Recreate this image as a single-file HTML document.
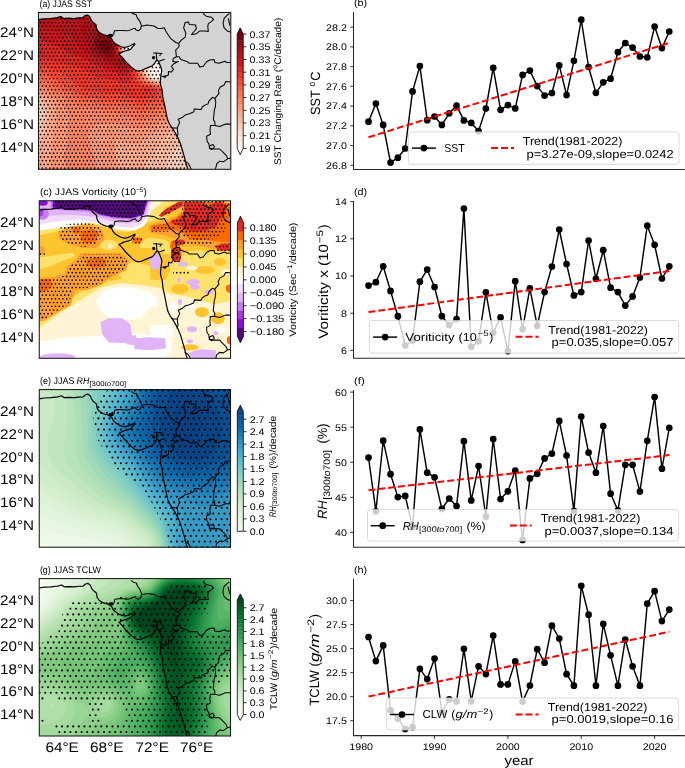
<!DOCTYPE html><html><head><meta charset="utf-8"><style>html,body{margin:0;padding:0;background:#fff;}svg{display:block;}</style></head><body>
<div style="will-change:transform;width:685px;height:768px">
<svg width="685" height="768" viewBox="0 0 685 768" font-family='"Liberation Sans", sans-serif' text-rendering="geometricPrecision">
<defs>
<clipPath id="clipA"><rect x="38.45" y="12.45" width="192.35" height="156.85"/></clipPath>
<clipPath id="clipC"><rect x="39.25" y="200.8" width="191.30" height="157.50"/></clipPath>
<clipPath id="clipE"><rect x="39.25" y="389.6" width="191.30" height="157.60"/></clipPath>
<clipPath id="clipG"><rect x="39.25" y="578.6" width="191.30" height="157.40"/></clipPath>
<pattern id="st3" patternUnits="userSpaceOnUse" x="0" y="0" width="67" height="67" patternTransform="scale(1.002985)"><g fill="#000"><circle cx="-0.55" cy="0.11" r="0.85"/><circle cx="3.17" cy="0.11" r="0.85"/><circle cx="6.89" cy="0.11" r="0.85"/><circle cx="10.62" cy="0.11" r="0.85"/><circle cx="14.34" cy="0.11" r="0.85"/><circle cx="18.06" cy="0.11" r="0.85"/><circle cx="21.78" cy="0.11" r="0.85"/><circle cx="25.51" cy="0.11" r="0.85"/><circle cx="29.23" cy="0.11" r="0.85"/><circle cx="32.95" cy="0.11" r="0.85"/><circle cx="36.67" cy="0.11" r="0.85"/><circle cx="40.39" cy="0.11" r="0.85"/><circle cx="44.12" cy="0.11" r="0.85"/><circle cx="47.84" cy="0.11" r="0.85"/><circle cx="51.56" cy="0.11" r="0.85"/><circle cx="55.28" cy="0.11" r="0.85"/><circle cx="59.01" cy="0.11" r="0.85"/><circle cx="62.73" cy="0.11" r="0.85"/><circle cx="66.45" cy="0.11" r="0.85"/><circle cx="1.31" cy="3.83" r="0.85"/><circle cx="5.03" cy="3.83" r="0.85"/><circle cx="8.76" cy="3.83" r="0.85"/><circle cx="12.48" cy="3.83" r="0.85"/><circle cx="16.20" cy="3.83" r="0.85"/><circle cx="19.92" cy="3.83" r="0.85"/><circle cx="23.64" cy="3.83" r="0.85"/><circle cx="27.37" cy="3.83" r="0.85"/><circle cx="31.09" cy="3.83" r="0.85"/><circle cx="34.81" cy="3.83" r="0.85"/><circle cx="38.53" cy="3.83" r="0.85"/><circle cx="42.26" cy="3.83" r="0.85"/><circle cx="45.98" cy="3.83" r="0.85"/><circle cx="49.70" cy="3.83" r="0.85"/><circle cx="53.42" cy="3.83" r="0.85"/><circle cx="57.14" cy="3.83" r="0.85"/><circle cx="60.87" cy="3.83" r="0.85"/><circle cx="64.59" cy="3.83" r="0.85"/><circle cx="68.31" cy="3.83" r="0.85"/><circle cx="-0.55" cy="7.55" r="0.85"/><circle cx="3.17" cy="7.55" r="0.85"/><circle cx="6.89" cy="7.55" r="0.85"/><circle cx="10.62" cy="7.55" r="0.85"/><circle cx="14.34" cy="7.55" r="0.85"/><circle cx="18.06" cy="7.55" r="0.85"/><circle cx="21.78" cy="7.55" r="0.85"/><circle cx="25.51" cy="7.55" r="0.85"/><circle cx="29.23" cy="7.55" r="0.85"/><circle cx="32.95" cy="7.55" r="0.85"/><circle cx="36.67" cy="7.55" r="0.85"/><circle cx="40.39" cy="7.55" r="0.85"/><circle cx="44.12" cy="7.55" r="0.85"/><circle cx="47.84" cy="7.55" r="0.85"/><circle cx="51.56" cy="7.55" r="0.85"/><circle cx="55.28" cy="7.55" r="0.85"/><circle cx="59.01" cy="7.55" r="0.85"/><circle cx="62.73" cy="7.55" r="0.85"/><circle cx="66.45" cy="7.55" r="0.85"/><circle cx="1.31" cy="11.28" r="0.85"/><circle cx="5.03" cy="11.28" r="0.85"/><circle cx="8.76" cy="11.28" r="0.85"/><circle cx="12.48" cy="11.28" r="0.85"/><circle cx="16.20" cy="11.28" r="0.85"/><circle cx="19.92" cy="11.28" r="0.85"/><circle cx="23.64" cy="11.28" r="0.85"/><circle cx="27.37" cy="11.28" r="0.85"/><circle cx="31.09" cy="11.28" r="0.85"/><circle cx="34.81" cy="11.28" r="0.85"/><circle cx="38.53" cy="11.28" r="0.85"/><circle cx="42.26" cy="11.28" r="0.85"/><circle cx="45.98" cy="11.28" r="0.85"/><circle cx="49.70" cy="11.28" r="0.85"/><circle cx="53.42" cy="11.28" r="0.85"/><circle cx="57.14" cy="11.28" r="0.85"/><circle cx="60.87" cy="11.28" r="0.85"/><circle cx="64.59" cy="11.28" r="0.85"/><circle cx="68.31" cy="11.28" r="0.85"/><circle cx="-0.55" cy="15.00" r="0.85"/><circle cx="3.17" cy="15.00" r="0.85"/><circle cx="6.89" cy="15.00" r="0.85"/><circle cx="10.62" cy="15.00" r="0.85"/><circle cx="14.34" cy="15.00" r="0.85"/><circle cx="18.06" cy="15.00" r="0.85"/><circle cx="21.78" cy="15.00" r="0.85"/><circle cx="25.51" cy="15.00" r="0.85"/><circle cx="29.23" cy="15.00" r="0.85"/><circle cx="32.95" cy="15.00" r="0.85"/><circle cx="36.67" cy="15.00" r="0.85"/><circle cx="40.39" cy="15.00" r="0.85"/><circle cx="44.12" cy="15.00" r="0.85"/><circle cx="47.84" cy="15.00" r="0.85"/><circle cx="51.56" cy="15.00" r="0.85"/><circle cx="55.28" cy="15.00" r="0.85"/><circle cx="59.01" cy="15.00" r="0.85"/><circle cx="62.73" cy="15.00" r="0.85"/><circle cx="66.45" cy="15.00" r="0.85"/><circle cx="1.31" cy="18.72" r="0.85"/><circle cx="5.03" cy="18.72" r="0.85"/><circle cx="8.76" cy="18.72" r="0.85"/><circle cx="12.48" cy="18.72" r="0.85"/><circle cx="16.20" cy="18.72" r="0.85"/><circle cx="19.92" cy="18.72" r="0.85"/><circle cx="23.64" cy="18.72" r="0.85"/><circle cx="27.37" cy="18.72" r="0.85"/><circle cx="31.09" cy="18.72" r="0.85"/><circle cx="34.81" cy="18.72" r="0.85"/><circle cx="38.53" cy="18.72" r="0.85"/><circle cx="42.26" cy="18.72" r="0.85"/><circle cx="45.98" cy="18.72" r="0.85"/><circle cx="49.70" cy="18.72" r="0.85"/><circle cx="53.42" cy="18.72" r="0.85"/><circle cx="57.14" cy="18.72" r="0.85"/><circle cx="60.87" cy="18.72" r="0.85"/><circle cx="64.59" cy="18.72" r="0.85"/><circle cx="68.31" cy="18.72" r="0.85"/><circle cx="-0.55" cy="22.44" r="0.85"/><circle cx="3.17" cy="22.44" r="0.85"/><circle cx="6.89" cy="22.44" r="0.85"/><circle cx="10.62" cy="22.44" r="0.85"/><circle cx="14.34" cy="22.44" r="0.85"/><circle cx="18.06" cy="22.44" r="0.85"/><circle cx="21.78" cy="22.44" r="0.85"/><circle cx="25.51" cy="22.44" r="0.85"/><circle cx="29.23" cy="22.44" r="0.85"/><circle cx="32.95" cy="22.44" r="0.85"/><circle cx="36.67" cy="22.44" r="0.85"/><circle cx="40.39" cy="22.44" r="0.85"/><circle cx="44.12" cy="22.44" r="0.85"/><circle cx="47.84" cy="22.44" r="0.85"/><circle cx="51.56" cy="22.44" r="0.85"/><circle cx="55.28" cy="22.44" r="0.85"/><circle cx="59.01" cy="22.44" r="0.85"/><circle cx="62.73" cy="22.44" r="0.85"/><circle cx="66.45" cy="22.44" r="0.85"/><circle cx="1.31" cy="26.17" r="0.85"/><circle cx="5.03" cy="26.17" r="0.85"/><circle cx="8.76" cy="26.17" r="0.85"/><circle cx="12.48" cy="26.17" r="0.85"/><circle cx="16.20" cy="26.17" r="0.85"/><circle cx="19.92" cy="26.17" r="0.85"/><circle cx="23.64" cy="26.17" r="0.85"/><circle cx="27.37" cy="26.17" r="0.85"/><circle cx="31.09" cy="26.17" r="0.85"/><circle cx="34.81" cy="26.17" r="0.85"/><circle cx="38.53" cy="26.17" r="0.85"/><circle cx="42.26" cy="26.17" r="0.85"/><circle cx="45.98" cy="26.17" r="0.85"/><circle cx="49.70" cy="26.17" r="0.85"/><circle cx="53.42" cy="26.17" r="0.85"/><circle cx="57.14" cy="26.17" r="0.85"/><circle cx="60.87" cy="26.17" r="0.85"/><circle cx="64.59" cy="26.17" r="0.85"/><circle cx="68.31" cy="26.17" r="0.85"/><circle cx="-0.55" cy="29.89" r="0.85"/><circle cx="3.17" cy="29.89" r="0.85"/><circle cx="6.89" cy="29.89" r="0.85"/><circle cx="10.62" cy="29.89" r="0.85"/><circle cx="14.34" cy="29.89" r="0.85"/><circle cx="18.06" cy="29.89" r="0.85"/><circle cx="21.78" cy="29.89" r="0.85"/><circle cx="25.51" cy="29.89" r="0.85"/><circle cx="29.23" cy="29.89" r="0.85"/><circle cx="32.95" cy="29.89" r="0.85"/><circle cx="36.67" cy="29.89" r="0.85"/><circle cx="40.39" cy="29.89" r="0.85"/><circle cx="44.12" cy="29.89" r="0.85"/><circle cx="47.84" cy="29.89" r="0.85"/><circle cx="51.56" cy="29.89" r="0.85"/><circle cx="55.28" cy="29.89" r="0.85"/><circle cx="59.01" cy="29.89" r="0.85"/><circle cx="62.73" cy="29.89" r="0.85"/><circle cx="66.45" cy="29.89" r="0.85"/><circle cx="1.31" cy="33.61" r="0.85"/><circle cx="5.03" cy="33.61" r="0.85"/><circle cx="8.76" cy="33.61" r="0.85"/><circle cx="12.48" cy="33.61" r="0.85"/><circle cx="16.20" cy="33.61" r="0.85"/><circle cx="19.92" cy="33.61" r="0.85"/><circle cx="23.64" cy="33.61" r="0.85"/><circle cx="27.37" cy="33.61" r="0.85"/><circle cx="31.09" cy="33.61" r="0.85"/><circle cx="34.81" cy="33.61" r="0.85"/><circle cx="38.53" cy="33.61" r="0.85"/><circle cx="42.26" cy="33.61" r="0.85"/><circle cx="45.98" cy="33.61" r="0.85"/><circle cx="49.70" cy="33.61" r="0.85"/><circle cx="53.42" cy="33.61" r="0.85"/><circle cx="57.14" cy="33.61" r="0.85"/><circle cx="60.87" cy="33.61" r="0.85"/><circle cx="64.59" cy="33.61" r="0.85"/><circle cx="68.31" cy="33.61" r="0.85"/><circle cx="-0.55" cy="37.33" r="0.85"/><circle cx="3.17" cy="37.33" r="0.85"/><circle cx="6.89" cy="37.33" r="0.85"/><circle cx="10.62" cy="37.33" r="0.85"/><circle cx="14.34" cy="37.33" r="0.85"/><circle cx="18.06" cy="37.33" r="0.85"/><circle cx="21.78" cy="37.33" r="0.85"/><circle cx="25.51" cy="37.33" r="0.85"/><circle cx="29.23" cy="37.33" r="0.85"/><circle cx="32.95" cy="37.33" r="0.85"/><circle cx="36.67" cy="37.33" r="0.85"/><circle cx="40.39" cy="37.33" r="0.85"/><circle cx="44.12" cy="37.33" r="0.85"/><circle cx="47.84" cy="37.33" r="0.85"/><circle cx="51.56" cy="37.33" r="0.85"/><circle cx="55.28" cy="37.33" r="0.85"/><circle cx="59.01" cy="37.33" r="0.85"/><circle cx="62.73" cy="37.33" r="0.85"/><circle cx="66.45" cy="37.33" r="0.85"/><circle cx="1.31" cy="41.05" r="0.85"/><circle cx="5.03" cy="41.05" r="0.85"/><circle cx="8.76" cy="41.05" r="0.85"/><circle cx="12.48" cy="41.05" r="0.85"/><circle cx="16.20" cy="41.05" r="0.85"/><circle cx="19.92" cy="41.05" r="0.85"/><circle cx="23.64" cy="41.05" r="0.85"/><circle cx="27.37" cy="41.05" r="0.85"/><circle cx="31.09" cy="41.05" r="0.85"/><circle cx="34.81" cy="41.05" r="0.85"/><circle cx="38.53" cy="41.05" r="0.85"/><circle cx="42.26" cy="41.05" r="0.85"/><circle cx="45.98" cy="41.05" r="0.85"/><circle cx="49.70" cy="41.05" r="0.85"/><circle cx="53.42" cy="41.05" r="0.85"/><circle cx="57.14" cy="41.05" r="0.85"/><circle cx="60.87" cy="41.05" r="0.85"/><circle cx="64.59" cy="41.05" r="0.85"/><circle cx="68.31" cy="41.05" r="0.85"/><circle cx="-0.55" cy="44.78" r="0.85"/><circle cx="3.17" cy="44.78" r="0.85"/><circle cx="6.89" cy="44.78" r="0.85"/><circle cx="10.62" cy="44.78" r="0.85"/><circle cx="14.34" cy="44.78" r="0.85"/><circle cx="18.06" cy="44.78" r="0.85"/><circle cx="21.78" cy="44.78" r="0.85"/><circle cx="25.51" cy="44.78" r="0.85"/><circle cx="29.23" cy="44.78" r="0.85"/><circle cx="32.95" cy="44.78" r="0.85"/><circle cx="36.67" cy="44.78" r="0.85"/><circle cx="40.39" cy="44.78" r="0.85"/><circle cx="44.12" cy="44.78" r="0.85"/><circle cx="47.84" cy="44.78" r="0.85"/><circle cx="51.56" cy="44.78" r="0.85"/><circle cx="55.28" cy="44.78" r="0.85"/><circle cx="59.01" cy="44.78" r="0.85"/><circle cx="62.73" cy="44.78" r="0.85"/><circle cx="66.45" cy="44.78" r="0.85"/><circle cx="1.31" cy="48.50" r="0.85"/><circle cx="5.03" cy="48.50" r="0.85"/><circle cx="8.76" cy="48.50" r="0.85"/><circle cx="12.48" cy="48.50" r="0.85"/><circle cx="16.20" cy="48.50" r="0.85"/><circle cx="19.92" cy="48.50" r="0.85"/><circle cx="23.64" cy="48.50" r="0.85"/><circle cx="27.37" cy="48.50" r="0.85"/><circle cx="31.09" cy="48.50" r="0.85"/><circle cx="34.81" cy="48.50" r="0.85"/><circle cx="38.53" cy="48.50" r="0.85"/><circle cx="42.26" cy="48.50" r="0.85"/><circle cx="45.98" cy="48.50" r="0.85"/><circle cx="49.70" cy="48.50" r="0.85"/><circle cx="53.42" cy="48.50" r="0.85"/><circle cx="57.14" cy="48.50" r="0.85"/><circle cx="60.87" cy="48.50" r="0.85"/><circle cx="64.59" cy="48.50" r="0.85"/><circle cx="68.31" cy="48.50" r="0.85"/><circle cx="-0.55" cy="52.22" r="0.85"/><circle cx="3.17" cy="52.22" r="0.85"/><circle cx="6.89" cy="52.22" r="0.85"/><circle cx="10.62" cy="52.22" r="0.85"/><circle cx="14.34" cy="52.22" r="0.85"/><circle cx="18.06" cy="52.22" r="0.85"/><circle cx="21.78" cy="52.22" r="0.85"/><circle cx="25.51" cy="52.22" r="0.85"/><circle cx="29.23" cy="52.22" r="0.85"/><circle cx="32.95" cy="52.22" r="0.85"/><circle cx="36.67" cy="52.22" r="0.85"/><circle cx="40.39" cy="52.22" r="0.85"/><circle cx="44.12" cy="52.22" r="0.85"/><circle cx="47.84" cy="52.22" r="0.85"/><circle cx="51.56" cy="52.22" r="0.85"/><circle cx="55.28" cy="52.22" r="0.85"/><circle cx="59.01" cy="52.22" r="0.85"/><circle cx="62.73" cy="52.22" r="0.85"/><circle cx="66.45" cy="52.22" r="0.85"/><circle cx="1.31" cy="55.94" r="0.85"/><circle cx="5.03" cy="55.94" r="0.85"/><circle cx="8.76" cy="55.94" r="0.85"/><circle cx="12.48" cy="55.94" r="0.85"/><circle cx="16.20" cy="55.94" r="0.85"/><circle cx="19.92" cy="55.94" r="0.85"/><circle cx="23.64" cy="55.94" r="0.85"/><circle cx="27.37" cy="55.94" r="0.85"/><circle cx="31.09" cy="55.94" r="0.85"/><circle cx="34.81" cy="55.94" r="0.85"/><circle cx="38.53" cy="55.94" r="0.85"/><circle cx="42.26" cy="55.94" r="0.85"/><circle cx="45.98" cy="55.94" r="0.85"/><circle cx="49.70" cy="55.94" r="0.85"/><circle cx="53.42" cy="55.94" r="0.85"/><circle cx="57.14" cy="55.94" r="0.85"/><circle cx="60.87" cy="55.94" r="0.85"/><circle cx="64.59" cy="55.94" r="0.85"/><circle cx="68.31" cy="55.94" r="0.85"/><circle cx="-0.55" cy="59.67" r="0.85"/><circle cx="3.17" cy="59.67" r="0.85"/><circle cx="6.89" cy="59.67" r="0.85"/><circle cx="10.62" cy="59.67" r="0.85"/><circle cx="14.34" cy="59.67" r="0.85"/><circle cx="18.06" cy="59.67" r="0.85"/><circle cx="21.78" cy="59.67" r="0.85"/><circle cx="25.51" cy="59.67" r="0.85"/><circle cx="29.23" cy="59.67" r="0.85"/><circle cx="32.95" cy="59.67" r="0.85"/><circle cx="36.67" cy="59.67" r="0.85"/><circle cx="40.39" cy="59.67" r="0.85"/><circle cx="44.12" cy="59.67" r="0.85"/><circle cx="47.84" cy="59.67" r="0.85"/><circle cx="51.56" cy="59.67" r="0.85"/><circle cx="55.28" cy="59.67" r="0.85"/><circle cx="59.01" cy="59.67" r="0.85"/><circle cx="62.73" cy="59.67" r="0.85"/><circle cx="66.45" cy="59.67" r="0.85"/><circle cx="1.31" cy="63.39" r="0.85"/><circle cx="5.03" cy="63.39" r="0.85"/><circle cx="8.76" cy="63.39" r="0.85"/><circle cx="12.48" cy="63.39" r="0.85"/><circle cx="16.20" cy="63.39" r="0.85"/><circle cx="19.92" cy="63.39" r="0.85"/><circle cx="23.64" cy="63.39" r="0.85"/><circle cx="27.37" cy="63.39" r="0.85"/><circle cx="31.09" cy="63.39" r="0.85"/><circle cx="34.81" cy="63.39" r="0.85"/><circle cx="38.53" cy="63.39" r="0.85"/><circle cx="42.26" cy="63.39" r="0.85"/><circle cx="45.98" cy="63.39" r="0.85"/><circle cx="49.70" cy="63.39" r="0.85"/><circle cx="53.42" cy="63.39" r="0.85"/><circle cx="57.14" cy="63.39" r="0.85"/><circle cx="60.87" cy="63.39" r="0.85"/><circle cx="64.59" cy="63.39" r="0.85"/><circle cx="68.31" cy="63.39" r="0.85"/><circle cx="-0.55" cy="67.11" r="0.85"/><circle cx="3.17" cy="67.11" r="0.85"/><circle cx="6.89" cy="67.11" r="0.85"/><circle cx="10.62" cy="67.11" r="0.85"/><circle cx="14.34" cy="67.11" r="0.85"/><circle cx="18.06" cy="67.11" r="0.85"/><circle cx="21.78" cy="67.11" r="0.85"/><circle cx="25.51" cy="67.11" r="0.85"/><circle cx="29.23" cy="67.11" r="0.85"/><circle cx="32.95" cy="67.11" r="0.85"/><circle cx="36.67" cy="67.11" r="0.85"/><circle cx="40.39" cy="67.11" r="0.85"/><circle cx="44.12" cy="67.11" r="0.85"/><circle cx="47.84" cy="67.11" r="0.85"/><circle cx="51.56" cy="67.11" r="0.85"/><circle cx="55.28" cy="67.11" r="0.85"/><circle cx="59.01" cy="67.11" r="0.85"/><circle cx="62.73" cy="67.11" r="0.85"/><circle cx="66.45" cy="67.11" r="0.85"/></g></pattern>
<pattern id="st2" patternUnits="userSpaceOnUse" x="0" y="0" width="67" height="67" patternTransform="scale(1.002985)"><g fill="#000"><circle cx="0.42" cy="-1.60" r="1.05"/><circle cx="6.00" cy="-1.60" r="1.05"/><circle cx="11.59" cy="-1.60" r="1.05"/><circle cx="17.17" cy="-1.60" r="1.05"/><circle cx="22.75" cy="-1.60" r="1.05"/><circle cx="28.34" cy="-1.60" r="1.05"/><circle cx="33.92" cy="-1.60" r="1.05"/><circle cx="39.50" cy="-1.60" r="1.05"/><circle cx="45.09" cy="-1.60" r="1.05"/><circle cx="50.67" cy="-1.60" r="1.05"/><circle cx="56.25" cy="-1.60" r="1.05"/><circle cx="61.84" cy="-1.60" r="1.05"/><circle cx="67.42" cy="-1.60" r="1.05"/><circle cx="3.21" cy="3.98" r="1.05"/><circle cx="8.79" cy="3.98" r="1.05"/><circle cx="14.38" cy="3.98" r="1.05"/><circle cx="19.96" cy="3.98" r="1.05"/><circle cx="25.54" cy="3.98" r="1.05"/><circle cx="31.13" cy="3.98" r="1.05"/><circle cx="36.71" cy="3.98" r="1.05"/><circle cx="42.29" cy="3.98" r="1.05"/><circle cx="47.88" cy="3.98" r="1.05"/><circle cx="53.46" cy="3.98" r="1.05"/><circle cx="59.04" cy="3.98" r="1.05"/><circle cx="64.63" cy="3.98" r="1.05"/><circle cx="0.42" cy="9.57" r="1.05"/><circle cx="6.00" cy="9.57" r="1.05"/><circle cx="11.59" cy="9.57" r="1.05"/><circle cx="17.17" cy="9.57" r="1.05"/><circle cx="22.75" cy="9.57" r="1.05"/><circle cx="28.34" cy="9.57" r="1.05"/><circle cx="33.92" cy="9.57" r="1.05"/><circle cx="39.50" cy="9.57" r="1.05"/><circle cx="45.09" cy="9.57" r="1.05"/><circle cx="50.67" cy="9.57" r="1.05"/><circle cx="56.25" cy="9.57" r="1.05"/><circle cx="61.84" cy="9.57" r="1.05"/><circle cx="67.42" cy="9.57" r="1.05"/><circle cx="3.21" cy="15.15" r="1.05"/><circle cx="8.79" cy="15.15" r="1.05"/><circle cx="14.38" cy="15.15" r="1.05"/><circle cx="19.96" cy="15.15" r="1.05"/><circle cx="25.54" cy="15.15" r="1.05"/><circle cx="31.13" cy="15.15" r="1.05"/><circle cx="36.71" cy="15.15" r="1.05"/><circle cx="42.29" cy="15.15" r="1.05"/><circle cx="47.88" cy="15.15" r="1.05"/><circle cx="53.46" cy="15.15" r="1.05"/><circle cx="59.04" cy="15.15" r="1.05"/><circle cx="64.63" cy="15.15" r="1.05"/><circle cx="0.42" cy="20.73" r="1.05"/><circle cx="6.00" cy="20.73" r="1.05"/><circle cx="11.59" cy="20.73" r="1.05"/><circle cx="17.17" cy="20.73" r="1.05"/><circle cx="22.75" cy="20.73" r="1.05"/><circle cx="28.34" cy="20.73" r="1.05"/><circle cx="33.92" cy="20.73" r="1.05"/><circle cx="39.50" cy="20.73" r="1.05"/><circle cx="45.09" cy="20.73" r="1.05"/><circle cx="50.67" cy="20.73" r="1.05"/><circle cx="56.25" cy="20.73" r="1.05"/><circle cx="61.84" cy="20.73" r="1.05"/><circle cx="67.42" cy="20.73" r="1.05"/><circle cx="3.21" cy="26.32" r="1.05"/><circle cx="8.79" cy="26.32" r="1.05"/><circle cx="14.38" cy="26.32" r="1.05"/><circle cx="19.96" cy="26.32" r="1.05"/><circle cx="25.54" cy="26.32" r="1.05"/><circle cx="31.13" cy="26.32" r="1.05"/><circle cx="36.71" cy="26.32" r="1.05"/><circle cx="42.29" cy="26.32" r="1.05"/><circle cx="47.88" cy="26.32" r="1.05"/><circle cx="53.46" cy="26.32" r="1.05"/><circle cx="59.04" cy="26.32" r="1.05"/><circle cx="64.63" cy="26.32" r="1.05"/><circle cx="0.42" cy="31.90" r="1.05"/><circle cx="6.00" cy="31.90" r="1.05"/><circle cx="11.59" cy="31.90" r="1.05"/><circle cx="17.17" cy="31.90" r="1.05"/><circle cx="22.75" cy="31.90" r="1.05"/><circle cx="28.34" cy="31.90" r="1.05"/><circle cx="33.92" cy="31.90" r="1.05"/><circle cx="39.50" cy="31.90" r="1.05"/><circle cx="45.09" cy="31.90" r="1.05"/><circle cx="50.67" cy="31.90" r="1.05"/><circle cx="56.25" cy="31.90" r="1.05"/><circle cx="61.84" cy="31.90" r="1.05"/><circle cx="67.42" cy="31.90" r="1.05"/><circle cx="3.21" cy="37.48" r="1.05"/><circle cx="8.79" cy="37.48" r="1.05"/><circle cx="14.38" cy="37.48" r="1.05"/><circle cx="19.96" cy="37.48" r="1.05"/><circle cx="25.54" cy="37.48" r="1.05"/><circle cx="31.13" cy="37.48" r="1.05"/><circle cx="36.71" cy="37.48" r="1.05"/><circle cx="42.29" cy="37.48" r="1.05"/><circle cx="47.88" cy="37.48" r="1.05"/><circle cx="53.46" cy="37.48" r="1.05"/><circle cx="59.04" cy="37.48" r="1.05"/><circle cx="64.63" cy="37.48" r="1.05"/><circle cx="0.42" cy="43.07" r="1.05"/><circle cx="6.00" cy="43.07" r="1.05"/><circle cx="11.59" cy="43.07" r="1.05"/><circle cx="17.17" cy="43.07" r="1.05"/><circle cx="22.75" cy="43.07" r="1.05"/><circle cx="28.34" cy="43.07" r="1.05"/><circle cx="33.92" cy="43.07" r="1.05"/><circle cx="39.50" cy="43.07" r="1.05"/><circle cx="45.09" cy="43.07" r="1.05"/><circle cx="50.67" cy="43.07" r="1.05"/><circle cx="56.25" cy="43.07" r="1.05"/><circle cx="61.84" cy="43.07" r="1.05"/><circle cx="67.42" cy="43.07" r="1.05"/><circle cx="3.21" cy="48.65" r="1.05"/><circle cx="8.79" cy="48.65" r="1.05"/><circle cx="14.38" cy="48.65" r="1.05"/><circle cx="19.96" cy="48.65" r="1.05"/><circle cx="25.54" cy="48.65" r="1.05"/><circle cx="31.13" cy="48.65" r="1.05"/><circle cx="36.71" cy="48.65" r="1.05"/><circle cx="42.29" cy="48.65" r="1.05"/><circle cx="47.88" cy="48.65" r="1.05"/><circle cx="53.46" cy="48.65" r="1.05"/><circle cx="59.04" cy="48.65" r="1.05"/><circle cx="64.63" cy="48.65" r="1.05"/><circle cx="0.42" cy="54.23" r="1.05"/><circle cx="6.00" cy="54.23" r="1.05"/><circle cx="11.59" cy="54.23" r="1.05"/><circle cx="17.17" cy="54.23" r="1.05"/><circle cx="22.75" cy="54.23" r="1.05"/><circle cx="28.34" cy="54.23" r="1.05"/><circle cx="33.92" cy="54.23" r="1.05"/><circle cx="39.50" cy="54.23" r="1.05"/><circle cx="45.09" cy="54.23" r="1.05"/><circle cx="50.67" cy="54.23" r="1.05"/><circle cx="56.25" cy="54.23" r="1.05"/><circle cx="61.84" cy="54.23" r="1.05"/><circle cx="67.42" cy="54.23" r="1.05"/><circle cx="3.21" cy="59.82" r="1.05"/><circle cx="8.79" cy="59.82" r="1.05"/><circle cx="14.38" cy="59.82" r="1.05"/><circle cx="19.96" cy="59.82" r="1.05"/><circle cx="25.54" cy="59.82" r="1.05"/><circle cx="31.13" cy="59.82" r="1.05"/><circle cx="36.71" cy="59.82" r="1.05"/><circle cx="42.29" cy="59.82" r="1.05"/><circle cx="47.88" cy="59.82" r="1.05"/><circle cx="53.46" cy="59.82" r="1.05"/><circle cx="59.04" cy="59.82" r="1.05"/><circle cx="64.63" cy="59.82" r="1.05"/><circle cx="0.42" cy="65.40" r="1.05"/><circle cx="6.00" cy="65.40" r="1.05"/><circle cx="11.59" cy="65.40" r="1.05"/><circle cx="17.17" cy="65.40" r="1.05"/><circle cx="22.75" cy="65.40" r="1.05"/><circle cx="28.34" cy="65.40" r="1.05"/><circle cx="33.92" cy="65.40" r="1.05"/><circle cx="39.50" cy="65.40" r="1.05"/><circle cx="45.09" cy="65.40" r="1.05"/><circle cx="50.67" cy="65.40" r="1.05"/><circle cx="56.25" cy="65.40" r="1.05"/><circle cx="61.84" cy="65.40" r="1.05"/><circle cx="67.42" cy="65.40" r="1.05"/></g></pattern>
</defs>
<rect width="685" height="768" fill="#fff"/>
<g clip-path="url(#clipA)">
<rect x="34.5" y="8.4" width="202.0" height="166.0" fill="#fff0e9"/>
<path d="M34.5,8.4 236.4,8.4 236.4,174.4 34.5,174.4 34.5,8.4ZM126.4,46.2 126.5,47.2 128.4,47.5 130.3,46.5 128.4,44.9 126.4,46.2ZM152.4,64.1 150.4,66.3 149.9,68.5 150.5,72.5 152.4,75.5 154.4,77.1 156.4,77.7 160.4,77.7 163.4,76.5 164.6,74.5 164.6,72.5 162.4,68.1 160.4,66.0 156.4,63.7 154.4,63.5 152.4,64.1Z" fill="#fee7dc" fill-rule="evenodd"/>
<path d="M34.5,8.4 236.4,8.4 236.4,174.4 34.5,174.4 34.5,8.4ZM128.4,42.2 126.5,43.6 124.4,46.4 124.5,48.9 126.5,49.6 130.4,49.0 131.9,48.5 134.1,46.5 134.4,44.5 133.0,42.5 130.4,41.7 128.4,42.2ZM150.4,62.2 148.4,66.0 148.2,70.5 149.7,74.5 151.3,76.5 154.4,78.5 158.4,79.1 163.6,78.5 166.1,76.5 166.9,74.5 166.3,70.5 164.4,67.4 161.9,64.5 158.4,61.8 156.4,61.0 154.4,60.6 152.4,60.9 150.4,62.2Z" fill="#fedccd" fill-rule="evenodd"/>
<path d="M34.5,8.4 236.4,8.4 236.4,174.4 34.5,174.4 34.5,8.4ZM128.4,40.2 126.5,41.7 124.4,44.5 123.3,48.5 124.5,50.2 126.5,50.7 130.1,50.5 136.0,48.5 137.6,46.5 137.6,44.5 136.4,42.1 134.6,40.5 132.4,39.6 130.4,39.5 128.4,40.2ZM150.4,58.3 148.4,60.5 147.6,62.5 146.6,68.5 147.2,72.5 149.5,76.5 152.0,78.5 154.4,79.5 158.4,80.2 162.4,80.2 167.0,78.5 168.6,76.5 169.3,74.5 169.2,72.5 167.5,68.5 164.5,64.5 160.4,60.5 156.4,58.3 152.4,57.7 150.4,58.3Z" fill="#fdccb8" fill-rule="evenodd"/>
<path d="M34.5,8.4 236.4,8.4 236.4,171.5 226.4,167.2 192.4,148.3 186.4,146.3 182.4,145.9 178.4,146.7 176.4,147.7 174.4,149.2 171.7,152.4 169.2,156.4 166.6,162.4 163.1,174.4 34.5,174.4 34.5,135.4 38.5,128.3 41.1,122.5 42.6,116.5 42.9,112.5 42.2,108.5 40.5,105.4 38.5,103.4 34.5,101.4 34.5,8.4ZM128.4,38.3 126.4,39.8 123.6,44.5 122.4,48.5 123.5,50.5 126.5,51.5 132.4,51.2 137.8,50.5 141.2,48.5 141.4,46.5 140.8,44.5 138.4,40.8 136.4,39.0 132.4,37.5 130.4,37.6 128.4,38.3ZM150.4,54.2 148.4,54.6 146.9,56.5 145.7,62.5 145.4,70.5 146.4,74.5 147.7,76.5 150.0,78.5 152.4,79.8 156.4,81.0 164.4,81.2 168.4,79.8 170.4,78.0 171.4,76.5 171.8,74.5 171.6,72.5 169.8,68.5 164.4,61.6 160.4,57.8 156.4,55.5 150.4,54.2Z" fill="#fcbba1" fill-rule="evenodd"/>
<path d="M34.5,8.4 236.4,8.4 236.4,147.1 224.4,143.4 201.2,134.4 192.4,131.6 184.4,130.0 176.4,130.1 172.4,131.3 170.1,132.4 166.4,135.4 162.4,140.0 156.4,149.5 146.5,162.4 145.1,166.4 143.7,174.4 34.6,174.4 35.8,168.4 39.8,158.4 40.2,144.4 47.2,124.5 48.9,116.5 49.1,112.5 47.6,106.5 45.0,102.5 40.0,98.5 34.5,96.3 34.5,8.4ZM128.4,36.4 126.5,37.9 123.6,42.5 122.2,46.5 121.9,48.5 122.3,50.5 124.5,51.8 126.4,52.2 136.4,52.5 140.4,53.6 141.7,54.5 143.1,56.5 143.6,58.5 144.3,72.5 144.9,74.5 146.4,77.0 148.0,78.5 151.6,80.5 158.4,82.2 166.4,82.4 170.4,81.2 172.4,79.8 173.7,78.5 174.5,76.5 174.7,74.5 173.6,70.5 170.9,66.5 162.4,56.6 158.4,53.7 147.8,48.5 146.4,47.3 141.1,40.5 136.4,36.6 132.4,35.4 128.4,36.4Z" fill="#fca98c" fill-rule="evenodd"/>
<path d="M34.5,8.4 236.4,8.4 236.4,127.0 222.4,125.2 192.4,119.6 182.4,119.3 174.4,120.6 168.4,123.1 148.4,137.2 136.4,143.9 134.4,144.5 132.4,144.2 120.4,139.9 118.4,139.5 116.5,139.9 115.3,142.4 114.6,148.4 114.6,154.4 115.9,160.4 119.9,170.4 120.4,174.4 51.5,174.4 49.8,164.4 49.6,156.4 52.3,144.4 53.1,132.4 55.9,116.5 56.1,112.5 55.3,108.5 54.4,106.5 49.9,100.5 44.5,96.3 40.5,94.4 34.5,92.2 34.5,8.4ZM128.4,34.4 125.9,36.5 123.5,40.5 121.7,46.5 121.5,50.5 122.5,51.5 124.5,52.5 134.4,53.7 137.1,54.5 140.0,56.5 142.0,60.5 143.4,74.5 144.3,76.5 146.0,78.5 149.2,80.5 154.4,82.4 164.4,83.9 168.4,84.0 172.4,83.4 174.6,82.5 176.4,80.8 177.9,78.5 178.3,76.5 177.8,72.5 176.9,70.5 175.7,68.5 170.1,62.5 164.4,55.4 160.4,52.1 148.4,44.9 138.4,35.5 134.4,33.7 132.4,33.4 128.4,34.4Z" fill="#fc9777" fill-rule="evenodd"/>
<path d="M34.5,8.4 236.4,8.4 236.4,108.4 220.4,109.5 192.4,108.3 184.4,109.1 178.4,110.8 170.4,114.2 166.4,116.5 160.4,121.5 156.4,123.9 150.5,126.4 144.4,128.0 140.4,128.2 136.4,127.8 108.5,122.7 104.5,123.0 94.5,125.2 91.8,126.5 89.9,128.4 88.3,132.4 88.1,136.4 89.3,142.4 94.1,154.4 95.6,160.4 96.0,168.4 95.1,174.4 69.8,174.4 64.6,162.4 63.5,158.4 63.4,156.4 64.2,152.4 67.4,142.4 67.3,130.4 68.7,118.5 67.8,112.5 65.7,108.5 64.1,106.5 59.9,102.5 52.4,96.5 45.6,92.5 34.5,88.0 34.5,8.4ZM128.4,32.3 125.7,34.5 123.2,38.5 121.9,42.5 120.7,50.5 122.6,52.5 126.5,53.6 134.4,55.0 137.3,56.5 138.4,57.5 140.2,60.5 140.7,62.5 141.9,74.5 144.1,78.5 146.7,80.5 152.4,82.8 170.4,86.5 176.4,86.6 178.4,85.9 180.7,84.5 182.3,82.5 183.5,78.5 183.4,76.5 182.3,72.5 179.9,68.5 172.4,61.1 166.4,53.9 160.4,49.1 150.4,43.2 138.4,33.2 134.4,31.6 132.4,31.4 128.4,32.3Z" fill="#fc8565" fill-rule="evenodd"/>
<path d="M34.5,8.4 236.4,8.4 236.4,87.0 226.4,90.5 216.4,92.7 206.4,93.5 200.1,92.5 197.2,90.5 195.8,88.5 192.5,78.5 190.7,74.5 188.2,70.5 184.5,66.5 174.4,58.2 169.0,52.5 164.2,48.5 150.4,40.5 138.4,30.9 134.4,29.4 130.4,29.3 126.4,31.2 124.5,33.3 122.7,36.5 121.6,40.5 120.2,48.5 120.1,50.5 120.5,51.3 121.5,52.5 124.5,53.8 130.4,54.9 134.4,56.3 137.2,58.5 138.4,60.5 139.6,64.5 140.1,72.5 141.0,76.5 142.1,78.5 144.2,80.5 152.4,83.8 163.3,86.5 171.1,90.5 175.8,94.5 176.6,96.5 176.6,98.5 175.9,100.5 172.4,104.5 156.4,116.3 150.4,119.0 142.4,120.5 138.4,120.1 128.4,116.3 120.5,114.6 110.5,111.4 100.5,110.3 90.5,107.6 82.5,106.9 78.5,105.8 48.5,89.1 38.5,84.9 34.5,82.5 34.5,8.4Z" fill="#fb7353" fill-rule="evenodd"/>
<path d="M34.5,8.4 236.4,8.4 236.4,56.0 224.4,63.6 218.4,66.5 214.4,67.8 210.4,68.3 204.4,67.8 196.4,64.9 180.4,56.9 166.6,46.5 150.4,37.9 138.4,28.5 136.4,27.5 132.4,26.8 128.4,27.5 124.5,30.3 122.1,34.5 121.0,38.5 119.5,50.5 120.4,52.5 124.5,54.4 132.4,56.5 135.3,58.5 136.8,60.5 138.1,64.5 138.8,74.5 140.4,79.0 142.4,81.1 144.7,82.5 160.4,86.9 163.4,88.5 165.7,90.5 167.2,92.5 167.9,94.5 168.0,96.5 167.4,98.5 164.2,102.5 156.4,108.2 150.4,111.1 144.4,112.1 138.4,111.1 132.4,108.4 128.4,107.3 100.5,104.0 84.5,101.2 78.5,99.1 70.5,94.8 60.1,90.5 50.4,84.4 34.5,75.7 34.5,8.4Z" fill="#f85f43" fill-rule="evenodd"/>
<path d="M34.5,8.4 236.4,8.4 236.4,27.6 220.4,36.5 202.4,48.7 196.4,51.2 190.4,51.9 184.4,51.1 180.4,49.8 166.1,42.5 152.4,36.5 148.4,34.0 140.4,26.9 136.4,24.9 132.4,24.1 130.4,24.2 126.5,25.5 124.5,27.0 121.9,30.4 120.5,34.7 119.6,46.5 118.9,50.5 119.6,52.5 122.4,54.3 130.4,56.7 133.4,58.5 135.1,60.5 136.0,62.5 136.9,66.5 137.2,76.5 138.4,79.7 140.4,82.1 144.4,84.1 150.4,85.4 159.8,88.5 162.0,90.5 162.8,92.5 162.8,94.5 161.8,96.5 158.4,99.9 156.4,101.2 146.4,104.7 140.4,104.9 122.5,101.0 106.5,99.7 90.4,97.5 84.5,95.9 78.5,93.4 62.5,84.8 56.4,80.5 50.5,77.0 34.5,69.2 34.5,8.4Z" fill="#f34a36" fill-rule="evenodd"/>
<path d="M34.5,8.4 236.4,8.4 236.4,10.0 227.5,14.4 202.8,30.4 192.4,39.2 188.4,41.4 184.5,42.4 180.4,42.4 174.4,41.3 154.4,34.7 150.1,32.5 142.4,25.2 136.4,21.8 132.4,21.0 128.4,21.4 125.9,22.4 123.2,24.4 120.5,28.4 119.2,32.5 118.8,36.5 119.1,46.5 118.3,50.5 118.7,52.5 121.1,54.5 130.4,57.8 133.4,60.5 134.4,62.5 135.2,66.5 135.1,78.5 136.4,82.1 138.4,84.2 142.4,85.9 150.4,86.8 157.5,90.5 158.3,92.5 157.4,94.5 154.4,96.6 142.4,99.3 138.4,99.1 130.4,97.5 118.5,93.3 108.5,93.3 100.3,92.5 90.4,90.9 82.5,88.6 78.7,86.5 68.5,77.2 62.5,73.4 34.5,63.0 34.5,8.4Z" fill="#eb372a" fill-rule="evenodd"/>
<path d="M34.5,8.4 216.9,8.4 200.4,21.1 188.4,31.1 184.4,33.6 178.4,35.4 174.4,35.5 168.4,34.9 160.4,33.3 154.4,31.4 150.4,29.0 142.4,21.5 138.4,19.1 134.4,17.7 128.4,17.6 124.5,19.0 122.4,20.4 119.3,24.4 117.5,30.4 117.5,36.5 118.6,46.5 117.6,50.5 117.9,52.5 120.5,54.9 129.5,58.5 130.4,59.2 132.7,62.5 133.4,66.5 132.4,73.3 130.4,80.5 128.4,83.3 126.5,83.7 114.5,80.0 96.5,76.7 92.5,75.2 82.5,68.7 78.5,66.9 41.1,58.5 36.5,56.4 34.5,54.5 34.5,8.4ZM144.1,90.5 148.4,89.1 151.3,90.5 150.7,92.5 146.4,93.0 144.2,92.5 144.1,90.5Z" fill="#db2824" fill-rule="evenodd"/>
<path d="M34.5,8.4 202.5,8.4 188.4,21.2 182.4,25.8 176.4,28.7 170.4,29.7 162.4,29.4 156.4,27.9 152.4,25.5 142.4,16.9 138.4,14.8 134.4,13.4 130.4,12.9 126.5,13.3 122.5,14.9 120.5,16.2 117.0,20.4 115.2,26.4 115.3,32.5 117.9,46.5 116.9,50.5 117.0,52.5 118.5,54.7 127.0,58.5 129.7,60.5 130.9,62.5 131.3,64.5 131.0,68.5 129.3,72.5 128.4,73.7 126.4,75.2 124.4,75.6 120.5,74.9 112.5,71.3 102.1,68.5 91.9,62.5 68.9,52.5 58.5,46.6 48.5,43.4 38.5,37.8 34.5,36.3 34.5,8.4Z" fill="#ca181d" fill-rule="evenodd"/>
<path d="M36.3,8.4 121.5,8.4 116.5,11.2 113.6,14.4 112.5,16.5 111.3,20.4 111.4,26.4 112.9,32.5 116.8,44.5 117.1,46.5 116.0,52.5 116.4,53.7 118.5,55.9 124.8,58.5 127.5,60.5 128.8,62.5 129.2,64.5 128.0,68.5 126.5,70.2 124.4,71.1 122.5,71.2 118.5,69.8 114.5,67.3 106.5,64.7 104.5,63.7 98.5,58.9 88.9,54.5 83.2,50.5 79.2,46.5 74.5,40.3 68.5,35.8 62.5,33.3 40.9,28.4 38.5,27.5 37.3,26.4 36.5,24.4 36.6,22.4 38.0,18.4 38.3,14.4 38.0,12.4 36.3,8.4ZM135.8,8.4 190.4,8.4 182.4,16.0 176.4,20.3 170.4,22.8 164.4,23.5 160.4,23.1 156.4,21.6 144.4,12.6 140.4,10.3 135.8,8.4Z" fill="#b91419" fill-rule="evenodd"/>
<path d="M95.7,8.4 99.0,8.4 98.5,9.4 96.5,10.4 114.4,41.0 116.2,46.5 115.0,50.5 115.1,54.5 116.5,56.3 118.4,57.4 122.6,58.5 125.1,60.5 126.3,62.5 126.5,64.5 124.4,67.1 122.5,67.5 120.5,67.1 106.5,60.4 91.8,50.5 89.9,48.5 87.5,44.5 84.5,35.2 80.2,28.4 80.5,27.1 80.7,26.4 88.2,20.4 94.5,13.0 95.4,12.4 96.4,10.4 95.7,8.4ZM149.9,8.4 177.2,8.4 170.4,12.8 164.4,14.4 158.4,13.4 149.9,8.4Z" fill="#a91016" fill-rule="evenodd"/>
<path d="M97.6,34.5 100.5,33.5 104.5,34.4 108.5,36.6 112.5,41.0 114.3,44.5 114.7,46.5 112.9,52.5 112.5,56.7 110.5,57.7 106.5,56.4 99.9,52.5 95.6,48.5 93.8,44.5 93.8,40.5 95.6,36.5 97.6,34.5ZM118.2,60.5 121.1,60.5 122.2,62.4 120.5,62.9 119.4,62.5 118.2,60.5Z" fill="#900a12" fill-rule="evenodd"/>
<path d="M101.4,40.5 104.4,39.7 106.5,39.9 108.5,40.7 110.5,42.5 111.7,44.5 112.1,46.5 110.5,51.2 108.9,52.5 106.5,52.7 104.5,52.0 102.1,50.5 100.2,48.5 99.2,46.5 99.0,44.5 99.5,42.5 101.4,40.5Z" fill="#75030f" fill-rule="evenodd"/>
<path d="M105.3,46.5 106.5,46.1 106.7,46.5 106.5,46.9 105.3,46.5Z" fill="#67000d" fill-rule="evenodd"/>
<path d="M38.65 11.31h0M42.38 11.31h0M46.12 11.31h0M49.85 11.31h0M53.58 11.31h0M57.32 11.31h0M61.05 11.31h0M64.78 11.31h0M68.52 11.31h0M72.25 11.31h0M75.98 11.31h0M79.72 11.31h0M83.45 11.31h0M87.18 11.31h0M90.92 11.31h0M94.65 11.31h0M98.38 11.31h0M102.12 11.31h0M105.85 11.31h0M109.58 11.31h0M113.32 11.31h0M117.05 11.31h0M120.78 11.31h0M124.52 11.31h0M128.25 11.31h0M131.98 11.31h0M135.72 11.31h0M139.45 11.31h0M143.18 11.31h0M146.92 11.31h0M150.65 11.31h0M154.38 11.31h0M158.12 11.31h0M161.85 11.31h0M165.58 11.31h0M169.32 11.31h0M173.05 11.31h0M176.78 11.31h0M180.52 11.31h0M184.25 11.31h0M187.98 11.31h0M191.72 11.31h0M195.45 11.31h0M199.18 11.31h0M202.92 11.31h0M206.65 11.31h0M210.38 11.31h0M214.12 11.31h0M217.85 11.31h0M221.58 11.31h0M225.32 11.31h0M229.05 11.31h0M232.78 11.31h0M36.78 15.04h0M40.52 15.04h0M44.25 15.04h0M47.98 15.04h0M51.72 15.04h0M55.45 15.04h0M59.18 15.04h0M62.92 15.04h0M66.65 15.04h0M70.38 15.04h0M74.12 15.04h0M77.85 15.04h0M81.58 15.04h0M85.32 15.04h0M89.05 15.04h0M92.78 15.04h0M96.52 15.04h0M100.25 15.04h0M103.98 15.04h0M107.72 15.04h0M111.45 15.04h0M115.18 15.04h0M118.92 15.04h0M122.65 15.04h0M126.38 15.04h0M130.12 15.04h0M133.85 15.04h0M137.58 15.04h0M141.32 15.04h0M145.05 15.04h0M148.78 15.04h0M152.52 15.04h0M156.25 15.04h0M159.98 15.04h0M163.72 15.04h0M167.45 15.04h0M171.18 15.04h0M174.92 15.04h0M178.65 15.04h0M182.38 15.04h0M186.12 15.04h0M189.85 15.04h0M193.58 15.04h0M197.32 15.04h0M201.05 15.04h0M204.78 15.04h0M208.52 15.04h0M212.25 15.04h0M215.98 15.04h0M219.72 15.04h0M223.45 15.04h0M227.18 15.04h0M230.92 15.04h0M38.65 18.78h0M42.38 18.78h0M46.12 18.78h0M49.85 18.78h0M53.58 18.78h0M57.32 18.78h0M61.05 18.78h0M64.78 18.78h0M68.52 18.78h0M72.25 18.78h0M75.98 18.78h0M79.72 18.78h0M83.45 18.78h0M87.18 18.78h0M90.92 18.78h0M94.65 18.78h0M98.38 18.78h0M102.12 18.78h0M105.85 18.78h0M109.58 18.78h0M113.32 18.78h0M117.05 18.78h0M120.78 18.78h0M124.52 18.78h0M128.25 18.78h0M131.98 18.78h0M135.72 18.78h0M139.45 18.78h0M143.18 18.78h0M146.92 18.78h0M150.65 18.78h0M154.38 18.78h0M158.12 18.78h0M161.85 18.78h0M165.58 18.78h0M169.32 18.78h0M173.05 18.78h0M176.78 18.78h0M180.52 18.78h0M184.25 18.78h0M187.98 18.78h0M191.72 18.78h0M195.45 18.78h0M199.18 18.78h0M202.92 18.78h0M206.65 18.78h0M210.38 18.78h0M214.12 18.78h0M217.85 18.78h0M221.58 18.78h0M225.32 18.78h0M229.05 18.78h0M232.78 18.78h0M36.78 22.51h0M40.52 22.51h0M44.25 22.51h0M47.98 22.51h0M51.72 22.51h0M55.45 22.51h0M59.18 22.51h0M62.92 22.51h0M66.65 22.51h0M70.38 22.51h0M74.12 22.51h0M77.85 22.51h0M81.58 22.51h0M85.32 22.51h0M89.05 22.51h0M92.78 22.51h0M96.52 22.51h0M100.25 22.51h0M103.98 22.51h0M107.72 22.51h0M111.45 22.51h0M115.18 22.51h0M118.92 22.51h0M122.65 22.51h0M126.38 22.51h0M130.12 22.51h0M133.85 22.51h0M137.58 22.51h0M141.32 22.51h0M145.05 22.51h0M148.78 22.51h0M152.52 22.51h0M156.25 22.51h0M159.98 22.51h0M163.72 22.51h0M167.45 22.51h0M171.18 22.51h0M174.92 22.51h0M178.65 22.51h0M182.38 22.51h0M186.12 22.51h0M189.85 22.51h0M193.58 22.51h0M197.32 22.51h0M201.05 22.51h0M204.78 22.51h0M208.52 22.51h0M212.25 22.51h0M215.98 22.51h0M219.72 22.51h0M223.45 22.51h0M227.18 22.51h0M230.92 22.51h0M38.65 26.24h0M42.38 26.24h0M46.12 26.24h0M49.85 26.24h0M53.58 26.24h0M57.32 26.24h0M61.05 26.24h0M64.78 26.24h0M68.52 26.24h0M72.25 26.24h0M75.98 26.24h0M79.72 26.24h0M83.45 26.24h0M87.18 26.24h0M90.92 26.24h0M94.65 26.24h0M98.38 26.24h0M102.12 26.24h0M105.85 26.24h0M109.58 26.24h0M113.32 26.24h0M117.05 26.24h0M120.78 26.24h0M124.52 26.24h0M128.25 26.24h0M131.98 26.24h0M135.72 26.24h0M139.45 26.24h0M143.18 26.24h0M146.92 26.24h0M150.65 26.24h0M154.38 26.24h0M158.12 26.24h0M161.85 26.24h0M165.58 26.24h0M169.32 26.24h0M173.05 26.24h0M176.78 26.24h0M180.52 26.24h0M184.25 26.24h0M187.98 26.24h0M191.72 26.24h0M195.45 26.24h0M199.18 26.24h0M202.92 26.24h0M206.65 26.24h0M210.38 26.24h0M214.12 26.24h0M217.85 26.24h0M221.58 26.24h0M225.32 26.24h0M229.05 26.24h0M232.78 26.24h0M36.78 29.98h0M40.52 29.98h0M44.25 29.98h0M47.98 29.98h0M51.72 29.98h0M55.45 29.98h0M59.18 29.98h0M62.92 29.98h0M66.65 29.98h0M70.38 29.98h0M74.12 29.98h0M77.85 29.98h0M81.58 29.98h0M85.32 29.98h0M89.05 29.98h0M92.78 29.98h0M96.52 29.98h0M100.25 29.98h0M103.98 29.98h0M107.72 29.98h0M111.45 29.98h0M115.18 29.98h0M118.92 29.98h0M122.65 29.98h0M126.38 29.98h0M130.12 29.98h0M133.85 29.98h0M137.58 29.98h0M141.32 29.98h0M145.05 29.98h0M148.78 29.98h0M152.52 29.98h0M156.25 29.98h0M159.98 29.98h0M163.72 29.98h0M167.45 29.98h0M171.18 29.98h0M174.92 29.98h0M178.65 29.98h0M182.38 29.98h0M186.12 29.98h0M189.85 29.98h0M193.58 29.98h0M197.32 29.98h0M201.05 29.98h0M204.78 29.98h0M208.52 29.98h0M212.25 29.98h0M215.98 29.98h0M219.72 29.98h0M223.45 29.98h0M227.18 29.98h0M230.92 29.98h0M38.65 33.71h0M42.38 33.71h0M46.12 33.71h0M49.85 33.71h0M53.58 33.71h0M57.32 33.71h0M61.05 33.71h0M64.78 33.71h0M68.52 33.71h0M72.25 33.71h0M75.98 33.71h0M79.72 33.71h0M83.45 33.71h0M87.18 33.71h0M90.92 33.71h0M94.65 33.71h0M98.38 33.71h0M102.12 33.71h0M105.85 33.71h0M109.58 33.71h0M113.32 33.71h0M117.05 33.71h0M120.78 33.71h0M124.52 33.71h0M128.25 33.71h0M131.98 33.71h0M135.72 33.71h0M139.45 33.71h0M143.18 33.71h0M146.92 33.71h0M150.65 33.71h0M154.38 33.71h0M158.12 33.71h0M161.85 33.71h0M165.58 33.71h0M169.32 33.71h0M173.05 33.71h0M176.78 33.71h0M180.52 33.71h0M184.25 33.71h0M187.98 33.71h0M191.72 33.71h0M195.45 33.71h0M199.18 33.71h0M202.92 33.71h0M206.65 33.71h0M210.38 33.71h0M214.12 33.71h0M217.85 33.71h0M221.58 33.71h0M225.32 33.71h0M229.05 33.71h0M232.78 33.71h0M36.78 37.44h0M40.52 37.44h0M44.25 37.44h0M47.98 37.44h0M51.72 37.44h0M55.45 37.44h0M59.18 37.44h0M62.92 37.44h0M66.65 37.44h0M70.38 37.44h0M74.12 37.44h0M77.85 37.44h0M81.58 37.44h0M85.32 37.44h0M89.05 37.44h0M92.78 37.44h0M96.52 37.44h0M100.25 37.44h0M103.98 37.44h0M107.72 37.44h0M111.45 37.44h0M115.18 37.44h0M118.92 37.44h0M122.65 37.44h0M126.38 37.44h0M130.12 37.44h0M133.85 37.44h0M137.58 37.44h0M141.32 37.44h0M145.05 37.44h0M148.78 37.44h0M152.52 37.44h0M156.25 37.44h0M159.98 37.44h0M163.72 37.44h0M167.45 37.44h0M171.18 37.44h0M174.92 37.44h0M178.65 37.44h0M182.38 37.44h0M186.12 37.44h0M189.85 37.44h0M193.58 37.44h0M197.32 37.44h0M201.05 37.44h0M204.78 37.44h0M208.52 37.44h0M212.25 37.44h0M215.98 37.44h0M219.72 37.44h0M223.45 37.44h0M227.18 37.44h0M230.92 37.44h0M38.65 41.18h0M42.38 41.18h0M46.12 41.18h0M49.85 41.18h0M53.58 41.18h0M57.32 41.18h0M61.05 41.18h0M64.78 41.18h0M68.52 41.18h0M72.25 41.18h0M75.98 41.18h0M79.72 41.18h0M83.45 41.18h0M87.18 41.18h0M90.92 41.18h0M94.65 41.18h0M98.38 41.18h0M102.12 41.18h0M105.85 41.18h0M109.58 41.18h0M113.32 41.18h0M117.05 41.18h0M120.78 41.18h0M124.52 41.18h0M128.25 41.18h0M131.98 41.18h0M135.72 41.18h0M139.45 41.18h0M143.18 41.18h0M146.92 41.18h0M150.65 41.18h0M154.38 41.18h0M158.12 41.18h0M161.85 41.18h0M165.58 41.18h0M169.32 41.18h0M173.05 41.18h0M176.78 41.18h0M180.52 41.18h0M184.25 41.18h0M187.98 41.18h0M191.72 41.18h0M195.45 41.18h0M199.18 41.18h0M202.92 41.18h0M206.65 41.18h0M210.38 41.18h0M214.12 41.18h0M217.85 41.18h0M221.58 41.18h0M225.32 41.18h0M229.05 41.18h0M232.78 41.18h0M36.78 44.91h0M40.52 44.91h0M44.25 44.91h0M47.98 44.91h0M51.72 44.91h0M55.45 44.91h0M59.18 44.91h0M62.92 44.91h0M66.65 44.91h0M70.38 44.91h0M74.12 44.91h0M77.85 44.91h0M81.58 44.91h0M85.32 44.91h0M89.05 44.91h0M92.78 44.91h0M96.52 44.91h0M100.25 44.91h0M103.98 44.91h0M107.72 44.91h0M111.45 44.91h0M115.18 44.91h0M118.92 44.91h0M122.65 44.91h0M126.38 44.91h0M130.12 44.91h0M133.85 44.91h0M137.58 44.91h0M141.32 44.91h0M145.05 44.91h0M148.78 44.91h0M152.52 44.91h0M156.25 44.91h0M159.98 44.91h0M163.72 44.91h0M167.45 44.91h0M171.18 44.91h0M174.92 44.91h0M178.65 44.91h0M182.38 44.91h0M186.12 44.91h0M189.85 44.91h0M193.58 44.91h0M197.32 44.91h0M201.05 44.91h0M204.78 44.91h0M208.52 44.91h0M212.25 44.91h0M215.98 44.91h0M219.72 44.91h0M223.45 44.91h0M227.18 44.91h0M230.92 44.91h0M38.65 48.64h0M42.38 48.64h0M46.12 48.64h0M49.85 48.64h0M53.58 48.64h0M57.32 48.64h0M61.05 48.64h0M64.78 48.64h0M68.52 48.64h0M72.25 48.64h0M75.98 48.64h0M79.72 48.64h0M83.45 48.64h0M87.18 48.64h0M90.92 48.64h0M94.65 48.64h0M98.38 48.64h0M102.12 48.64h0M105.85 48.64h0M109.58 48.64h0M113.32 48.64h0M117.05 48.64h0M120.78 48.64h0M124.52 48.64h0M128.25 48.64h0M131.98 48.64h0M135.72 48.64h0M139.45 48.64h0M143.18 48.64h0M146.92 48.64h0M150.65 48.64h0M154.38 48.64h0M158.12 48.64h0M161.85 48.64h0M165.58 48.64h0M169.32 48.64h0M173.05 48.64h0M176.78 48.64h0M180.52 48.64h0M184.25 48.64h0M187.98 48.64h0M191.72 48.64h0M195.45 48.64h0M199.18 48.64h0M202.92 48.64h0M206.65 48.64h0M210.38 48.64h0M214.12 48.64h0M217.85 48.64h0M221.58 48.64h0M225.32 48.64h0M229.05 48.64h0M232.78 48.64h0M36.78 52.38h0M40.52 52.38h0M44.25 52.38h0M47.98 52.38h0M51.72 52.38h0M55.45 52.38h0M59.18 52.38h0M62.92 52.38h0M66.65 52.38h0M70.38 52.38h0M74.12 52.38h0M77.85 52.38h0M81.58 52.38h0M85.32 52.38h0M89.05 52.38h0M92.78 52.38h0M96.52 52.38h0M100.25 52.38h0M103.98 52.38h0M107.72 52.38h0M111.45 52.38h0M115.18 52.38h0M118.92 52.38h0M122.65 52.38h0M126.38 52.38h0M130.12 52.38h0M133.85 52.38h0M137.58 52.38h0M141.32 52.38h0M145.05 52.38h0M148.78 52.38h0M152.52 52.38h0M156.25 52.38h0M159.98 52.38h0M163.72 52.38h0M167.45 52.38h0M171.18 52.38h0M174.92 52.38h0M178.65 52.38h0M182.38 52.38h0M186.12 52.38h0M189.85 52.38h0M193.58 52.38h0M197.32 52.38h0M201.05 52.38h0M204.78 52.38h0M208.52 52.38h0M212.25 52.38h0M215.98 52.38h0M219.72 52.38h0M223.45 52.38h0M227.18 52.38h0M230.92 52.38h0M38.65 56.11h0M42.38 56.11h0M46.12 56.11h0M49.85 56.11h0M53.58 56.11h0M57.32 56.11h0M61.05 56.11h0M64.78 56.11h0M68.52 56.11h0M72.25 56.11h0M75.98 56.11h0M79.72 56.11h0M83.45 56.11h0M87.18 56.11h0M90.92 56.11h0M94.65 56.11h0M98.38 56.11h0M102.12 56.11h0M105.85 56.11h0M109.58 56.11h0M113.32 56.11h0M117.05 56.11h0M120.78 56.11h0M124.52 56.11h0M128.25 56.11h0M131.98 56.11h0M135.72 56.11h0M139.45 56.11h0M143.18 56.11h0M146.92 56.11h0M150.65 56.11h0M154.38 56.11h0M158.12 56.11h0M161.85 56.11h0M165.58 56.11h0M169.32 56.11h0M173.05 56.11h0M176.78 56.11h0M180.52 56.11h0M184.25 56.11h0M187.98 56.11h0M191.72 56.11h0M195.45 56.11h0M199.18 56.11h0M202.92 56.11h0M206.65 56.11h0M210.38 56.11h0M214.12 56.11h0M217.85 56.11h0M221.58 56.11h0M225.32 56.11h0M229.05 56.11h0M232.78 56.11h0M36.78 59.84h0M40.52 59.84h0M44.25 59.84h0M47.98 59.84h0M51.72 59.84h0M55.45 59.84h0M59.18 59.84h0M62.92 59.84h0M66.65 59.84h0M70.38 59.84h0M74.12 59.84h0M77.85 59.84h0M81.58 59.84h0M85.32 59.84h0M89.05 59.84h0M92.78 59.84h0M96.52 59.84h0M100.25 59.84h0M103.98 59.84h0M107.72 59.84h0M111.45 59.84h0M115.18 59.84h0M118.92 59.84h0M122.65 59.84h0M126.38 59.84h0M130.12 59.84h0M133.85 59.84h0M137.58 59.84h0M141.32 59.84h0M145.05 59.84h0M148.78 59.84h0M152.52 59.84h0M156.25 59.84h0M159.98 59.84h0M163.72 59.84h0M167.45 59.84h0M171.18 59.84h0M174.92 59.84h0M178.65 59.84h0M182.38 59.84h0M186.12 59.84h0M189.85 59.84h0M193.58 59.84h0M197.32 59.84h0M201.05 59.84h0M204.78 59.84h0M208.52 59.84h0M212.25 59.84h0M215.98 59.84h0M219.72 59.84h0M223.45 59.84h0M227.18 59.84h0M230.92 59.84h0M38.65 63.58h0M42.38 63.58h0M46.12 63.58h0M49.85 63.58h0M53.58 63.58h0M57.32 63.58h0M61.05 63.58h0M64.78 63.58h0M68.52 63.58h0M72.25 63.58h0M75.98 63.58h0M79.72 63.58h0M83.45 63.58h0M87.18 63.58h0M90.92 63.58h0M94.65 63.58h0M98.38 63.58h0M102.12 63.58h0M105.85 63.58h0M109.58 63.58h0M113.32 63.58h0M117.05 63.58h0M120.78 63.58h0M124.52 63.58h0M128.25 63.58h0M131.98 63.58h0M135.72 63.58h0M139.45 63.58h0M143.18 63.58h0M146.92 63.58h0M150.65 63.58h0M154.38 63.58h0M158.12 63.58h0M161.85 63.58h0M165.58 63.58h0M169.32 63.58h0M173.05 63.58h0M176.78 63.58h0M180.52 63.58h0M184.25 63.58h0M187.98 63.58h0M191.72 63.58h0M195.45 63.58h0M199.18 63.58h0M202.92 63.58h0M206.65 63.58h0M210.38 63.58h0M214.12 63.58h0M217.85 63.58h0M221.58 63.58h0M225.32 63.58h0M229.05 63.58h0M232.78 63.58h0M36.78 67.31h0M40.52 67.31h0M44.25 67.31h0M47.98 67.31h0M51.72 67.31h0M55.45 67.31h0M59.18 67.31h0M62.92 67.31h0M66.65 67.31h0M70.38 67.31h0M74.12 67.31h0M77.85 67.31h0M81.58 67.31h0M85.32 67.31h0M89.05 67.31h0M92.78 67.31h0M96.52 67.31h0M100.25 67.31h0M103.98 67.31h0M107.72 67.31h0M111.45 67.31h0M115.18 67.31h0M118.92 67.31h0M122.65 67.31h0M126.38 67.31h0M130.12 67.31h0M133.85 67.31h0M137.58 67.31h0M141.32 67.31h0M145.05 67.31h0M148.78 67.31h0M152.52 67.31h0M156.25 67.31h0M159.98 67.31h0M163.72 67.31h0M167.45 67.31h0M171.18 67.31h0M174.92 67.31h0M178.65 67.31h0M182.38 67.31h0M186.12 67.31h0M189.85 67.31h0M193.58 67.31h0M197.32 67.31h0M201.05 67.31h0M204.78 67.31h0M208.52 67.31h0M212.25 67.31h0M215.98 67.31h0M219.72 67.31h0M223.45 67.31h0M227.18 67.31h0M230.92 67.31h0M38.65 71.04h0M42.38 71.04h0M46.12 71.04h0M49.85 71.04h0M53.58 71.04h0M57.32 71.04h0M61.05 71.04h0M64.78 71.04h0M68.52 71.04h0M72.25 71.04h0M75.98 71.04h0M79.72 71.04h0M83.45 71.04h0M87.18 71.04h0M90.92 71.04h0M94.65 71.04h0M98.38 71.04h0M102.12 71.04h0M105.85 71.04h0M109.58 71.04h0M113.32 71.04h0M117.05 71.04h0M120.78 71.04h0M124.52 71.04h0M128.25 71.04h0M131.98 71.04h0M135.72 71.04h0M139.45 71.04h0M143.18 71.04h0M146.92 71.04h0M150.65 71.04h0M154.38 71.04h0M158.12 71.04h0M161.85 71.04h0M165.58 71.04h0M169.32 71.04h0M173.05 71.04h0M176.78 71.04h0M180.52 71.04h0M184.25 71.04h0M187.98 71.04h0M191.72 71.04h0M195.45 71.04h0M199.18 71.04h0M202.92 71.04h0M206.65 71.04h0M210.38 71.04h0M214.12 71.04h0M217.85 71.04h0M221.58 71.04h0M225.32 71.04h0M229.05 71.04h0M232.78 71.04h0M36.78 74.78h0M40.52 74.78h0M44.25 74.78h0M47.98 74.78h0M51.72 74.78h0M55.45 74.78h0M59.18 74.78h0M62.92 74.78h0M66.65 74.78h0M70.38 74.78h0M74.12 74.78h0M77.85 74.78h0M81.58 74.78h0M85.32 74.78h0M89.05 74.78h0M92.78 74.78h0M96.52 74.78h0M100.25 74.78h0M103.98 74.78h0M107.72 74.78h0M111.45 74.78h0M115.18 74.78h0M118.92 74.78h0M122.65 74.78h0M126.38 74.78h0M130.12 74.78h0M133.85 74.78h0M137.58 74.78h0M141.32 74.78h0M145.05 74.78h0M148.78 74.78h0M152.52 74.78h0M156.25 74.78h0M159.98 74.78h0M163.72 74.78h0M167.45 74.78h0M171.18 74.78h0M174.92 74.78h0M178.65 74.78h0M182.38 74.78h0M186.12 74.78h0M189.85 74.78h0M193.58 74.78h0M197.32 74.78h0M201.05 74.78h0M204.78 74.78h0M208.52 74.78h0M212.25 74.78h0M215.98 74.78h0M219.72 74.78h0M223.45 74.78h0M227.18 74.78h0M230.92 74.78h0M38.65 78.51h0M42.38 78.51h0M46.12 78.51h0M49.85 78.51h0M53.58 78.51h0M57.32 78.51h0M61.05 78.51h0M64.78 78.51h0M68.52 78.51h0M72.25 78.51h0M75.98 78.51h0M79.72 78.51h0M83.45 78.51h0M87.18 78.51h0M90.92 78.51h0M94.65 78.51h0M98.38 78.51h0M102.12 78.51h0M105.85 78.51h0M109.58 78.51h0M113.32 78.51h0M117.05 78.51h0M120.78 78.51h0M124.52 78.51h0M128.25 78.51h0M131.98 78.51h0M135.72 78.51h0M139.45 78.51h0M143.18 78.51h0M146.92 78.51h0M150.65 78.51h0M154.38 78.51h0M158.12 78.51h0M161.85 78.51h0M165.58 78.51h0M169.32 78.51h0M173.05 78.51h0M176.78 78.51h0M180.52 78.51h0M184.25 78.51h0M187.98 78.51h0M191.72 78.51h0M195.45 78.51h0M199.18 78.51h0M202.92 78.51h0M206.65 78.51h0M210.38 78.51h0M214.12 78.51h0M217.85 78.51h0M221.58 78.51h0M225.32 78.51h0M229.05 78.51h0M232.78 78.51h0M36.78 82.24h0M40.52 82.24h0M44.25 82.24h0M47.98 82.24h0M51.72 82.24h0M55.45 82.24h0M59.18 82.24h0M62.92 82.24h0M66.65 82.24h0M70.38 82.24h0M74.12 82.24h0M77.85 82.24h0M81.58 82.24h0M85.32 82.24h0M89.05 82.24h0M92.78 82.24h0M96.52 82.24h0M100.25 82.24h0M103.98 82.24h0M107.72 82.24h0M111.45 82.24h0M115.18 82.24h0M118.92 82.24h0M122.65 82.24h0M126.38 82.24h0M130.12 82.24h0M133.85 82.24h0M137.58 82.24h0M141.32 82.24h0M145.05 82.24h0M148.78 82.24h0M152.52 82.24h0M156.25 82.24h0M159.98 82.24h0M163.72 82.24h0M167.45 82.24h0M171.18 82.24h0M174.92 82.24h0M178.65 82.24h0M182.38 82.24h0M186.12 82.24h0M189.85 82.24h0M193.58 82.24h0M197.32 82.24h0M201.05 82.24h0M204.78 82.24h0M208.52 82.24h0M212.25 82.24h0M215.98 82.24h0M219.72 82.24h0M223.45 82.24h0M227.18 82.24h0M230.92 82.24h0M38.65 85.98h0M42.38 85.98h0M46.12 85.98h0M49.85 85.98h0M53.58 85.98h0M57.32 85.98h0M61.05 85.98h0M64.78 85.98h0M68.52 85.98h0M72.25 85.98h0M75.98 85.98h0M79.72 85.98h0M83.45 85.98h0M87.18 85.98h0M90.92 85.98h0M94.65 85.98h0M98.38 85.98h0M102.12 85.98h0M105.85 85.98h0M109.58 85.98h0M113.32 85.98h0M117.05 85.98h0M120.78 85.98h0M124.52 85.98h0M128.25 85.98h0M131.98 85.98h0M135.72 85.98h0M139.45 85.98h0M143.18 85.98h0M146.92 85.98h0M150.65 85.98h0M154.38 85.98h0M158.12 85.98h0M161.85 85.98h0M165.58 85.98h0M169.32 85.98h0M173.05 85.98h0M176.78 85.98h0M180.52 85.98h0M184.25 85.98h0M187.98 85.98h0M191.72 85.98h0M195.45 85.98h0M199.18 85.98h0M202.92 85.98h0M206.65 85.98h0M210.38 85.98h0M214.12 85.98h0M217.85 85.98h0M221.58 85.98h0M225.32 85.98h0M229.05 85.98h0M232.78 85.98h0M36.78 89.71h0M40.52 89.71h0M44.25 89.71h0M47.98 89.71h0M51.72 89.71h0M55.45 89.71h0M59.18 89.71h0M62.92 89.71h0M66.65 89.71h0M70.38 89.71h0M74.12 89.71h0M77.85 89.71h0M81.58 89.71h0M85.32 89.71h0M89.05 89.71h0M92.78 89.71h0M96.52 89.71h0M100.25 89.71h0M103.98 89.71h0M107.72 89.71h0M111.45 89.71h0M115.18 89.71h0M118.92 89.71h0M122.65 89.71h0M126.38 89.71h0M130.12 89.71h0M133.85 89.71h0M137.58 89.71h0M141.32 89.71h0M145.05 89.71h0M148.78 89.71h0M152.52 89.71h0M156.25 89.71h0M159.98 89.71h0M163.72 89.71h0M167.45 89.71h0M171.18 89.71h0M174.92 89.71h0M178.65 89.71h0M182.38 89.71h0M186.12 89.71h0M189.85 89.71h0M193.58 89.71h0M197.32 89.71h0M201.05 89.71h0M204.78 89.71h0M208.52 89.71h0M212.25 89.71h0M215.98 89.71h0M219.72 89.71h0M223.45 89.71h0M227.18 89.71h0M230.92 89.71h0M38.65 93.44h0M42.38 93.44h0M46.12 93.44h0M49.85 93.44h0M53.58 93.44h0M57.32 93.44h0M61.05 93.44h0M64.78 93.44h0M68.52 93.44h0M72.25 93.44h0M75.98 93.44h0M79.72 93.44h0M83.45 93.44h0M87.18 93.44h0M90.92 93.44h0M94.65 93.44h0M98.38 93.44h0M102.12 93.44h0M105.85 93.44h0M109.58 93.44h0M113.32 93.44h0M117.05 93.44h0M120.78 93.44h0M124.52 93.44h0M128.25 93.44h0M131.98 93.44h0M135.72 93.44h0M139.45 93.44h0M143.18 93.44h0M146.92 93.44h0M150.65 93.44h0M154.38 93.44h0M158.12 93.44h0M161.85 93.44h0M165.58 93.44h0M169.32 93.44h0M173.05 93.44h0M176.78 93.44h0M180.52 93.44h0M184.25 93.44h0M187.98 93.44h0M191.72 93.44h0M195.45 93.44h0M199.18 93.44h0M202.92 93.44h0M206.65 93.44h0M210.38 93.44h0M214.12 93.44h0M217.85 93.44h0M221.58 93.44h0M225.32 93.44h0M229.05 93.44h0M232.78 93.44h0M36.78 97.18h0M40.52 97.18h0M44.25 97.18h0M47.98 97.18h0M51.72 97.18h0M55.45 97.18h0M59.18 97.18h0M62.92 97.18h0M66.65 97.18h0M70.38 97.18h0M74.12 97.18h0M77.85 97.18h0M81.58 97.18h0M85.32 97.18h0M89.05 97.18h0M92.78 97.18h0M96.52 97.18h0M100.25 97.18h0M103.98 97.18h0M107.72 97.18h0M111.45 97.18h0M115.18 97.18h0M118.92 97.18h0M122.65 97.18h0M126.38 97.18h0M130.12 97.18h0M133.85 97.18h0M137.58 97.18h0M141.32 97.18h0M145.05 97.18h0M148.78 97.18h0M152.52 97.18h0M156.25 97.18h0M159.98 97.18h0M163.72 97.18h0M167.45 97.18h0M171.18 97.18h0M174.92 97.18h0M178.65 97.18h0M182.38 97.18h0M186.12 97.18h0M189.85 97.18h0M193.58 97.18h0M197.32 97.18h0M201.05 97.18h0M204.78 97.18h0M208.52 97.18h0M212.25 97.18h0M215.98 97.18h0M219.72 97.18h0M223.45 97.18h0M227.18 97.18h0M230.92 97.18h0M38.65 100.91h0M42.38 100.91h0M46.12 100.91h0M49.85 100.91h0M53.58 100.91h0M57.32 100.91h0M61.05 100.91h0M64.78 100.91h0M68.52 100.91h0M72.25 100.91h0M75.98 100.91h0M79.72 100.91h0M83.45 100.91h0M87.18 100.91h0M90.92 100.91h0M94.65 100.91h0M98.38 100.91h0M102.12 100.91h0M105.85 100.91h0M109.58 100.91h0M113.32 100.91h0M117.05 100.91h0M120.78 100.91h0M124.52 100.91h0M128.25 100.91h0M131.98 100.91h0M135.72 100.91h0M139.45 100.91h0M143.18 100.91h0M146.92 100.91h0M150.65 100.91h0M154.38 100.91h0M158.12 100.91h0M161.85 100.91h0M165.58 100.91h0M169.32 100.91h0M173.05 100.91h0M176.78 100.91h0M180.52 100.91h0M184.25 100.91h0M187.98 100.91h0M191.72 100.91h0M195.45 100.91h0M199.18 100.91h0M202.92 100.91h0M206.65 100.91h0M210.38 100.91h0M214.12 100.91h0M217.85 100.91h0M221.58 100.91h0M225.32 100.91h0M229.05 100.91h0M232.78 100.91h0M36.78 104.64h0M40.52 104.64h0M44.25 104.64h0M47.98 104.64h0M51.72 104.64h0M55.45 104.64h0M59.18 104.64h0M62.92 104.64h0M66.65 104.64h0M70.38 104.64h0M74.12 104.64h0M77.85 104.64h0M81.58 104.64h0M85.32 104.64h0M89.05 104.64h0M92.78 104.64h0M96.52 104.64h0M100.25 104.64h0M103.98 104.64h0M107.72 104.64h0M111.45 104.64h0M115.18 104.64h0M118.92 104.64h0M122.65 104.64h0M126.38 104.64h0M130.12 104.64h0M133.85 104.64h0M137.58 104.64h0M141.32 104.64h0M145.05 104.64h0M148.78 104.64h0M152.52 104.64h0M156.25 104.64h0M159.98 104.64h0M163.72 104.64h0M167.45 104.64h0M171.18 104.64h0M174.92 104.64h0M178.65 104.64h0M182.38 104.64h0M186.12 104.64h0M189.85 104.64h0M193.58 104.64h0M197.32 104.64h0M201.05 104.64h0M204.78 104.64h0M208.52 104.64h0M212.25 104.64h0M215.98 104.64h0M219.72 104.64h0M223.45 104.64h0M227.18 104.64h0M230.92 104.64h0M38.65 108.38h0M42.38 108.38h0M46.12 108.38h0M49.85 108.38h0M53.58 108.38h0M57.32 108.38h0M61.05 108.38h0M64.78 108.38h0M68.52 108.38h0M72.25 108.38h0M75.98 108.38h0M79.72 108.38h0M83.45 108.38h0M87.18 108.38h0M90.92 108.38h0M94.65 108.38h0M98.38 108.38h0M102.12 108.38h0M105.85 108.38h0M109.58 108.38h0M113.32 108.38h0M117.05 108.38h0M120.78 108.38h0M124.52 108.38h0M128.25 108.38h0M131.98 108.38h0M135.72 108.38h0M139.45 108.38h0M143.18 108.38h0M146.92 108.38h0M150.65 108.38h0M154.38 108.38h0M158.12 108.38h0M161.85 108.38h0M165.58 108.38h0M169.32 108.38h0M173.05 108.38h0M176.78 108.38h0M180.52 108.38h0M184.25 108.38h0M187.98 108.38h0M191.72 108.38h0M195.45 108.38h0M199.18 108.38h0M202.92 108.38h0M206.65 108.38h0M210.38 108.38h0M214.12 108.38h0M217.85 108.38h0M221.58 108.38h0M225.32 108.38h0M229.05 108.38h0M232.78 108.38h0M36.78 112.11h0M40.52 112.11h0M44.25 112.11h0M47.98 112.11h0M51.72 112.11h0M55.45 112.11h0M59.18 112.11h0M62.92 112.11h0M66.65 112.11h0M70.38 112.11h0M74.12 112.11h0M77.85 112.11h0M81.58 112.11h0M85.32 112.11h0M89.05 112.11h0M92.78 112.11h0M96.52 112.11h0M100.25 112.11h0M103.98 112.11h0M107.72 112.11h0M111.45 112.11h0M115.18 112.11h0M118.92 112.11h0M122.65 112.11h0M126.38 112.11h0M130.12 112.11h0M133.85 112.11h0M137.58 112.11h0M141.32 112.11h0M145.05 112.11h0M148.78 112.11h0M152.52 112.11h0M156.25 112.11h0M159.98 112.11h0M163.72 112.11h0M167.45 112.11h0M171.18 112.11h0M174.92 112.11h0M178.65 112.11h0M182.38 112.11h0M186.12 112.11h0M189.85 112.11h0M193.58 112.11h0M197.32 112.11h0M201.05 112.11h0M204.78 112.11h0M208.52 112.11h0M212.25 112.11h0M215.98 112.11h0M219.72 112.11h0M223.45 112.11h0M227.18 112.11h0M230.92 112.11h0M38.65 115.84h0M42.38 115.84h0M46.12 115.84h0M49.85 115.84h0M53.58 115.84h0M57.32 115.84h0M61.05 115.84h0M64.78 115.84h0M68.52 115.84h0M72.25 115.84h0M75.98 115.84h0M79.72 115.84h0M83.45 115.84h0M87.18 115.84h0M90.92 115.84h0M94.65 115.84h0M98.38 115.84h0M102.12 115.84h0M105.85 115.84h0M109.58 115.84h0M113.32 115.84h0M117.05 115.84h0M120.78 115.84h0M124.52 115.84h0M128.25 115.84h0M131.98 115.84h0M135.72 115.84h0M139.45 115.84h0M143.18 115.84h0M146.92 115.84h0M150.65 115.84h0M154.38 115.84h0M158.12 115.84h0M161.85 115.84h0M165.58 115.84h0M169.32 115.84h0M173.05 115.84h0M176.78 115.84h0M180.52 115.84h0M184.25 115.84h0M187.98 115.84h0M191.72 115.84h0M195.45 115.84h0M199.18 115.84h0M202.92 115.84h0M206.65 115.84h0M210.38 115.84h0M214.12 115.84h0M217.85 115.84h0M221.58 115.84h0M225.32 115.84h0M229.05 115.84h0M232.78 115.84h0M36.78 119.58h0M40.52 119.58h0M44.25 119.58h0M47.98 119.58h0M51.72 119.58h0M55.45 119.58h0M59.18 119.58h0M62.92 119.58h0M66.65 119.58h0M70.38 119.58h0M74.12 119.58h0M77.85 119.58h0M81.58 119.58h0M85.32 119.58h0M89.05 119.58h0M92.78 119.58h0M96.52 119.58h0M100.25 119.58h0M103.98 119.58h0M107.72 119.58h0M111.45 119.58h0M115.18 119.58h0M118.92 119.58h0M122.65 119.58h0M126.38 119.58h0M130.12 119.58h0M133.85 119.58h0M137.58 119.58h0M141.32 119.58h0M145.05 119.58h0M148.78 119.58h0M152.52 119.58h0M156.25 119.58h0M159.98 119.58h0M163.72 119.58h0M167.45 119.58h0M171.18 119.58h0M174.92 119.58h0M178.65 119.58h0M182.38 119.58h0M186.12 119.58h0M189.85 119.58h0M193.58 119.58h0M197.32 119.58h0M201.05 119.58h0M204.78 119.58h0M208.52 119.58h0M212.25 119.58h0M215.98 119.58h0M219.72 119.58h0M223.45 119.58h0M227.18 119.58h0M230.92 119.58h0M38.65 123.31h0M42.38 123.31h0M46.12 123.31h0M49.85 123.31h0M53.58 123.31h0M57.32 123.31h0M61.05 123.31h0M64.78 123.31h0M68.52 123.31h0M72.25 123.31h0M75.98 123.31h0M79.72 123.31h0M83.45 123.31h0M87.18 123.31h0M90.92 123.31h0M94.65 123.31h0M98.38 123.31h0M102.12 123.31h0M105.85 123.31h0M109.58 123.31h0M113.32 123.31h0M117.05 123.31h0M120.78 123.31h0M124.52 123.31h0M128.25 123.31h0M131.98 123.31h0M135.72 123.31h0M139.45 123.31h0M143.18 123.31h0M146.92 123.31h0M150.65 123.31h0M154.38 123.31h0M158.12 123.31h0M161.85 123.31h0M165.58 123.31h0M169.32 123.31h0M173.05 123.31h0M176.78 123.31h0M180.52 123.31h0M184.25 123.31h0M187.98 123.31h0M191.72 123.31h0M195.45 123.31h0M199.18 123.31h0M202.92 123.31h0M206.65 123.31h0M210.38 123.31h0M214.12 123.31h0M217.85 123.31h0M221.58 123.31h0M225.32 123.31h0M229.05 123.31h0M232.78 123.31h0M36.78 127.04h0M40.52 127.04h0M44.25 127.04h0M47.98 127.04h0M51.72 127.04h0M55.45 127.04h0M59.18 127.04h0M62.92 127.04h0M66.65 127.04h0M70.38 127.04h0M74.12 127.04h0M77.85 127.04h0M81.58 127.04h0M85.32 127.04h0M89.05 127.04h0M92.78 127.04h0M96.52 127.04h0M100.25 127.04h0M103.98 127.04h0M107.72 127.04h0M111.45 127.04h0M115.18 127.04h0M118.92 127.04h0M122.65 127.04h0M126.38 127.04h0M130.12 127.04h0M133.85 127.04h0M137.58 127.04h0M141.32 127.04h0M145.05 127.04h0M148.78 127.04h0M152.52 127.04h0M156.25 127.04h0M159.98 127.04h0M163.72 127.04h0M167.45 127.04h0M171.18 127.04h0M174.92 127.04h0M178.65 127.04h0M182.38 127.04h0M186.12 127.04h0M189.85 127.04h0M193.58 127.04h0M197.32 127.04h0M201.05 127.04h0M204.78 127.04h0M208.52 127.04h0M212.25 127.04h0M215.98 127.04h0M219.72 127.04h0M223.45 127.04h0M227.18 127.04h0M230.92 127.04h0M38.65 130.78h0M42.38 130.78h0M46.12 130.78h0M49.85 130.78h0M53.58 130.78h0M57.32 130.78h0M61.05 130.78h0M64.78 130.78h0M68.52 130.78h0M72.25 130.78h0M75.98 130.78h0M79.72 130.78h0M83.45 130.78h0M87.18 130.78h0M90.92 130.78h0M94.65 130.78h0M98.38 130.78h0M102.12 130.78h0M105.85 130.78h0M109.58 130.78h0M113.32 130.78h0M117.05 130.78h0M120.78 130.78h0M124.52 130.78h0M128.25 130.78h0M131.98 130.78h0M135.72 130.78h0M139.45 130.78h0M143.18 130.78h0M146.92 130.78h0M150.65 130.78h0M154.38 130.78h0M158.12 130.78h0M161.85 130.78h0M165.58 130.78h0M169.32 130.78h0M173.05 130.78h0M176.78 130.78h0M180.52 130.78h0M184.25 130.78h0M187.98 130.78h0M191.72 130.78h0M195.45 130.78h0M199.18 130.78h0M202.92 130.78h0M206.65 130.78h0M210.38 130.78h0M214.12 130.78h0M217.85 130.78h0M221.58 130.78h0M225.32 130.78h0M229.05 130.78h0M232.78 130.78h0M36.78 134.51h0M40.52 134.51h0M44.25 134.51h0M47.98 134.51h0M51.72 134.51h0M55.45 134.51h0M59.18 134.51h0M62.92 134.51h0M66.65 134.51h0M70.38 134.51h0M74.12 134.51h0M77.85 134.51h0M81.58 134.51h0M85.32 134.51h0M89.05 134.51h0M92.78 134.51h0M96.52 134.51h0M100.25 134.51h0M103.98 134.51h0M107.72 134.51h0M111.45 134.51h0M115.18 134.51h0M118.92 134.51h0M122.65 134.51h0M126.38 134.51h0M130.12 134.51h0M133.85 134.51h0M137.58 134.51h0M141.32 134.51h0M145.05 134.51h0M148.78 134.51h0M152.52 134.51h0M156.25 134.51h0M159.98 134.51h0M163.72 134.51h0M167.45 134.51h0M171.18 134.51h0M174.92 134.51h0M178.65 134.51h0M182.38 134.51h0M186.12 134.51h0M189.85 134.51h0M193.58 134.51h0M197.32 134.51h0M201.05 134.51h0M204.78 134.51h0M208.52 134.51h0M212.25 134.51h0M215.98 134.51h0M219.72 134.51h0M223.45 134.51h0M227.18 134.51h0M230.92 134.51h0M38.65 138.24h0M42.38 138.24h0M46.12 138.24h0M49.85 138.24h0M53.58 138.24h0M57.32 138.24h0M61.05 138.24h0M64.78 138.24h0M68.52 138.24h0M72.25 138.24h0M75.98 138.24h0M79.72 138.24h0M83.45 138.24h0M87.18 138.24h0M90.92 138.24h0M94.65 138.24h0M98.38 138.24h0M102.12 138.24h0M105.85 138.24h0M109.58 138.24h0M113.32 138.24h0M117.05 138.24h0M120.78 138.24h0M124.52 138.24h0M128.25 138.24h0M131.98 138.24h0M135.72 138.24h0M139.45 138.24h0M143.18 138.24h0M146.92 138.24h0M150.65 138.24h0M154.38 138.24h0M158.12 138.24h0M161.85 138.24h0M165.58 138.24h0M169.32 138.24h0M173.05 138.24h0M176.78 138.24h0M180.52 138.24h0M184.25 138.24h0M187.98 138.24h0M191.72 138.24h0M195.45 138.24h0M199.18 138.24h0M202.92 138.24h0M206.65 138.24h0M210.38 138.24h0M214.12 138.24h0M217.85 138.24h0M221.58 138.24h0M225.32 138.24h0M229.05 138.24h0M232.78 138.24h0M36.78 141.98h0M40.52 141.98h0M44.25 141.98h0M47.98 141.98h0M51.72 141.98h0M55.45 141.98h0M59.18 141.98h0M62.92 141.98h0M66.65 141.98h0M70.38 141.98h0M74.12 141.98h0M77.85 141.98h0M81.58 141.98h0M85.32 141.98h0M89.05 141.98h0M92.78 141.98h0M96.52 141.98h0M100.25 141.98h0M103.98 141.98h0M107.72 141.98h0M111.45 141.98h0M115.18 141.98h0M118.92 141.98h0M122.65 141.98h0M126.38 141.98h0M130.12 141.98h0M133.85 141.98h0M137.58 141.98h0M141.32 141.98h0M145.05 141.98h0M148.78 141.98h0M152.52 141.98h0M156.25 141.98h0M159.98 141.98h0M163.72 141.98h0M167.45 141.98h0M171.18 141.98h0M174.92 141.98h0M178.65 141.98h0M182.38 141.98h0M186.12 141.98h0M189.85 141.98h0M193.58 141.98h0M197.32 141.98h0M201.05 141.98h0M204.78 141.98h0M208.52 141.98h0M212.25 141.98h0M215.98 141.98h0M219.72 141.98h0M223.45 141.98h0M227.18 141.98h0M230.92 141.98h0M38.65 145.71h0M42.38 145.71h0M46.12 145.71h0M49.85 145.71h0M53.58 145.71h0M57.32 145.71h0M61.05 145.71h0M64.78 145.71h0M68.52 145.71h0M72.25 145.71h0M75.98 145.71h0M79.72 145.71h0M83.45 145.71h0M87.18 145.71h0M90.92 145.71h0M94.65 145.71h0M98.38 145.71h0M102.12 145.71h0M105.85 145.71h0M109.58 145.71h0M113.32 145.71h0M117.05 145.71h0M120.78 145.71h0M124.52 145.71h0M128.25 145.71h0M131.98 145.71h0M135.72 145.71h0M139.45 145.71h0M143.18 145.71h0M146.92 145.71h0M150.65 145.71h0M154.38 145.71h0M158.12 145.71h0M161.85 145.71h0M165.58 145.71h0M169.32 145.71h0M173.05 145.71h0M176.78 145.71h0M180.52 145.71h0M184.25 145.71h0M187.98 145.71h0M191.72 145.71h0M195.45 145.71h0M199.18 145.71h0M202.92 145.71h0M206.65 145.71h0M210.38 145.71h0M214.12 145.71h0M217.85 145.71h0M221.58 145.71h0M225.32 145.71h0M229.05 145.71h0M232.78 145.71h0M36.78 149.44h0M40.52 149.44h0M44.25 149.44h0M47.98 149.44h0M51.72 149.44h0M55.45 149.44h0M59.18 149.44h0M62.92 149.44h0M66.65 149.44h0M70.38 149.44h0M74.12 149.44h0M77.85 149.44h0M81.58 149.44h0M85.32 149.44h0M89.05 149.44h0M92.78 149.44h0M96.52 149.44h0M100.25 149.44h0M103.98 149.44h0M107.72 149.44h0M111.45 149.44h0M115.18 149.44h0M118.92 149.44h0M122.65 149.44h0M126.38 149.44h0M130.12 149.44h0M133.85 149.44h0M137.58 149.44h0M141.32 149.44h0M145.05 149.44h0M148.78 149.44h0M152.52 149.44h0M156.25 149.44h0M159.98 149.44h0M163.72 149.44h0M167.45 149.44h0M171.18 149.44h0M174.92 149.44h0M178.65 149.44h0M182.38 149.44h0M186.12 149.44h0M189.85 149.44h0M193.58 149.44h0M197.32 149.44h0M201.05 149.44h0M204.78 149.44h0M208.52 149.44h0M212.25 149.44h0M215.98 149.44h0M219.72 149.44h0M223.45 149.44h0M227.18 149.44h0M230.92 149.44h0M38.65 153.18h0M42.38 153.18h0M46.12 153.18h0M49.85 153.18h0M53.58 153.18h0M57.32 153.18h0M61.05 153.18h0M64.78 153.18h0M68.52 153.18h0M72.25 153.18h0M75.98 153.18h0M79.72 153.18h0M83.45 153.18h0M87.18 153.18h0M90.92 153.18h0M94.65 153.18h0M98.38 153.18h0M102.12 153.18h0M105.85 153.18h0M109.58 153.18h0M113.32 153.18h0M117.05 153.18h0M120.78 153.18h0M124.52 153.18h0M128.25 153.18h0M131.98 153.18h0M135.72 153.18h0M139.45 153.18h0M143.18 153.18h0M146.92 153.18h0M150.65 153.18h0M154.38 153.18h0M158.12 153.18h0M161.85 153.18h0M165.58 153.18h0M169.32 153.18h0M173.05 153.18h0M176.78 153.18h0M180.52 153.18h0M184.25 153.18h0M187.98 153.18h0M191.72 153.18h0M195.45 153.18h0M199.18 153.18h0M202.92 153.18h0M206.65 153.18h0M210.38 153.18h0M214.12 153.18h0M217.85 153.18h0M221.58 153.18h0M225.32 153.18h0M229.05 153.18h0M232.78 153.18h0M36.78 156.91h0M40.52 156.91h0M44.25 156.91h0M47.98 156.91h0M51.72 156.91h0M55.45 156.91h0M59.18 156.91h0M62.92 156.91h0M66.65 156.91h0M70.38 156.91h0M74.12 156.91h0M77.85 156.91h0M81.58 156.91h0M85.32 156.91h0M89.05 156.91h0M92.78 156.91h0M96.52 156.91h0M100.25 156.91h0M103.98 156.91h0M107.72 156.91h0M111.45 156.91h0M115.18 156.91h0M118.92 156.91h0M122.65 156.91h0M126.38 156.91h0M130.12 156.91h0M133.85 156.91h0M137.58 156.91h0M141.32 156.91h0M145.05 156.91h0M148.78 156.91h0M152.52 156.91h0M156.25 156.91h0M159.98 156.91h0M163.72 156.91h0M167.45 156.91h0M171.18 156.91h0M174.92 156.91h0M178.65 156.91h0M182.38 156.91h0M186.12 156.91h0M189.85 156.91h0M193.58 156.91h0M197.32 156.91h0M201.05 156.91h0M204.78 156.91h0M208.52 156.91h0M212.25 156.91h0M215.98 156.91h0M219.72 156.91h0M223.45 156.91h0M227.18 156.91h0M230.92 156.91h0M38.65 160.64h0M42.38 160.64h0M46.12 160.64h0M49.85 160.64h0M53.58 160.64h0M57.32 160.64h0M61.05 160.64h0M64.78 160.64h0M68.52 160.64h0M72.25 160.64h0M75.98 160.64h0M79.72 160.64h0M83.45 160.64h0M87.18 160.64h0M90.92 160.64h0M94.65 160.64h0M98.38 160.64h0M102.12 160.64h0M105.85 160.64h0M109.58 160.64h0M113.32 160.64h0M117.05 160.64h0M120.78 160.64h0M124.52 160.64h0M128.25 160.64h0M131.98 160.64h0M135.72 160.64h0M139.45 160.64h0M143.18 160.64h0M146.92 160.64h0M150.65 160.64h0M154.38 160.64h0M158.12 160.64h0M161.85 160.64h0M165.58 160.64h0M169.32 160.64h0M173.05 160.64h0M176.78 160.64h0M180.52 160.64h0M184.25 160.64h0M187.98 160.64h0M191.72 160.64h0M195.45 160.64h0M199.18 160.64h0M202.92 160.64h0M206.65 160.64h0M210.38 160.64h0M214.12 160.64h0M217.85 160.64h0M221.58 160.64h0M225.32 160.64h0M229.05 160.64h0M232.78 160.64h0M36.78 164.38h0M40.52 164.38h0M44.25 164.38h0M47.98 164.38h0M51.72 164.38h0M55.45 164.38h0M59.18 164.38h0M62.92 164.38h0M66.65 164.38h0M70.38 164.38h0M74.12 164.38h0M77.85 164.38h0M81.58 164.38h0M85.32 164.38h0M89.05 164.38h0M92.78 164.38h0M96.52 164.38h0M100.25 164.38h0M103.98 164.38h0M107.72 164.38h0M111.45 164.38h0M115.18 164.38h0M118.92 164.38h0M122.65 164.38h0M126.38 164.38h0M130.12 164.38h0M133.85 164.38h0M137.58 164.38h0M141.32 164.38h0M145.05 164.38h0M148.78 164.38h0M152.52 164.38h0M156.25 164.38h0M159.98 164.38h0M163.72 164.38h0M167.45 164.38h0M171.18 164.38h0M174.92 164.38h0M178.65 164.38h0M182.38 164.38h0M186.12 164.38h0M189.85 164.38h0M193.58 164.38h0M197.32 164.38h0M201.05 164.38h0M204.78 164.38h0M208.52 164.38h0M212.25 164.38h0M215.98 164.38h0M219.72 164.38h0M223.45 164.38h0M227.18 164.38h0M230.92 164.38h0M38.65 168.11h0M42.38 168.11h0M46.12 168.11h0M49.85 168.11h0M53.58 168.11h0M57.32 168.11h0M61.05 168.11h0M64.78 168.11h0M68.52 168.11h0M72.25 168.11h0M75.98 168.11h0M79.72 168.11h0M83.45 168.11h0M87.18 168.11h0M90.92 168.11h0M94.65 168.11h0M98.38 168.11h0M102.12 168.11h0M105.85 168.11h0M109.58 168.11h0M113.32 168.11h0M117.05 168.11h0M120.78 168.11h0M124.52 168.11h0M128.25 168.11h0M131.98 168.11h0M135.72 168.11h0M139.45 168.11h0M143.18 168.11h0M146.92 168.11h0M150.65 168.11h0M154.38 168.11h0M158.12 168.11h0M161.85 168.11h0M165.58 168.11h0M169.32 168.11h0M173.05 168.11h0M176.78 168.11h0M180.52 168.11h0M184.25 168.11h0M187.98 168.11h0M191.72 168.11h0M195.45 168.11h0M199.18 168.11h0M202.92 168.11h0M206.65 168.11h0M210.38 168.11h0M214.12 168.11h0M217.85 168.11h0M221.58 168.11h0M225.32 168.11h0M229.05 168.11h0M232.78 168.11h0" stroke="#000" stroke-width="1.7" stroke-linecap="round" fill="none"/>
<path d="M38.4,19.6 L43.7,18.8 L50.3,18.5 L55.1,17.9 L57.0,17.7 L60.8,16.6 L63.6,18.5 L68.4,18.2 L74.1,18.5 L77.8,17.9 L82.6,17.7 L85.0,15.6 L87.3,15.0 L89.7,16.6 L90.7,19.1 L92.1,21.5 L95.0,23.9 L96.1,25.0 L96.5,28.6 L98.3,31.6 L100.8,33.4 L103.0,34.5 L105.2,35.2 L107.4,35.6 L109.3,36.8 L111.4,38.2 L112.6,40.8 L114.3,42.8 L117.3,44.9 L120.8,46.6 L124.3,47.5 L127.2,46.9 L130.1,45.8 L133.0,44.3 L134.5,43.4 L134.8,44.6 L132.4,46.9 L130.7,49.3 L128.4,50.1 L124.9,51.0 L122.5,51.9 L120.2,53.1 L118.7,53.9 L121.6,56.7 L125.1,61.0 L128.8,64.7 L131.7,67.6 L134.6,69.8 L137.5,70.9 L141.2,70.5 L145.0,68.8 L148.6,67.4 L152.3,65.9 L154.5,63.4 L156.0,61.2 L156.7,59.7 L157.8,60.4 L159.6,64.1 L161.1,67.7 L161.8,70.7 L161.1,74.3 L160.7,78.0 L160.3,81.6 L160.7,85.3 L161.8,88.2 L162.4,92.3 L162.8,96.9 L163.9,102.0 L165.0,107.0 L166.5,114.8 L167.9,120.6 L170.4,125.5 L173.8,130.4 L177.7,137.3 L180.6,144.1 L182.6,151.0 L184.6,157.8 L186.0,163.7 L188.0,169.5 L232.8,171.3 L232.8,10.4 L36.5,10.4 L36.5,19.6Z" fill="#d3d3d3"/>
<path d="M38.4,19.6 L43.7,18.8 L50.3,18.5 L55.1,17.9 L57.0,17.7 L60.8,16.6 L63.6,18.5 L68.4,18.2 L74.1,18.5 L77.8,17.9 L82.6,17.7 L85.0,15.6 L87.3,15.0 L89.7,16.6 L90.7,19.1 L92.1,21.5 L95.0,23.9 L96.1,25.0 L96.5,28.6 L98.3,31.6 L100.8,33.4 L103.0,34.5 L105.2,35.2 L107.4,35.6 L109.3,36.8 L111.4,38.2 L112.6,40.8 L114.3,42.8 L117.3,44.9 L120.8,46.6 L124.3,47.5 L127.2,46.9 L130.1,45.8 L133.0,44.3 L134.5,43.4 L134.8,44.6 L132.4,46.9 L130.7,49.3 L128.4,50.1 L124.9,51.0 L122.5,51.9 L120.2,53.1 L118.7,53.9 L121.6,56.7 L125.1,61.0 L128.8,64.7 L131.7,67.6 L134.6,69.8 L137.5,70.9 L141.2,70.5 L145.0,68.8 L148.6,67.4 L152.3,65.9 L154.5,63.4 L156.0,61.2 L156.7,59.7 L157.8,60.4 L159.6,64.1 L161.1,67.7 L161.8,70.7 L161.1,74.3 L160.7,78.0 L160.3,81.6 L160.7,85.3 L161.8,88.2 L162.4,92.3 L162.8,96.9 L163.9,102.0 L165.0,107.0 L166.5,114.8 L167.9,120.6 L170.4,125.5 L173.8,130.4 L177.7,137.3 L180.6,144.1 L182.6,151.0 L184.6,157.8 L186.0,163.7 L188.0,169.5" fill="none" stroke="#000" stroke-width="1.2" stroke-linejoin="round"/>
<path d="M113.8,34.8 L113.8,33.0 L114.6,30.8 L118.1,30.4 L123.4,30.4 L126.0,30.8 L129.5,30.4 L132.2,29.1 L135.2,28.2 L136.1,30.0 L138.3,30.8 L140.9,28.6 L140.9,26.9 L141.8,26.0" fill="none" stroke="#000" stroke-width="1.05" stroke-linejoin="round"/>
<path d="M141.8,26.0 L140.9,24.3 L139.6,20.8 L137.4,18.1 L136.1,14.6 L133.0,13.8 L130.8,12.0" fill="none" stroke="#000" stroke-width="1.05" stroke-linejoin="round"/>
<path d="M141.8,26.0 L142.7,26.0 L147.0,25.1 L154.0,26.0 L157.6,28.2 L161.1,28.6 L164.2,27.8 L166.3,32.0 L170.5,38.3 L175.8,42.5 L178.6,43.6" fill="none" stroke="#000" stroke-width="1.05" stroke-linejoin="round"/>
<path d="M178.6,43.6 L181.0,40.4 L185.2,37.2 L185.8,33.0 L183.6,27.8 L185.2,22.5 L188.4,22.0 L189.4,24.6 L195.7,25.1 L196.3,28.8 L193.6,32.0 L191.5,34.6 L195.7,34.1 L199.9,30.9 L205.2,30.9 L208.3,31.4 L207.8,26.7 L208.3,23.6 L211.5,21.5 L213.6,19.4 L211.5,17.3 L206.2,16.2 L203.6,14.1 L204.1,12.0" fill="none" stroke="#000" stroke-width="1.05" stroke-linejoin="round"/>
<path d="M178.6,43.6 L179.3,45.8 L177.8,48.0 L175.7,50.2 L176.0,53.1 L176.4,56.8 L173.5,58.2 L172.7,61.2 L175.7,61.9 L178.6,61.5 L174.2,63.4 L171.3,66.3 L173.5,69.2 L171.3,72.1 L168.4,71.4 L168.4,75.0 L164.7,76.5 L161.8,76.5" fill="none" stroke="#000" stroke-width="1.05" stroke-linejoin="round"/>
<path d="M176.4,56.8 L179.2,56.7 L180.8,59.6 L187.5,61.7 L189.1,63.3 L197.5,63.3 L200.0,67.1 L203.3,66.2 L206.6,61.7 L209.9,60.0 L214.1,59.6 L214.9,62.5 L219.1,63.3 L224.9,61.2 L226.6,62.5 L231.5,62.5" fill="none" stroke="#000" stroke-width="1.05" stroke-linejoin="round"/>
<path d="M231.5,32.5 L230.4,32.0 L227.3,30.9 L224.1,27.8 L223.1,23.6 L224.1,18.3 L227.3,15.2 L229.5,13.5" fill="none" stroke="#000" stroke-width="1.05" stroke-linejoin="round"/>
<path d="M228.3,18.3 L229.9,25.7" fill="none" stroke="#000" stroke-width="1.05" stroke-linejoin="round"/>
<path d="M231.5,82.0 L225.8,81.6 L224.1,85.0 L220.3,87.0 L218.3,90.8 L219.1,93.3 L214.9,98.3 L212.4,97.4 L209.1,100.8 L207.9,104.1 L205.1,105.0 L202.2,107.0 L201.2,109.4 L194.3,108.9 L193.9,111.8 L189.5,113.8 L185.5,114.8 L182.6,117.2 L178.2,119.2 L179.7,122.6 L178.7,124.6 L177.2,128.0 L173.3,128.0 L170.9,127.0" fill="none" stroke="#000" stroke-width="1.05" stroke-linejoin="round"/>
<path d="M177.2,128.0 L178.0,134.3 L176.7,137.3" fill="none" stroke="#000" stroke-width="1.05" stroke-linejoin="round"/>
<path d="M214.9,98.3 L215.8,101.6 L215.4,106.6 L214.4,109.9 L213.9,114.8 L213.4,119.7 L214.9,122.1 L214.9,125.5 L210.5,125.5 L210.0,130.4 L210.5,134.3 L206.6,136.3 L207.1,141.2 L209.0,144.1 L209.5,148.0 L213.9,149.0 L219.8,149.0 L223.7,152.9 L226.6,155.9 L227.6,158.8 L223.7,161.7 L219.8,161.2 L216.8,163.7 L215.4,169.5" fill="none" stroke="#000" stroke-width="1.05" stroke-linejoin="round"/>
<path d="M214.9,125.5 L219.8,126.5 L225.6,124.1 L231.5,124.1" fill="none" stroke="#000" stroke-width="1.05" stroke-linejoin="round"/>
<path d="M227.6,158.8 L231.5,157.8" fill="none" stroke="#000" stroke-width="1.05" stroke-linejoin="round"/>
<path d="M184.6,160.8 L188.5,163.7 L191.4,169.5" fill="none" stroke="#000" stroke-width="1.05" stroke-linejoin="round"/>
<path d="M209.5,146.0 L213.0,144.5 L214.5,147.0 L212.0,149.5 L209.5,148.5 L209.5,146.0" fill="none" stroke="#000" stroke-width="1.05" stroke-linejoin="round"/>
<path d="M153.0,53.1 L162.5,53.5" fill="none" stroke="#000" stroke-width="1.05" stroke-linejoin="round"/>
<path d="M156.3,52.4 L156.7,59.7" fill="none" stroke="#000" stroke-width="1.05" stroke-linejoin="round"/>
<path d="M158.9,61.2 L164.7,59.3" fill="none" stroke="#000" stroke-width="1.05" stroke-linejoin="round"/>
<path d="M159.6,56.1 L160.7,54.2" fill="none" stroke="#000" stroke-width="1.05" stroke-linejoin="round"/>
<path d="M108.0,34.8 L109.5,33.8 L111.8,34.0 L113.6,34.8 L113.2,36.2 L111.5,37.3 L109.5,36.8 L108.2,35.9Z" fill="#000"/>
<path d="M152.0,56.5 L154.5,56.0 L155.3,58.0 L154.0,59.4 L152.2,58.8Z" fill="#000"/>
<path d="M163.3,75.6 L165.8,75.5 L166.3,77.2 L164.5,78.0 L163.2,77.3Z" fill="#000"/>
</g>
<rect x="38.45" y="12.45" width="192.35" height="156.85" fill="none" stroke="#111" stroke-width="1"/>
<g clip-path="url(#clipC)">
<g transform="translate(39.250,200.800) scale(0.99454,1.00414) translate(-38.450,-12.450)"><g transform="translate(0,-188.65)">
<rect x="36" y="199" width="197" height="161" fill="#fff5d5"/>
<path d="M36,228 L60,225 L80,222 L95,219 L110,223 L125,226 L140,222 L150,212 L160,204 L170,199 L233,199 L233,300 L215,304 L200,300 L185,296 L170,294 L160,288 L140,285 L120,283 L100,288 L80,300 L60,312 L36,330Z" fill="#fee26b" />
<path d="M36,236 L55,232 L75,228 L95,225 L108,228 L118,232 L128,232 L140,226 L150,222 L160,220 L172,216 L185,205 L233,205 L233,250 L215,252 L200,250 L185,252 L175,262 L165,280 L150,280 L135,276 L120,279 L100,283 L80,292 L60,305 L36,322Z" fill="#fec42f" />
<ellipse cx="108" cy="245" rx="9" ry="5" fill="#fee26b" />
<ellipse cx="110" cy="246" rx="2.5" ry="2" fill="#fff5d5" />
<path d="M36,258 L50,256 L62,254 L72,253 L75,256 L62,261 L50,266 L36,270Z" fill="#fee26b" />
<path d="M118,266 L135,262 L150,266 L150,285 L130,283 L118,275Z" fill="#fee26b" />
<path d="M140,241 L150,238 L165,240 L172,246 L170,255 L160,252 L150,248 L140,248Z" fill="#fee26b" />
<ellipse cx="162" cy="207" rx="6" ry="5" fill="#fee26b" />
<ellipse cx="156" cy="203" rx="5" ry="3" fill="#fff5d5" />
<path d="M58,232 L70,226 L90,225 L102,230 L104,240 L96,248 L82,248 L68,244 L58,239Z" fill="#fea031" />
<path d="M80,253 L120,253 L129,259.5 L126,270 L108,279 L101,285 L87,290 L75,290 L72,298 L70,305 L56,313 L44,320.5 L36,322 L36,278 L52,277 L64,273.5 L65.5,267 L77,258Z" fill="#fea031" />
<path d="M148,226 L160,222 L172,218 L184,205 L233,203 L233,252 L218,250 L200,246 L188,244 L178,240 L166,236 L150,233Z" fill="#fea031" />
<ellipse cx="40" cy="250" rx="4" ry="4" fill="#fea031" />
<ellipse cx="76" cy="231" rx="4" ry="3" fill="#fd6a02" />
<path d="M80,232 L92,229 L98,233 L96,241 L86,244 L80,240Z" fill="#fd6a02" />
<path d="M86,260 L98,257 L106,260 L104,267 L92,268 L86,265Z" fill="#fd6a02" />
<path d="M36,279 L50,279 L52,286 L44,292 L36,293Z" fill="#fd6a02" />
<path d="M151,226 L166,224 L175,219 L184,212 L186,203 L233,203 L233,243 L220,242 L205,240 L190,240 L182,232 L170,230 L151,232Z" fill="#fd6a02" />
<ellipse cx="137" cy="240.5" rx="5" ry="3.2" fill="#fd6a02" />
<ellipse cx="175" cy="246" rx="5" ry="6" fill="#fd6a02" />
<ellipse cx="230" cy="288" rx="4" ry="5" fill="#fd6a02" />
<ellipse cx="230" cy="340" rx="3" ry="4" fill="#fd6a02" />
<path d="M164,207 L172,205 L182,205 L182,212 L175,217 L166,217Z" fill="#fec42f" />
<ellipse cx="209" cy="205" rx="5" ry="3" fill="#fd6a02" />
<path d="M158.6,216 L163.9,210.6 L170.6,206.6 L178.5,202 L183.8,202 L182.5,206.6 L174.5,210.6 L166.6,214.6 L161.3,217.3Z" fill="#e02a26" />
<path d="M184,202 L203,202 L208,208 L215,202 L222.4,202 L226.4,208 L225,214.6 L219.7,220 L217,226.6 L206.4,230.6 L195.8,232 L186.5,230.6 L182.5,226.6 L175.9,225.2 L170.6,222.6 L172,219.9 L178.5,219.9 L183,216 L184,209Z" fill="#e02a26" />
<ellipse cx="180" cy="242.5" rx="5" ry="2.8" fill="#e02a26" />
<path d="M171,250 L176,247 L180,249 L181,256 L180,262 L175,262 L171,257Z" fill="#e02a26" />
<path d="M215.7,246 L222,243.8 L231,243.8 L231,250.5 L218,250.5Z" fill="#e02a26" />
<path d="M36,231 L60,228 L80,225 L96,221 L112,224 L130,227 L145,222 L148,216 L130,221 L112,219 L96,216 L80,218 L60,222 L36,224Z" fill="#ffffff" />
<path d="M95,300 L105,290 L120,287 L135,288 L150,292 L158,300 L150,308 L140,318 L125,320 L110,318 L100,310Z" fill="#ffffff" />
<path d="M36,342 L60,338 L90,336 L120,334 L140,334 L160,336 L172,340 L170,352 L160,360 L36,360Z" fill="#ffffff" />
<path d="M150,296 L158,298 L157,306 L150,306Z" fill="#ffffff" />
<path d="M150,325 L173,325 L173,337 L150,337Z" fill="#ffffff" />
<ellipse cx="173" cy="307" rx="4" ry="5" fill="#ffffff" />
<ellipse cx="222" cy="316" rx="4" ry="3" fill="#ffffff" />
<ellipse cx="220" cy="330" rx="6" ry="3" fill="#ffffff" />
<ellipse cx="190" cy="305" rx="4" ry="3" fill="#ffffff" />
<path d="M36,332 L55,325 L80,318 L95,312 L98,320 L80,330 L60,336 L36,340Z" fill="#fff5d5" />
<path d="M170,262 L190,262 L205,262 L231,258 L231,284 L215,290 L200,286 L185,284 L172,282 L170,275Z" fill="#fee26b" />
<ellipse cx="180" cy="289" rx="9" ry="5" fill="#fec42f" />
<ellipse cx="202" cy="312" rx="7" ry="5" fill="#fec42f" />
<ellipse cx="218" cy="318" rx="7" ry="6" fill="#fec42f" />
<ellipse cx="190" cy="347" rx="9" ry="3" fill="#fec42f" />
<ellipse cx="205" cy="270" rx="10" ry="4" fill="#fec42f" />
<ellipse cx="220" cy="262" rx="6" ry="4" fill="#fec42f" />
<ellipse cx="192" cy="268" rx="6" ry="2" fill="#fff5d5" />
<ellipse cx="226" cy="272" rx="5" ry="3" fill="#fff5d5" />
<path d="M100,322 L108,318 L122,318 L130,324 L132,338 L125,343 L108,342 L102,334Z" fill="#e0b4f7" />
<path d="M134,338 L150,337 L165,338 L166,348 L150,350 L134,349Z" fill="#e0b4f7" />
<path d="M126,336 L136,335 L136,345 L126,344Z" fill="#e0b4f7" />
<path d="M150,255 L157,253 L161,258 L160,268 L153,270 L150,266Z" fill="#e0b4f7" />
<ellipse cx="183" cy="264" rx="5" ry="2.5" fill="#e0b4f7" />
<ellipse cx="179" cy="279.5" rx="2" ry="2.5" fill="#e0b4f7" />
<ellipse cx="193" cy="282" rx="7" ry="3" fill="#e0b4f7" />
<ellipse cx="195" cy="287" rx="5" ry="2.5" fill="#e0b4f7" />
<ellipse cx="209" cy="292" rx="4.5" ry="2.5" fill="#e0b4f7" />
<ellipse cx="180" cy="302" rx="2" ry="3" fill="#e0b4f7" />
<ellipse cx="192" cy="329" rx="5" ry="3" fill="#e0b4f7" />
<ellipse cx="190" cy="341" rx="3" ry="2" fill="#e0b4f7" />
<ellipse cx="216" cy="333" rx="2.5" ry="2" fill="#e0b4f7" />
<path d="M190,352 L200,349 L216,350 L216,360 L190,360Z" fill="#e0b4f7" />
<ellipse cx="57" cy="357" rx="18" ry="4" fill="#e0b4f7" />
<path d="M36,199 L152,199 L150,214 L144,226 L134,231 L118,230 L100,225 L80,220 L60,221 L36,225Z" fill="#ffffff" />
<path d="M36,199 L152,199 L149,213 L142,224 L132,228 L118,227 L100,223 L80,220 L60,221 L36,225Z" fill="#f0dcfa" />
<path d="M36,199 L150,199 L146,214 L138,222 L126,224 L112,222 L96,217 L70,215 L50,216 L36,220Z" fill="#e0b4f7" />
<path d="M50,199 L149,199 L144,215 L132,220 L114,219 L98,215.5 L88,212 L72,211 L55,210 L50,208Z" fill="#c97cf0" />
<path d="M52,199 L148,199 L143,215 L130,218.5 L114,217.5 L100,215 L92,211 L80,209.8 L60,209.2 L52,208.5Z" fill="#8a0fd6" />
<path d="M54,199 L147,199 L142,214.5 L134,217.5 L125,218 L116.5,217 L108,216 L101,214.5 L96.9,212.5 L91.3,210 L80,208.6 L66,208 L54,207.4Z" fill="#520b7c" />
<ellipse cx="42" cy="214" rx="6" ry="6" fill="#c97cf0" />
<ellipse cx="40" cy="213" rx="2.5" ry="3.5" fill="#a93ae6" />
<ellipse cx="42" cy="203" rx="5" ry="3" fill="#8a0fd6" />
</g>
</g>
<clipPath id="stc"><path d="M59.7,227.8 L68.6,223.8 L85.5,222.8 L100.5,225.8 L102.5,235.8 L96.5,243.9 L84.6,246.9 L72.6,244.9 L62.7,240.9 L59.7,233.8ZM82.4,254.5 L120.2,254.5 L127.4,260.3 L124.4,269.2 L107.0,278.0 L99.8,283.8 L86.7,288.3 L73.6,288.3 L70.7,297.0 L69.3,304.3 L56.2,311.7 L44.6,319.0 L36.8,320.7 L36.8,279.4 L53.3,278.7 L66.4,275.0 L67.8,267.7 L79.5,258.9ZM52.7,198.7 L148.2,198.7 L143.2,214.8 L130.3,218.3 L114.4,217.3 L100.5,214.8 L92.5,210.7 L80.6,209.5 L60.7,208.9 L52.7,208.2ZM132.3,237.4 L142.2,237.4 L142.2,243.4 L132.3,243.4ZM183.0,200.7 L224.8,200.7 L227.8,211.7 L224.8,231.8 L214.8,237.9 L199.9,239.9 L185.0,237.9 L176.0,225.8 L170.1,221.8 L178.0,218.8 L182.0,211.7ZM159.1,214.8 L166.1,209.7 L178.0,202.7 L183.0,202.7 L176.0,209.7 L166.1,215.8ZM152.2,225.8 L168.1,223.8 L175.1,227.8 L168.1,231.8 L152.2,231.8ZM172.1,240.9 L199.9,238.9 L214.8,239.9 L211.9,245.9 L190.0,245.9 L176.0,245.9ZM171.1,247.9 L181.0,247.9 L181.0,262.0 L172.1,262.0ZM214.8,243.9 L230.7,242.9 L230.7,250.9 L215.8,250.9ZM38.8,251.9 L45.8,251.9 L45.8,255.9 L38.8,255.9ZM173.1,271.0 L190.0,271.0 L190.0,274.0 L173.1,274.0Z"/></clipPath>
<g clip-path="url(#stc)"><path d="M40.52 201.71h0M44.25 201.71h0M47.98 201.71h0M51.72 201.71h0M55.45 201.71h0M59.18 201.71h0M62.92 201.71h0M66.65 201.71h0M70.38 201.71h0M74.12 201.71h0M77.85 201.71h0M81.58 201.71h0M85.32 201.71h0M89.05 201.71h0M92.78 201.71h0M96.52 201.71h0M100.25 201.71h0M103.98 201.71h0M107.72 201.71h0M111.45 201.71h0M115.18 201.71h0M118.92 201.71h0M122.65 201.71h0M126.38 201.71h0M130.12 201.71h0M133.85 201.71h0M137.58 201.71h0M141.32 201.71h0M145.05 201.71h0M148.78 201.71h0M152.52 201.71h0M156.25 201.71h0M159.98 201.71h0M163.72 201.71h0M167.45 201.71h0M171.18 201.71h0M174.92 201.71h0M178.65 201.71h0M182.38 201.71h0M186.12 201.71h0M189.85 201.71h0M193.58 201.71h0M197.32 201.71h0M201.05 201.71h0M204.78 201.71h0M208.52 201.71h0M212.25 201.71h0M215.98 201.71h0M219.72 201.71h0M223.45 201.71h0M227.18 201.71h0M230.92 201.71h0M38.65 205.44h0M42.38 205.44h0M46.12 205.44h0M49.85 205.44h0M53.58 205.44h0M57.32 205.44h0M61.05 205.44h0M64.78 205.44h0M68.52 205.44h0M72.25 205.44h0M75.98 205.44h0M79.72 205.44h0M83.45 205.44h0M87.18 205.44h0M90.92 205.44h0M94.65 205.44h0M98.38 205.44h0M102.12 205.44h0M105.85 205.44h0M109.58 205.44h0M113.32 205.44h0M117.05 205.44h0M120.78 205.44h0M124.52 205.44h0M128.25 205.44h0M131.98 205.44h0M135.72 205.44h0M139.45 205.44h0M143.18 205.44h0M146.92 205.44h0M150.65 205.44h0M154.38 205.44h0M158.12 205.44h0M161.85 205.44h0M165.58 205.44h0M169.32 205.44h0M173.05 205.44h0M176.78 205.44h0M180.52 205.44h0M184.25 205.44h0M187.98 205.44h0M191.72 205.44h0M195.45 205.44h0M199.18 205.44h0M202.92 205.44h0M206.65 205.44h0M210.38 205.44h0M214.12 205.44h0M217.85 205.44h0M221.58 205.44h0M225.32 205.44h0M229.05 205.44h0M40.52 209.18h0M44.25 209.18h0M47.98 209.18h0M51.72 209.18h0M55.45 209.18h0M59.18 209.18h0M62.92 209.18h0M66.65 209.18h0M70.38 209.18h0M74.12 209.18h0M77.85 209.18h0M81.58 209.18h0M85.32 209.18h0M89.05 209.18h0M92.78 209.18h0M96.52 209.18h0M100.25 209.18h0M103.98 209.18h0M107.72 209.18h0M111.45 209.18h0M115.18 209.18h0M118.92 209.18h0M122.65 209.18h0M126.38 209.18h0M130.12 209.18h0M133.85 209.18h0M137.58 209.18h0M141.32 209.18h0M145.05 209.18h0M148.78 209.18h0M152.52 209.18h0M156.25 209.18h0M159.98 209.18h0M163.72 209.18h0M167.45 209.18h0M171.18 209.18h0M174.92 209.18h0M178.65 209.18h0M182.38 209.18h0M186.12 209.18h0M189.85 209.18h0M193.58 209.18h0M197.32 209.18h0M201.05 209.18h0M204.78 209.18h0M208.52 209.18h0M212.25 209.18h0M215.98 209.18h0M219.72 209.18h0M223.45 209.18h0M227.18 209.18h0M230.92 209.18h0M38.65 212.91h0M42.38 212.91h0M46.12 212.91h0M49.85 212.91h0M53.58 212.91h0M57.32 212.91h0M61.05 212.91h0M64.78 212.91h0M68.52 212.91h0M72.25 212.91h0M75.98 212.91h0M79.72 212.91h0M83.45 212.91h0M87.18 212.91h0M90.92 212.91h0M94.65 212.91h0M98.38 212.91h0M102.12 212.91h0M105.85 212.91h0M109.58 212.91h0M113.32 212.91h0M117.05 212.91h0M120.78 212.91h0M124.52 212.91h0M128.25 212.91h0M131.98 212.91h0M135.72 212.91h0M139.45 212.91h0M143.18 212.91h0M146.92 212.91h0M150.65 212.91h0M154.38 212.91h0M158.12 212.91h0M161.85 212.91h0M165.58 212.91h0M169.32 212.91h0M173.05 212.91h0M176.78 212.91h0M180.52 212.91h0M184.25 212.91h0M187.98 212.91h0M191.72 212.91h0M195.45 212.91h0M199.18 212.91h0M202.92 212.91h0M206.65 212.91h0M210.38 212.91h0M214.12 212.91h0M217.85 212.91h0M221.58 212.91h0M225.32 212.91h0M229.05 212.91h0M40.52 216.64h0M44.25 216.64h0M47.98 216.64h0M51.72 216.64h0M55.45 216.64h0M59.18 216.64h0M62.92 216.64h0M66.65 216.64h0M70.38 216.64h0M74.12 216.64h0M77.85 216.64h0M81.58 216.64h0M85.32 216.64h0M89.05 216.64h0M92.78 216.64h0M96.52 216.64h0M100.25 216.64h0M103.98 216.64h0M107.72 216.64h0M111.45 216.64h0M115.18 216.64h0M118.92 216.64h0M122.65 216.64h0M126.38 216.64h0M130.12 216.64h0M133.85 216.64h0M137.58 216.64h0M141.32 216.64h0M145.05 216.64h0M148.78 216.64h0M152.52 216.64h0M156.25 216.64h0M159.98 216.64h0M163.72 216.64h0M167.45 216.64h0M171.18 216.64h0M174.92 216.64h0M178.65 216.64h0M182.38 216.64h0M186.12 216.64h0M189.85 216.64h0M193.58 216.64h0M197.32 216.64h0M201.05 216.64h0M204.78 216.64h0M208.52 216.64h0M212.25 216.64h0M215.98 216.64h0M219.72 216.64h0M223.45 216.64h0M227.18 216.64h0M230.92 216.64h0M38.65 220.38h0M42.38 220.38h0M46.12 220.38h0M49.85 220.38h0M53.58 220.38h0M57.32 220.38h0M61.05 220.38h0M64.78 220.38h0M68.52 220.38h0M72.25 220.38h0M75.98 220.38h0M79.72 220.38h0M83.45 220.38h0M87.18 220.38h0M90.92 220.38h0M94.65 220.38h0M98.38 220.38h0M102.12 220.38h0M105.85 220.38h0M109.58 220.38h0M113.32 220.38h0M117.05 220.38h0M120.78 220.38h0M124.52 220.38h0M128.25 220.38h0M131.98 220.38h0M135.72 220.38h0M139.45 220.38h0M143.18 220.38h0M146.92 220.38h0M150.65 220.38h0M154.38 220.38h0M158.12 220.38h0M161.85 220.38h0M165.58 220.38h0M169.32 220.38h0M173.05 220.38h0M176.78 220.38h0M180.52 220.38h0M184.25 220.38h0M187.98 220.38h0M191.72 220.38h0M195.45 220.38h0M199.18 220.38h0M202.92 220.38h0M206.65 220.38h0M210.38 220.38h0M214.12 220.38h0M217.85 220.38h0M221.58 220.38h0M225.32 220.38h0M229.05 220.38h0M40.52 224.11h0M44.25 224.11h0M47.98 224.11h0M51.72 224.11h0M55.45 224.11h0M59.18 224.11h0M62.92 224.11h0M66.65 224.11h0M70.38 224.11h0M74.12 224.11h0M77.85 224.11h0M81.58 224.11h0M85.32 224.11h0M89.05 224.11h0M92.78 224.11h0M96.52 224.11h0M100.25 224.11h0M103.98 224.11h0M107.72 224.11h0M111.45 224.11h0M115.18 224.11h0M118.92 224.11h0M122.65 224.11h0M126.38 224.11h0M130.12 224.11h0M133.85 224.11h0M137.58 224.11h0M141.32 224.11h0M145.05 224.11h0M148.78 224.11h0M152.52 224.11h0M156.25 224.11h0M159.98 224.11h0M163.72 224.11h0M167.45 224.11h0M171.18 224.11h0M174.92 224.11h0M178.65 224.11h0M182.38 224.11h0M186.12 224.11h0M189.85 224.11h0M193.58 224.11h0M197.32 224.11h0M201.05 224.11h0M204.78 224.11h0M208.52 224.11h0M212.25 224.11h0M215.98 224.11h0M219.72 224.11h0M223.45 224.11h0M227.18 224.11h0M230.92 224.11h0M38.65 227.84h0M42.38 227.84h0M46.12 227.84h0M49.85 227.84h0M53.58 227.84h0M57.32 227.84h0M61.05 227.84h0M64.78 227.84h0M68.52 227.84h0M72.25 227.84h0M75.98 227.84h0M79.72 227.84h0M83.45 227.84h0M87.18 227.84h0M90.92 227.84h0M94.65 227.84h0M98.38 227.84h0M102.12 227.84h0M105.85 227.84h0M109.58 227.84h0M113.32 227.84h0M117.05 227.84h0M120.78 227.84h0M124.52 227.84h0M128.25 227.84h0M131.98 227.84h0M135.72 227.84h0M139.45 227.84h0M143.18 227.84h0M146.92 227.84h0M150.65 227.84h0M154.38 227.84h0M158.12 227.84h0M161.85 227.84h0M165.58 227.84h0M169.32 227.84h0M173.05 227.84h0M176.78 227.84h0M180.52 227.84h0M184.25 227.84h0M187.98 227.84h0M191.72 227.84h0M195.45 227.84h0M199.18 227.84h0M202.92 227.84h0M206.65 227.84h0M210.38 227.84h0M214.12 227.84h0M217.85 227.84h0M221.58 227.84h0M225.32 227.84h0M229.05 227.84h0M40.52 231.58h0M44.25 231.58h0M47.98 231.58h0M51.72 231.58h0M55.45 231.58h0M59.18 231.58h0M62.92 231.58h0M66.65 231.58h0M70.38 231.58h0M74.12 231.58h0M77.85 231.58h0M81.58 231.58h0M85.32 231.58h0M89.05 231.58h0M92.78 231.58h0M96.52 231.58h0M100.25 231.58h0M103.98 231.58h0M107.72 231.58h0M111.45 231.58h0M115.18 231.58h0M118.92 231.58h0M122.65 231.58h0M126.38 231.58h0M130.12 231.58h0M133.85 231.58h0M137.58 231.58h0M141.32 231.58h0M145.05 231.58h0M148.78 231.58h0M152.52 231.58h0M156.25 231.58h0M159.98 231.58h0M163.72 231.58h0M167.45 231.58h0M171.18 231.58h0M174.92 231.58h0M178.65 231.58h0M182.38 231.58h0M186.12 231.58h0M189.85 231.58h0M193.58 231.58h0M197.32 231.58h0M201.05 231.58h0M204.78 231.58h0M208.52 231.58h0M212.25 231.58h0M215.98 231.58h0M219.72 231.58h0M223.45 231.58h0M227.18 231.58h0M230.92 231.58h0M38.65 235.31h0M42.38 235.31h0M46.12 235.31h0M49.85 235.31h0M53.58 235.31h0M57.32 235.31h0M61.05 235.31h0M64.78 235.31h0M68.52 235.31h0M72.25 235.31h0M75.98 235.31h0M79.72 235.31h0M83.45 235.31h0M87.18 235.31h0M90.92 235.31h0M94.65 235.31h0M98.38 235.31h0M102.12 235.31h0M105.85 235.31h0M109.58 235.31h0M113.32 235.31h0M117.05 235.31h0M120.78 235.31h0M124.52 235.31h0M128.25 235.31h0M131.98 235.31h0M135.72 235.31h0M139.45 235.31h0M143.18 235.31h0M146.92 235.31h0M150.65 235.31h0M154.38 235.31h0M158.12 235.31h0M161.85 235.31h0M165.58 235.31h0M169.32 235.31h0M173.05 235.31h0M176.78 235.31h0M180.52 235.31h0M184.25 235.31h0M187.98 235.31h0M191.72 235.31h0M195.45 235.31h0M199.18 235.31h0M202.92 235.31h0M206.65 235.31h0M210.38 235.31h0M214.12 235.31h0M217.85 235.31h0M221.58 235.31h0M225.32 235.31h0M229.05 235.31h0M40.52 239.04h0M44.25 239.04h0M47.98 239.04h0M51.72 239.04h0M55.45 239.04h0M59.18 239.04h0M62.92 239.04h0M66.65 239.04h0M70.38 239.04h0M74.12 239.04h0M77.85 239.04h0M81.58 239.04h0M85.32 239.04h0M89.05 239.04h0M92.78 239.04h0M96.52 239.04h0M100.25 239.04h0M103.98 239.04h0M107.72 239.04h0M111.45 239.04h0M115.18 239.04h0M118.92 239.04h0M122.65 239.04h0M126.38 239.04h0M130.12 239.04h0M133.85 239.04h0M137.58 239.04h0M141.32 239.04h0M145.05 239.04h0M148.78 239.04h0M152.52 239.04h0M156.25 239.04h0M159.98 239.04h0M163.72 239.04h0M167.45 239.04h0M171.18 239.04h0M174.92 239.04h0M178.65 239.04h0M182.38 239.04h0M186.12 239.04h0M189.85 239.04h0M193.58 239.04h0M197.32 239.04h0M201.05 239.04h0M204.78 239.04h0M208.52 239.04h0M212.25 239.04h0M215.98 239.04h0M219.72 239.04h0M223.45 239.04h0M227.18 239.04h0M230.92 239.04h0M38.65 242.78h0M42.38 242.78h0M46.12 242.78h0M49.85 242.78h0M53.58 242.78h0M57.32 242.78h0M61.05 242.78h0M64.78 242.78h0M68.52 242.78h0M72.25 242.78h0M75.98 242.78h0M79.72 242.78h0M83.45 242.78h0M87.18 242.78h0M90.92 242.78h0M94.65 242.78h0M98.38 242.78h0M102.12 242.78h0M105.85 242.78h0M109.58 242.78h0M113.32 242.78h0M117.05 242.78h0M120.78 242.78h0M124.52 242.78h0M128.25 242.78h0M131.98 242.78h0M135.72 242.78h0M139.45 242.78h0M143.18 242.78h0M146.92 242.78h0M150.65 242.78h0M154.38 242.78h0M158.12 242.78h0M161.85 242.78h0M165.58 242.78h0M169.32 242.78h0M173.05 242.78h0M176.78 242.78h0M180.52 242.78h0M184.25 242.78h0M187.98 242.78h0M191.72 242.78h0M195.45 242.78h0M199.18 242.78h0M202.92 242.78h0M206.65 242.78h0M210.38 242.78h0M214.12 242.78h0M217.85 242.78h0M221.58 242.78h0M225.32 242.78h0M229.05 242.78h0M40.52 246.51h0M44.25 246.51h0M47.98 246.51h0M51.72 246.51h0M55.45 246.51h0M59.18 246.51h0M62.92 246.51h0M66.65 246.51h0M70.38 246.51h0M74.12 246.51h0M77.85 246.51h0M81.58 246.51h0M85.32 246.51h0M89.05 246.51h0M92.78 246.51h0M96.52 246.51h0M100.25 246.51h0M103.98 246.51h0M107.72 246.51h0M111.45 246.51h0M115.18 246.51h0M118.92 246.51h0M122.65 246.51h0M126.38 246.51h0M130.12 246.51h0M133.85 246.51h0M137.58 246.51h0M141.32 246.51h0M145.05 246.51h0M148.78 246.51h0M152.52 246.51h0M156.25 246.51h0M159.98 246.51h0M163.72 246.51h0M167.45 246.51h0M171.18 246.51h0M174.92 246.51h0M178.65 246.51h0M182.38 246.51h0M186.12 246.51h0M189.85 246.51h0M193.58 246.51h0M197.32 246.51h0M201.05 246.51h0M204.78 246.51h0M208.52 246.51h0M212.25 246.51h0M215.98 246.51h0M219.72 246.51h0M223.45 246.51h0M227.18 246.51h0M230.92 246.51h0M38.65 250.24h0M42.38 250.24h0M46.12 250.24h0M49.85 250.24h0M53.58 250.24h0M57.32 250.24h0M61.05 250.24h0M64.78 250.24h0M68.52 250.24h0M72.25 250.24h0M75.98 250.24h0M79.72 250.24h0M83.45 250.24h0M87.18 250.24h0M90.92 250.24h0M94.65 250.24h0M98.38 250.24h0M102.12 250.24h0M105.85 250.24h0M109.58 250.24h0M113.32 250.24h0M117.05 250.24h0M120.78 250.24h0M124.52 250.24h0M128.25 250.24h0M131.98 250.24h0M135.72 250.24h0M139.45 250.24h0M143.18 250.24h0M146.92 250.24h0M150.65 250.24h0M154.38 250.24h0M158.12 250.24h0M161.85 250.24h0M165.58 250.24h0M169.32 250.24h0M173.05 250.24h0M176.78 250.24h0M180.52 250.24h0M184.25 250.24h0M187.98 250.24h0M191.72 250.24h0M195.45 250.24h0M199.18 250.24h0M202.92 250.24h0M206.65 250.24h0M210.38 250.24h0M214.12 250.24h0M217.85 250.24h0M221.58 250.24h0M225.32 250.24h0M229.05 250.24h0M40.52 253.98h0M44.25 253.98h0M47.98 253.98h0M51.72 253.98h0M55.45 253.98h0M59.18 253.98h0M62.92 253.98h0M66.65 253.98h0M70.38 253.98h0M74.12 253.98h0M77.85 253.98h0M81.58 253.98h0M85.32 253.98h0M89.05 253.98h0M92.78 253.98h0M96.52 253.98h0M100.25 253.98h0M103.98 253.98h0M107.72 253.98h0M111.45 253.98h0M115.18 253.98h0M118.92 253.98h0M122.65 253.98h0M126.38 253.98h0M130.12 253.98h0M133.85 253.98h0M137.58 253.98h0M141.32 253.98h0M145.05 253.98h0M148.78 253.98h0M152.52 253.98h0M156.25 253.98h0M159.98 253.98h0M163.72 253.98h0M167.45 253.98h0M171.18 253.98h0M174.92 253.98h0M178.65 253.98h0M182.38 253.98h0M186.12 253.98h0M189.85 253.98h0M193.58 253.98h0M197.32 253.98h0M201.05 253.98h0M204.78 253.98h0M208.52 253.98h0M212.25 253.98h0M215.98 253.98h0M219.72 253.98h0M223.45 253.98h0M227.18 253.98h0M230.92 253.98h0M38.65 257.71h0M42.38 257.71h0M46.12 257.71h0M49.85 257.71h0M53.58 257.71h0M57.32 257.71h0M61.05 257.71h0M64.78 257.71h0M68.52 257.71h0M72.25 257.71h0M75.98 257.71h0M79.72 257.71h0M83.45 257.71h0M87.18 257.71h0M90.92 257.71h0M94.65 257.71h0M98.38 257.71h0M102.12 257.71h0M105.85 257.71h0M109.58 257.71h0M113.32 257.71h0M117.05 257.71h0M120.78 257.71h0M124.52 257.71h0M128.25 257.71h0M131.98 257.71h0M135.72 257.71h0M139.45 257.71h0M143.18 257.71h0M146.92 257.71h0M150.65 257.71h0M154.38 257.71h0M158.12 257.71h0M161.85 257.71h0M165.58 257.71h0M169.32 257.71h0M173.05 257.71h0M176.78 257.71h0M180.52 257.71h0M184.25 257.71h0M187.98 257.71h0M191.72 257.71h0M195.45 257.71h0M199.18 257.71h0M202.92 257.71h0M206.65 257.71h0M210.38 257.71h0M214.12 257.71h0M217.85 257.71h0M221.58 257.71h0M225.32 257.71h0M229.05 257.71h0M40.52 261.44h0M44.25 261.44h0M47.98 261.44h0M51.72 261.44h0M55.45 261.44h0M59.18 261.44h0M62.92 261.44h0M66.65 261.44h0M70.38 261.44h0M74.12 261.44h0M77.85 261.44h0M81.58 261.44h0M85.32 261.44h0M89.05 261.44h0M92.78 261.44h0M96.52 261.44h0M100.25 261.44h0M103.98 261.44h0M107.72 261.44h0M111.45 261.44h0M115.18 261.44h0M118.92 261.44h0M122.65 261.44h0M126.38 261.44h0M130.12 261.44h0M133.85 261.44h0M137.58 261.44h0M141.32 261.44h0M145.05 261.44h0M148.78 261.44h0M152.52 261.44h0M156.25 261.44h0M159.98 261.44h0M163.72 261.44h0M167.45 261.44h0M171.18 261.44h0M174.92 261.44h0M178.65 261.44h0M182.38 261.44h0M186.12 261.44h0M189.85 261.44h0M193.58 261.44h0M197.32 261.44h0M201.05 261.44h0M204.78 261.44h0M208.52 261.44h0M212.25 261.44h0M215.98 261.44h0M219.72 261.44h0M223.45 261.44h0M227.18 261.44h0M230.92 261.44h0M38.65 265.18h0M42.38 265.18h0M46.12 265.18h0M49.85 265.18h0M53.58 265.18h0M57.32 265.18h0M61.05 265.18h0M64.78 265.18h0M68.52 265.18h0M72.25 265.18h0M75.98 265.18h0M79.72 265.18h0M83.45 265.18h0M87.18 265.18h0M90.92 265.18h0M94.65 265.18h0M98.38 265.18h0M102.12 265.18h0M105.85 265.18h0M109.58 265.18h0M113.32 265.18h0M117.05 265.18h0M120.78 265.18h0M124.52 265.18h0M128.25 265.18h0M131.98 265.18h0M135.72 265.18h0M139.45 265.18h0M143.18 265.18h0M146.92 265.18h0M150.65 265.18h0M154.38 265.18h0M158.12 265.18h0M161.85 265.18h0M165.58 265.18h0M169.32 265.18h0M173.05 265.18h0M176.78 265.18h0M180.52 265.18h0M184.25 265.18h0M187.98 265.18h0M191.72 265.18h0M195.45 265.18h0M199.18 265.18h0M202.92 265.18h0M206.65 265.18h0M210.38 265.18h0M214.12 265.18h0M217.85 265.18h0M221.58 265.18h0M225.32 265.18h0M229.05 265.18h0M40.52 268.91h0M44.25 268.91h0M47.98 268.91h0M51.72 268.91h0M55.45 268.91h0M59.18 268.91h0M62.92 268.91h0M66.65 268.91h0M70.38 268.91h0M74.12 268.91h0M77.85 268.91h0M81.58 268.91h0M85.32 268.91h0M89.05 268.91h0M92.78 268.91h0M96.52 268.91h0M100.25 268.91h0M103.98 268.91h0M107.72 268.91h0M111.45 268.91h0M115.18 268.91h0M118.92 268.91h0M122.65 268.91h0M126.38 268.91h0M130.12 268.91h0M133.85 268.91h0M137.58 268.91h0M141.32 268.91h0M145.05 268.91h0M148.78 268.91h0M152.52 268.91h0M156.25 268.91h0M159.98 268.91h0M163.72 268.91h0M167.45 268.91h0M171.18 268.91h0M174.92 268.91h0M178.65 268.91h0M182.38 268.91h0M186.12 268.91h0M189.85 268.91h0M193.58 268.91h0M197.32 268.91h0M201.05 268.91h0M204.78 268.91h0M208.52 268.91h0M212.25 268.91h0M215.98 268.91h0M219.72 268.91h0M223.45 268.91h0M227.18 268.91h0M230.92 268.91h0M38.65 272.64h0M42.38 272.64h0M46.12 272.64h0M49.85 272.64h0M53.58 272.64h0M57.32 272.64h0M61.05 272.64h0M64.78 272.64h0M68.52 272.64h0M72.25 272.64h0M75.98 272.64h0M79.72 272.64h0M83.45 272.64h0M87.18 272.64h0M90.92 272.64h0M94.65 272.64h0M98.38 272.64h0M102.12 272.64h0M105.85 272.64h0M109.58 272.64h0M113.32 272.64h0M117.05 272.64h0M120.78 272.64h0M124.52 272.64h0M128.25 272.64h0M131.98 272.64h0M135.72 272.64h0M139.45 272.64h0M143.18 272.64h0M146.92 272.64h0M150.65 272.64h0M154.38 272.64h0M158.12 272.64h0M161.85 272.64h0M165.58 272.64h0M169.32 272.64h0M173.05 272.64h0M176.78 272.64h0M180.52 272.64h0M184.25 272.64h0M187.98 272.64h0M191.72 272.64h0M195.45 272.64h0M199.18 272.64h0M202.92 272.64h0M206.65 272.64h0M210.38 272.64h0M214.12 272.64h0M217.85 272.64h0M221.58 272.64h0M225.32 272.64h0M229.05 272.64h0M40.52 276.38h0M44.25 276.38h0M47.98 276.38h0M51.72 276.38h0M55.45 276.38h0M59.18 276.38h0M62.92 276.38h0M66.65 276.38h0M70.38 276.38h0M74.12 276.38h0M77.85 276.38h0M81.58 276.38h0M85.32 276.38h0M89.05 276.38h0M92.78 276.38h0M96.52 276.38h0M100.25 276.38h0M103.98 276.38h0M107.72 276.38h0M111.45 276.38h0M115.18 276.38h0M118.92 276.38h0M122.65 276.38h0M126.38 276.38h0M130.12 276.38h0M133.85 276.38h0M137.58 276.38h0M141.32 276.38h0M145.05 276.38h0M148.78 276.38h0M152.52 276.38h0M156.25 276.38h0M159.98 276.38h0M163.72 276.38h0M167.45 276.38h0M171.18 276.38h0M174.92 276.38h0M178.65 276.38h0M182.38 276.38h0M186.12 276.38h0M189.85 276.38h0M193.58 276.38h0M197.32 276.38h0M201.05 276.38h0M204.78 276.38h0M208.52 276.38h0M212.25 276.38h0M215.98 276.38h0M219.72 276.38h0M223.45 276.38h0M227.18 276.38h0M230.92 276.38h0M38.65 280.11h0M42.38 280.11h0M46.12 280.11h0M49.85 280.11h0M53.58 280.11h0M57.32 280.11h0M61.05 280.11h0M64.78 280.11h0M68.52 280.11h0M72.25 280.11h0M75.98 280.11h0M79.72 280.11h0M83.45 280.11h0M87.18 280.11h0M90.92 280.11h0M94.65 280.11h0M98.38 280.11h0M102.12 280.11h0M105.85 280.11h0M109.58 280.11h0M113.32 280.11h0M117.05 280.11h0M120.78 280.11h0M124.52 280.11h0M128.25 280.11h0M131.98 280.11h0M135.72 280.11h0M139.45 280.11h0M143.18 280.11h0M146.92 280.11h0M150.65 280.11h0M154.38 280.11h0M158.12 280.11h0M161.85 280.11h0M165.58 280.11h0M169.32 280.11h0M173.05 280.11h0M176.78 280.11h0M180.52 280.11h0M184.25 280.11h0M187.98 280.11h0M191.72 280.11h0M195.45 280.11h0M199.18 280.11h0M202.92 280.11h0M206.65 280.11h0M210.38 280.11h0M214.12 280.11h0M217.85 280.11h0M221.58 280.11h0M225.32 280.11h0M229.05 280.11h0M40.52 283.84h0M44.25 283.84h0M47.98 283.84h0M51.72 283.84h0M55.45 283.84h0M59.18 283.84h0M62.92 283.84h0M66.65 283.84h0M70.38 283.84h0M74.12 283.84h0M77.85 283.84h0M81.58 283.84h0M85.32 283.84h0M89.05 283.84h0M92.78 283.84h0M96.52 283.84h0M100.25 283.84h0M103.98 283.84h0M107.72 283.84h0M111.45 283.84h0M115.18 283.84h0M118.92 283.84h0M122.65 283.84h0M126.38 283.84h0M130.12 283.84h0M133.85 283.84h0M137.58 283.84h0M141.32 283.84h0M145.05 283.84h0M148.78 283.84h0M152.52 283.84h0M156.25 283.84h0M159.98 283.84h0M163.72 283.84h0M167.45 283.84h0M171.18 283.84h0M174.92 283.84h0M178.65 283.84h0M182.38 283.84h0M186.12 283.84h0M189.85 283.84h0M193.58 283.84h0M197.32 283.84h0M201.05 283.84h0M204.78 283.84h0M208.52 283.84h0M212.25 283.84h0M215.98 283.84h0M219.72 283.84h0M223.45 283.84h0M227.18 283.84h0M230.92 283.84h0M38.65 287.58h0M42.38 287.58h0M46.12 287.58h0M49.85 287.58h0M53.58 287.58h0M57.32 287.58h0M61.05 287.58h0M64.78 287.58h0M68.52 287.58h0M72.25 287.58h0M75.98 287.58h0M79.72 287.58h0M83.45 287.58h0M87.18 287.58h0M90.92 287.58h0M94.65 287.58h0M98.38 287.58h0M102.12 287.58h0M105.85 287.58h0M109.58 287.58h0M113.32 287.58h0M117.05 287.58h0M120.78 287.58h0M124.52 287.58h0M128.25 287.58h0M131.98 287.58h0M135.72 287.58h0M139.45 287.58h0M143.18 287.58h0M146.92 287.58h0M150.65 287.58h0M154.38 287.58h0M158.12 287.58h0M161.85 287.58h0M165.58 287.58h0M169.32 287.58h0M173.05 287.58h0M176.78 287.58h0M180.52 287.58h0M184.25 287.58h0M187.98 287.58h0M191.72 287.58h0M195.45 287.58h0M199.18 287.58h0M202.92 287.58h0M206.65 287.58h0M210.38 287.58h0M214.12 287.58h0M217.85 287.58h0M221.58 287.58h0M225.32 287.58h0M229.05 287.58h0M40.52 291.31h0M44.25 291.31h0M47.98 291.31h0M51.72 291.31h0M55.45 291.31h0M59.18 291.31h0M62.92 291.31h0M66.65 291.31h0M70.38 291.31h0M74.12 291.31h0M77.85 291.31h0M81.58 291.31h0M85.32 291.31h0M89.05 291.31h0M92.78 291.31h0M96.52 291.31h0M100.25 291.31h0M103.98 291.31h0M107.72 291.31h0M111.45 291.31h0M115.18 291.31h0M118.92 291.31h0M122.65 291.31h0M126.38 291.31h0M130.12 291.31h0M133.85 291.31h0M137.58 291.31h0M141.32 291.31h0M145.05 291.31h0M148.78 291.31h0M152.52 291.31h0M156.25 291.31h0M159.98 291.31h0M163.72 291.31h0M167.45 291.31h0M171.18 291.31h0M174.92 291.31h0M178.65 291.31h0M182.38 291.31h0M186.12 291.31h0M189.85 291.31h0M193.58 291.31h0M197.32 291.31h0M201.05 291.31h0M204.78 291.31h0M208.52 291.31h0M212.25 291.31h0M215.98 291.31h0M219.72 291.31h0M223.45 291.31h0M227.18 291.31h0M230.92 291.31h0M38.65 295.04h0M42.38 295.04h0M46.12 295.04h0M49.85 295.04h0M53.58 295.04h0M57.32 295.04h0M61.05 295.04h0M64.78 295.04h0M68.52 295.04h0M72.25 295.04h0M75.98 295.04h0M79.72 295.04h0M83.45 295.04h0M87.18 295.04h0M90.92 295.04h0M94.65 295.04h0M98.38 295.04h0M102.12 295.04h0M105.85 295.04h0M109.58 295.04h0M113.32 295.04h0M117.05 295.04h0M120.78 295.04h0M124.52 295.04h0M128.25 295.04h0M131.98 295.04h0M135.72 295.04h0M139.45 295.04h0M143.18 295.04h0M146.92 295.04h0M150.65 295.04h0M154.38 295.04h0M158.12 295.04h0M161.85 295.04h0M165.58 295.04h0M169.32 295.04h0M173.05 295.04h0M176.78 295.04h0M180.52 295.04h0M184.25 295.04h0M187.98 295.04h0M191.72 295.04h0M195.45 295.04h0M199.18 295.04h0M202.92 295.04h0M206.65 295.04h0M210.38 295.04h0M214.12 295.04h0M217.85 295.04h0M221.58 295.04h0M225.32 295.04h0M229.05 295.04h0M40.52 298.78h0M44.25 298.78h0M47.98 298.78h0M51.72 298.78h0M55.45 298.78h0M59.18 298.78h0M62.92 298.78h0M66.65 298.78h0M70.38 298.78h0M74.12 298.78h0M77.85 298.78h0M81.58 298.78h0M85.32 298.78h0M89.05 298.78h0M92.78 298.78h0M96.52 298.78h0M100.25 298.78h0M103.98 298.78h0M107.72 298.78h0M111.45 298.78h0M115.18 298.78h0M118.92 298.78h0M122.65 298.78h0M126.38 298.78h0M130.12 298.78h0M133.85 298.78h0M137.58 298.78h0M141.32 298.78h0M145.05 298.78h0M148.78 298.78h0M152.52 298.78h0M156.25 298.78h0M159.98 298.78h0M163.72 298.78h0M167.45 298.78h0M171.18 298.78h0M174.92 298.78h0M178.65 298.78h0M182.38 298.78h0M186.12 298.78h0M189.85 298.78h0M193.58 298.78h0M197.32 298.78h0M201.05 298.78h0M204.78 298.78h0M208.52 298.78h0M212.25 298.78h0M215.98 298.78h0M219.72 298.78h0M223.45 298.78h0M227.18 298.78h0M230.92 298.78h0M38.65 302.51h0M42.38 302.51h0M46.12 302.51h0M49.85 302.51h0M53.58 302.51h0M57.32 302.51h0M61.05 302.51h0M64.78 302.51h0M68.52 302.51h0M72.25 302.51h0M75.98 302.51h0M79.72 302.51h0M83.45 302.51h0M87.18 302.51h0M90.92 302.51h0M94.65 302.51h0M98.38 302.51h0M102.12 302.51h0M105.85 302.51h0M109.58 302.51h0M113.32 302.51h0M117.05 302.51h0M120.78 302.51h0M124.52 302.51h0M128.25 302.51h0M131.98 302.51h0M135.72 302.51h0M139.45 302.51h0M143.18 302.51h0M146.92 302.51h0M150.65 302.51h0M154.38 302.51h0M158.12 302.51h0M161.85 302.51h0M165.58 302.51h0M169.32 302.51h0M173.05 302.51h0M176.78 302.51h0M180.52 302.51h0M184.25 302.51h0M187.98 302.51h0M191.72 302.51h0M195.45 302.51h0M199.18 302.51h0M202.92 302.51h0M206.65 302.51h0M210.38 302.51h0M214.12 302.51h0M217.85 302.51h0M221.58 302.51h0M225.32 302.51h0M229.05 302.51h0M40.52 306.24h0M44.25 306.24h0M47.98 306.24h0M51.72 306.24h0M55.45 306.24h0M59.18 306.24h0M62.92 306.24h0M66.65 306.24h0M70.38 306.24h0M74.12 306.24h0M77.85 306.24h0M81.58 306.24h0M85.32 306.24h0M89.05 306.24h0M92.78 306.24h0M96.52 306.24h0M100.25 306.24h0M103.98 306.24h0M107.72 306.24h0M111.45 306.24h0M115.18 306.24h0M118.92 306.24h0M122.65 306.24h0M126.38 306.24h0M130.12 306.24h0M133.85 306.24h0M137.58 306.24h0M141.32 306.24h0M145.05 306.24h0M148.78 306.24h0M152.52 306.24h0M156.25 306.24h0M159.98 306.24h0M163.72 306.24h0M167.45 306.24h0M171.18 306.24h0M174.92 306.24h0M178.65 306.24h0M182.38 306.24h0M186.12 306.24h0M189.85 306.24h0M193.58 306.24h0M197.32 306.24h0M201.05 306.24h0M204.78 306.24h0M208.52 306.24h0M212.25 306.24h0M215.98 306.24h0M219.72 306.24h0M223.45 306.24h0M227.18 306.24h0M230.92 306.24h0M38.65 309.98h0M42.38 309.98h0M46.12 309.98h0M49.85 309.98h0M53.58 309.98h0M57.32 309.98h0M61.05 309.98h0M64.78 309.98h0M68.52 309.98h0M72.25 309.98h0M75.98 309.98h0M79.72 309.98h0M83.45 309.98h0M87.18 309.98h0M90.92 309.98h0M94.65 309.98h0M98.38 309.98h0M102.12 309.98h0M105.85 309.98h0M109.58 309.98h0M113.32 309.98h0M117.05 309.98h0M120.78 309.98h0M124.52 309.98h0M128.25 309.98h0M131.98 309.98h0M135.72 309.98h0M139.45 309.98h0M143.18 309.98h0M146.92 309.98h0M150.65 309.98h0M154.38 309.98h0M158.12 309.98h0M161.85 309.98h0M165.58 309.98h0M169.32 309.98h0M173.05 309.98h0M176.78 309.98h0M180.52 309.98h0M184.25 309.98h0M187.98 309.98h0M191.72 309.98h0M195.45 309.98h0M199.18 309.98h0M202.92 309.98h0M206.65 309.98h0M210.38 309.98h0M214.12 309.98h0M217.85 309.98h0M221.58 309.98h0M225.32 309.98h0M229.05 309.98h0M40.52 313.71h0M44.25 313.71h0M47.98 313.71h0M51.72 313.71h0M55.45 313.71h0M59.18 313.71h0M62.92 313.71h0M66.65 313.71h0M70.38 313.71h0M74.12 313.71h0M77.85 313.71h0M81.58 313.71h0M85.32 313.71h0M89.05 313.71h0M92.78 313.71h0M96.52 313.71h0M100.25 313.71h0M103.98 313.71h0M107.72 313.71h0M111.45 313.71h0M115.18 313.71h0M118.92 313.71h0M122.65 313.71h0M126.38 313.71h0M130.12 313.71h0M133.85 313.71h0M137.58 313.71h0M141.32 313.71h0M145.05 313.71h0M148.78 313.71h0M152.52 313.71h0M156.25 313.71h0M159.98 313.71h0M163.72 313.71h0M167.45 313.71h0M171.18 313.71h0M174.92 313.71h0M178.65 313.71h0M182.38 313.71h0M186.12 313.71h0M189.85 313.71h0M193.58 313.71h0M197.32 313.71h0M201.05 313.71h0M204.78 313.71h0M208.52 313.71h0M212.25 313.71h0M215.98 313.71h0M219.72 313.71h0M223.45 313.71h0M227.18 313.71h0M230.92 313.71h0M38.65 317.44h0M42.38 317.44h0M46.12 317.44h0M49.85 317.44h0M53.58 317.44h0M57.32 317.44h0M61.05 317.44h0M64.78 317.44h0M68.52 317.44h0M72.25 317.44h0M75.98 317.44h0M79.72 317.44h0M83.45 317.44h0M87.18 317.44h0M90.92 317.44h0M94.65 317.44h0M98.38 317.44h0M102.12 317.44h0M105.85 317.44h0M109.58 317.44h0M113.32 317.44h0M117.05 317.44h0M120.78 317.44h0M124.52 317.44h0M128.25 317.44h0M131.98 317.44h0M135.72 317.44h0M139.45 317.44h0M143.18 317.44h0M146.92 317.44h0M150.65 317.44h0M154.38 317.44h0M158.12 317.44h0M161.85 317.44h0M165.58 317.44h0M169.32 317.44h0M173.05 317.44h0M176.78 317.44h0M180.52 317.44h0M184.25 317.44h0M187.98 317.44h0M191.72 317.44h0M195.45 317.44h0M199.18 317.44h0M202.92 317.44h0M206.65 317.44h0M210.38 317.44h0M214.12 317.44h0M217.85 317.44h0M221.58 317.44h0M225.32 317.44h0M229.05 317.44h0M40.52 321.18h0M44.25 321.18h0M47.98 321.18h0M51.72 321.18h0M55.45 321.18h0M59.18 321.18h0M62.92 321.18h0M66.65 321.18h0M70.38 321.18h0M74.12 321.18h0M77.85 321.18h0M81.58 321.18h0M85.32 321.18h0M89.05 321.18h0M92.78 321.18h0M96.52 321.18h0M100.25 321.18h0M103.98 321.18h0M107.72 321.18h0M111.45 321.18h0M115.18 321.18h0M118.92 321.18h0M122.65 321.18h0M126.38 321.18h0M130.12 321.18h0M133.85 321.18h0M137.58 321.18h0M141.32 321.18h0M145.05 321.18h0M148.78 321.18h0M152.52 321.18h0M156.25 321.18h0M159.98 321.18h0M163.72 321.18h0M167.45 321.18h0M171.18 321.18h0M174.92 321.18h0M178.65 321.18h0M182.38 321.18h0M186.12 321.18h0M189.85 321.18h0M193.58 321.18h0M197.32 321.18h0M201.05 321.18h0M204.78 321.18h0M208.52 321.18h0M212.25 321.18h0M215.98 321.18h0M219.72 321.18h0M223.45 321.18h0M227.18 321.18h0M230.92 321.18h0M38.65 324.91h0M42.38 324.91h0M46.12 324.91h0M49.85 324.91h0M53.58 324.91h0M57.32 324.91h0M61.05 324.91h0M64.78 324.91h0M68.52 324.91h0M72.25 324.91h0M75.98 324.91h0M79.72 324.91h0M83.45 324.91h0M87.18 324.91h0M90.92 324.91h0M94.65 324.91h0M98.38 324.91h0M102.12 324.91h0M105.85 324.91h0M109.58 324.91h0M113.32 324.91h0M117.05 324.91h0M120.78 324.91h0M124.52 324.91h0M128.25 324.91h0M131.98 324.91h0M135.72 324.91h0M139.45 324.91h0M143.18 324.91h0M146.92 324.91h0M150.65 324.91h0M154.38 324.91h0M158.12 324.91h0M161.85 324.91h0M165.58 324.91h0M169.32 324.91h0M173.05 324.91h0M176.78 324.91h0M180.52 324.91h0M184.25 324.91h0M187.98 324.91h0M191.72 324.91h0M195.45 324.91h0M199.18 324.91h0M202.92 324.91h0M206.65 324.91h0M210.38 324.91h0M214.12 324.91h0M217.85 324.91h0M221.58 324.91h0M225.32 324.91h0M229.05 324.91h0M40.52 328.64h0M44.25 328.64h0M47.98 328.64h0M51.72 328.64h0M55.45 328.64h0M59.18 328.64h0M62.92 328.64h0M66.65 328.64h0M70.38 328.64h0M74.12 328.64h0M77.85 328.64h0M81.58 328.64h0M85.32 328.64h0M89.05 328.64h0M92.78 328.64h0M96.52 328.64h0M100.25 328.64h0M103.98 328.64h0M107.72 328.64h0M111.45 328.64h0M115.18 328.64h0M118.92 328.64h0M122.65 328.64h0M126.38 328.64h0M130.12 328.64h0M133.85 328.64h0M137.58 328.64h0M141.32 328.64h0M145.05 328.64h0M148.78 328.64h0M152.52 328.64h0M156.25 328.64h0M159.98 328.64h0M163.72 328.64h0M167.45 328.64h0M171.18 328.64h0M174.92 328.64h0M178.65 328.64h0M182.38 328.64h0M186.12 328.64h0M189.85 328.64h0M193.58 328.64h0M197.32 328.64h0M201.05 328.64h0M204.78 328.64h0M208.52 328.64h0M212.25 328.64h0M215.98 328.64h0M219.72 328.64h0M223.45 328.64h0M227.18 328.64h0M230.92 328.64h0M38.65 332.38h0M42.38 332.38h0M46.12 332.38h0M49.85 332.38h0M53.58 332.38h0M57.32 332.38h0M61.05 332.38h0M64.78 332.38h0M68.52 332.38h0M72.25 332.38h0M75.98 332.38h0M79.72 332.38h0M83.45 332.38h0M87.18 332.38h0M90.92 332.38h0M94.65 332.38h0M98.38 332.38h0M102.12 332.38h0M105.85 332.38h0M109.58 332.38h0M113.32 332.38h0M117.05 332.38h0M120.78 332.38h0M124.52 332.38h0M128.25 332.38h0M131.98 332.38h0M135.72 332.38h0M139.45 332.38h0M143.18 332.38h0M146.92 332.38h0M150.65 332.38h0M154.38 332.38h0M158.12 332.38h0M161.85 332.38h0M165.58 332.38h0M169.32 332.38h0M173.05 332.38h0M176.78 332.38h0M180.52 332.38h0M184.25 332.38h0M187.98 332.38h0M191.72 332.38h0M195.45 332.38h0M199.18 332.38h0M202.92 332.38h0M206.65 332.38h0M210.38 332.38h0M214.12 332.38h0M217.85 332.38h0M221.58 332.38h0M225.32 332.38h0M229.05 332.38h0M40.52 336.11h0M44.25 336.11h0M47.98 336.11h0M51.72 336.11h0M55.45 336.11h0M59.18 336.11h0M62.92 336.11h0M66.65 336.11h0M70.38 336.11h0M74.12 336.11h0M77.85 336.11h0M81.58 336.11h0M85.32 336.11h0M89.05 336.11h0M92.78 336.11h0M96.52 336.11h0M100.25 336.11h0M103.98 336.11h0M107.72 336.11h0M111.45 336.11h0M115.18 336.11h0M118.92 336.11h0M122.65 336.11h0M126.38 336.11h0M130.12 336.11h0M133.85 336.11h0M137.58 336.11h0M141.32 336.11h0M145.05 336.11h0M148.78 336.11h0M152.52 336.11h0M156.25 336.11h0M159.98 336.11h0M163.72 336.11h0M167.45 336.11h0M171.18 336.11h0M174.92 336.11h0M178.65 336.11h0M182.38 336.11h0M186.12 336.11h0M189.85 336.11h0M193.58 336.11h0M197.32 336.11h0M201.05 336.11h0M204.78 336.11h0M208.52 336.11h0M212.25 336.11h0M215.98 336.11h0M219.72 336.11h0M223.45 336.11h0M227.18 336.11h0M230.92 336.11h0M38.65 339.84h0M42.38 339.84h0M46.12 339.84h0M49.85 339.84h0M53.58 339.84h0M57.32 339.84h0M61.05 339.84h0M64.78 339.84h0M68.52 339.84h0M72.25 339.84h0M75.98 339.84h0M79.72 339.84h0M83.45 339.84h0M87.18 339.84h0M90.92 339.84h0M94.65 339.84h0M98.38 339.84h0M102.12 339.84h0M105.85 339.84h0M109.58 339.84h0M113.32 339.84h0M117.05 339.84h0M120.78 339.84h0M124.52 339.84h0M128.25 339.84h0M131.98 339.84h0M135.72 339.84h0M139.45 339.84h0M143.18 339.84h0M146.92 339.84h0M150.65 339.84h0M154.38 339.84h0M158.12 339.84h0M161.85 339.84h0M165.58 339.84h0M169.32 339.84h0M173.05 339.84h0M176.78 339.84h0M180.52 339.84h0M184.25 339.84h0M187.98 339.84h0M191.72 339.84h0M195.45 339.84h0M199.18 339.84h0M202.92 339.84h0M206.65 339.84h0M210.38 339.84h0M214.12 339.84h0M217.85 339.84h0M221.58 339.84h0M225.32 339.84h0M229.05 339.84h0M40.52 343.58h0M44.25 343.58h0M47.98 343.58h0M51.72 343.58h0M55.45 343.58h0M59.18 343.58h0M62.92 343.58h0M66.65 343.58h0M70.38 343.58h0M74.12 343.58h0M77.85 343.58h0M81.58 343.58h0M85.32 343.58h0M89.05 343.58h0M92.78 343.58h0M96.52 343.58h0M100.25 343.58h0M103.98 343.58h0M107.72 343.58h0M111.45 343.58h0M115.18 343.58h0M118.92 343.58h0M122.65 343.58h0M126.38 343.58h0M130.12 343.58h0M133.85 343.58h0M137.58 343.58h0M141.32 343.58h0M145.05 343.58h0M148.78 343.58h0M152.52 343.58h0M156.25 343.58h0M159.98 343.58h0M163.72 343.58h0M167.45 343.58h0M171.18 343.58h0M174.92 343.58h0M178.65 343.58h0M182.38 343.58h0M186.12 343.58h0M189.85 343.58h0M193.58 343.58h0M197.32 343.58h0M201.05 343.58h0M204.78 343.58h0M208.52 343.58h0M212.25 343.58h0M215.98 343.58h0M219.72 343.58h0M223.45 343.58h0M227.18 343.58h0M230.92 343.58h0M38.65 347.31h0M42.38 347.31h0M46.12 347.31h0M49.85 347.31h0M53.58 347.31h0M57.32 347.31h0M61.05 347.31h0M64.78 347.31h0M68.52 347.31h0M72.25 347.31h0M75.98 347.31h0M79.72 347.31h0M83.45 347.31h0M87.18 347.31h0M90.92 347.31h0M94.65 347.31h0M98.38 347.31h0M102.12 347.31h0M105.85 347.31h0M109.58 347.31h0M113.32 347.31h0M117.05 347.31h0M120.78 347.31h0M124.52 347.31h0M128.25 347.31h0M131.98 347.31h0M135.72 347.31h0M139.45 347.31h0M143.18 347.31h0M146.92 347.31h0M150.65 347.31h0M154.38 347.31h0M158.12 347.31h0M161.85 347.31h0M165.58 347.31h0M169.32 347.31h0M173.05 347.31h0M176.78 347.31h0M180.52 347.31h0M184.25 347.31h0M187.98 347.31h0M191.72 347.31h0M195.45 347.31h0M199.18 347.31h0M202.92 347.31h0M206.65 347.31h0M210.38 347.31h0M214.12 347.31h0M217.85 347.31h0M221.58 347.31h0M225.32 347.31h0M229.05 347.31h0M40.52 351.04h0M44.25 351.04h0M47.98 351.04h0M51.72 351.04h0M55.45 351.04h0M59.18 351.04h0M62.92 351.04h0M66.65 351.04h0M70.38 351.04h0M74.12 351.04h0M77.85 351.04h0M81.58 351.04h0M85.32 351.04h0M89.05 351.04h0M92.78 351.04h0M96.52 351.04h0M100.25 351.04h0M103.98 351.04h0M107.72 351.04h0M111.45 351.04h0M115.18 351.04h0M118.92 351.04h0M122.65 351.04h0M126.38 351.04h0M130.12 351.04h0M133.85 351.04h0M137.58 351.04h0M141.32 351.04h0M145.05 351.04h0M148.78 351.04h0M152.52 351.04h0M156.25 351.04h0M159.98 351.04h0M163.72 351.04h0M167.45 351.04h0M171.18 351.04h0M174.92 351.04h0M178.65 351.04h0M182.38 351.04h0M186.12 351.04h0M189.85 351.04h0M193.58 351.04h0M197.32 351.04h0M201.05 351.04h0M204.78 351.04h0M208.52 351.04h0M212.25 351.04h0M215.98 351.04h0M219.72 351.04h0M223.45 351.04h0M227.18 351.04h0M230.92 351.04h0M38.65 354.78h0M42.38 354.78h0M46.12 354.78h0M49.85 354.78h0M53.58 354.78h0M57.32 354.78h0M61.05 354.78h0M64.78 354.78h0M68.52 354.78h0M72.25 354.78h0M75.98 354.78h0M79.72 354.78h0M83.45 354.78h0M87.18 354.78h0M90.92 354.78h0M94.65 354.78h0M98.38 354.78h0M102.12 354.78h0M105.85 354.78h0M109.58 354.78h0M113.32 354.78h0M117.05 354.78h0M120.78 354.78h0M124.52 354.78h0M128.25 354.78h0M131.98 354.78h0M135.72 354.78h0M139.45 354.78h0M143.18 354.78h0M146.92 354.78h0M150.65 354.78h0M154.38 354.78h0M158.12 354.78h0M161.85 354.78h0M165.58 354.78h0M169.32 354.78h0M173.05 354.78h0M176.78 354.78h0M180.52 354.78h0M184.25 354.78h0M187.98 354.78h0M191.72 354.78h0M195.45 354.78h0M199.18 354.78h0M202.92 354.78h0M206.65 354.78h0M210.38 354.78h0M214.12 354.78h0M217.85 354.78h0M221.58 354.78h0M225.32 354.78h0M229.05 354.78h0M40.52 358.51h0M44.25 358.51h0M47.98 358.51h0M51.72 358.51h0M55.45 358.51h0M59.18 358.51h0M62.92 358.51h0M66.65 358.51h0M70.38 358.51h0M74.12 358.51h0M77.85 358.51h0M81.58 358.51h0M85.32 358.51h0M89.05 358.51h0M92.78 358.51h0M96.52 358.51h0M100.25 358.51h0M103.98 358.51h0M107.72 358.51h0M111.45 358.51h0M115.18 358.51h0M118.92 358.51h0M122.65 358.51h0M126.38 358.51h0M130.12 358.51h0M133.85 358.51h0M137.58 358.51h0M141.32 358.51h0M145.05 358.51h0M148.78 358.51h0M152.52 358.51h0M156.25 358.51h0M159.98 358.51h0M163.72 358.51h0M167.45 358.51h0M171.18 358.51h0M174.92 358.51h0M178.65 358.51h0M182.38 358.51h0M186.12 358.51h0M189.85 358.51h0M193.58 358.51h0M197.32 358.51h0M201.05 358.51h0M204.78 358.51h0M208.52 358.51h0M212.25 358.51h0M215.98 358.51h0M219.72 358.51h0M223.45 358.51h0M227.18 358.51h0M230.92 358.51h0" stroke="#000" stroke-width="1.7" stroke-linecap="round" fill="none"/></g>
<g transform="translate(39.250,203.000) scale(0.99454,1.00414) translate(-38.450,-12.450)">
<path d="M38.4,19.6 L43.7,18.8 L50.3,18.5 L55.1,17.9 L57.0,17.7 L60.8,16.6 L63.6,18.5 L68.4,18.2 L74.1,18.5 L77.8,17.9 L82.6,17.7 L85.0,15.6 L87.3,15.0 L89.7,16.6 L90.7,19.1 L92.1,21.5 L95.0,23.9 L96.1,25.0 L96.5,28.6 L98.3,31.6 L100.8,33.4 L103.0,34.5 L105.2,35.2 L107.4,35.6 L109.3,36.8 L111.4,38.2 L112.6,40.8 L114.3,42.8 L117.3,44.9 L120.8,46.6 L124.3,47.5 L127.2,46.9 L130.1,45.8 L133.0,44.3 L134.5,43.4 L134.8,44.6 L132.4,46.9 L130.7,49.3 L128.4,50.1 L124.9,51.0 L122.5,51.9 L120.2,53.1 L118.7,53.9 L121.6,56.7 L125.1,61.0 L128.8,64.7 L131.7,67.6 L134.6,69.8 L137.5,70.9 L141.2,70.5 L145.0,68.8 L148.6,67.4 L152.3,65.9 L154.5,63.4 L156.0,61.2 L156.7,59.7 L157.8,60.4 L159.6,64.1 L161.1,67.7 L161.8,70.7 L161.1,74.3 L160.7,78.0 L160.3,81.6 L160.7,85.3 L161.8,88.2 L162.4,92.3 L162.8,96.9 L163.9,102.0 L165.0,107.0 L166.5,114.8 L167.9,120.6 L170.4,125.5 L173.8,130.4 L177.7,137.3 L180.6,144.1 L182.6,151.0 L184.6,157.8 L186.0,163.7 L188.0,169.5" fill="none" stroke="#000" stroke-width="1.2" stroke-linejoin="round"/>
<path d="M113.8,34.8 L113.8,33.0 L114.6,30.8 L118.1,30.4 L123.4,30.4 L126.0,30.8 L129.5,30.4 L132.2,29.1 L135.2,28.2 L136.1,30.0 L138.3,30.8 L140.9,28.6 L140.9,26.9 L141.8,26.0" fill="none" stroke="#000" stroke-width="1.05" stroke-linejoin="round"/>
<path d="M141.8,26.0 L140.9,24.3 L139.6,20.8 L137.4,18.1 L136.1,14.6 L133.0,13.8 L130.8,12.0" fill="none" stroke="#000" stroke-width="1.05" stroke-linejoin="round"/>
<path d="M141.8,26.0 L142.7,26.0 L147.0,25.1 L154.0,26.0 L157.6,28.2 L161.1,28.6 L164.2,27.8 L166.3,32.0 L170.5,38.3 L175.8,42.5 L178.6,43.6" fill="none" stroke="#000" stroke-width="1.05" stroke-linejoin="round"/>
<path d="M178.6,43.6 L181.0,40.4 L185.2,37.2 L185.8,33.0 L183.6,27.8 L185.2,22.5 L188.4,22.0 L189.4,24.6 L195.7,25.1 L196.3,28.8 L193.6,32.0 L191.5,34.6 L195.7,34.1 L199.9,30.9 L205.2,30.9 L208.3,31.4 L207.8,26.7 L208.3,23.6 L211.5,21.5 L213.6,19.4 L211.5,17.3 L206.2,16.2 L203.6,14.1 L204.1,12.0" fill="none" stroke="#000" stroke-width="1.05" stroke-linejoin="round"/>
<path d="M178.6,43.6 L179.3,45.8 L177.8,48.0 L175.7,50.2 L176.0,53.1 L176.4,56.8 L173.5,58.2 L172.7,61.2 L175.7,61.9 L178.6,61.5 L174.2,63.4 L171.3,66.3 L173.5,69.2 L171.3,72.1 L168.4,71.4 L168.4,75.0 L164.7,76.5 L161.8,76.5" fill="none" stroke="#000" stroke-width="1.05" stroke-linejoin="round"/>
<path d="M176.4,56.8 L179.2,56.7 L180.8,59.6 L187.5,61.7 L189.1,63.3 L197.5,63.3 L200.0,67.1 L203.3,66.2 L206.6,61.7 L209.9,60.0 L214.1,59.6 L214.9,62.5 L219.1,63.3 L224.9,61.2 L226.6,62.5 L231.5,62.5" fill="none" stroke="#000" stroke-width="1.05" stroke-linejoin="round"/>
<path d="M231.5,32.5 L230.4,32.0 L227.3,30.9 L224.1,27.8 L223.1,23.6 L224.1,18.3 L227.3,15.2 L229.5,13.5" fill="none" stroke="#000" stroke-width="1.05" stroke-linejoin="round"/>
<path d="M228.3,18.3 L229.9,25.7" fill="none" stroke="#000" stroke-width="1.05" stroke-linejoin="round"/>
<path d="M231.5,82.0 L225.8,81.6 L224.1,85.0 L220.3,87.0 L218.3,90.8 L219.1,93.3 L214.9,98.3 L212.4,97.4 L209.1,100.8 L207.9,104.1 L205.1,105.0 L202.2,107.0 L201.2,109.4 L194.3,108.9 L193.9,111.8 L189.5,113.8 L185.5,114.8 L182.6,117.2 L178.2,119.2 L179.7,122.6 L178.7,124.6 L177.2,128.0 L173.3,128.0 L170.9,127.0" fill="none" stroke="#000" stroke-width="1.05" stroke-linejoin="round"/>
<path d="M177.2,128.0 L178.0,134.3 L176.7,137.3" fill="none" stroke="#000" stroke-width="1.05" stroke-linejoin="round"/>
<path d="M214.9,98.3 L215.8,101.6 L215.4,106.6 L214.4,109.9 L213.9,114.8 L213.4,119.7 L214.9,122.1 L214.9,125.5 L210.5,125.5 L210.0,130.4 L210.5,134.3 L206.6,136.3 L207.1,141.2 L209.0,144.1 L209.5,148.0 L213.9,149.0 L219.8,149.0 L223.7,152.9 L226.6,155.9 L227.6,158.8 L223.7,161.7 L219.8,161.2 L216.8,163.7 L215.4,169.5" fill="none" stroke="#000" stroke-width="1.05" stroke-linejoin="round"/>
<path d="M214.9,125.5 L219.8,126.5 L225.6,124.1 L231.5,124.1" fill="none" stroke="#000" stroke-width="1.05" stroke-linejoin="round"/>
<path d="M227.6,158.8 L231.5,157.8" fill="none" stroke="#000" stroke-width="1.05" stroke-linejoin="round"/>
<path d="M184.6,160.8 L188.5,163.7 L191.4,169.5" fill="none" stroke="#000" stroke-width="1.05" stroke-linejoin="round"/>
<path d="M209.5,146.0 L213.0,144.5 L214.5,147.0 L212.0,149.5 L209.5,148.5 L209.5,146.0" fill="none" stroke="#000" stroke-width="1.05" stroke-linejoin="round"/>
<path d="M153.0,53.1 L162.5,53.5" fill="none" stroke="#000" stroke-width="1.05" stroke-linejoin="round"/>
<path d="M156.3,52.4 L156.7,59.7" fill="none" stroke="#000" stroke-width="1.05" stroke-linejoin="round"/>
<path d="M158.9,61.2 L164.7,59.3" fill="none" stroke="#000" stroke-width="1.05" stroke-linejoin="round"/>
<path d="M159.6,56.1 L160.7,54.2" fill="none" stroke="#000" stroke-width="1.05" stroke-linejoin="round"/>
<path d="M108.0,34.8 L109.5,33.8 L111.8,34.0 L113.6,34.8 L113.2,36.2 L111.5,37.3 L109.5,36.8 L108.2,35.9Z" fill="#000"/>
<path d="M152.0,56.5 L154.5,56.0 L155.3,58.0 L154.0,59.4 L152.2,58.8Z" fill="#000"/>
<path d="M163.3,75.6 L165.8,75.5 L166.3,77.2 L164.5,78.0 L163.2,77.3Z" fill="#000"/>
</g></g>
<rect x="39.25" y="200.8" width="191.30" height="157.50" fill="none" stroke="#111" stroke-width="1"/>
<g clip-path="url(#clipE)">
<g transform="translate(39.250,389.600) scale(0.99454,1.00478) translate(-38.450,-12.450)">
<rect x="34.5" y="8.4" width="202.0" height="166.0" fill="#f4fbed"/>
<path d="M34.5,8.4 236.4,8.4 236.4,174.4 95.8,174.4 84.5,172.0 74.5,170.6 42.5,170.2 38.5,169.5 34.5,167.7 34.5,8.4Z" fill="#eef8e7" fill-rule="evenodd"/>
<path d="M34.5,8.4 236.4,8.4 236.4,174.4 123.4,174.4 120.5,171.4 116.5,168.4 110.5,165.9 78.5,159.2 56.5,155.5 48.5,153.1 34.5,147.1 34.5,8.4Z" fill="#e7f6e2" fill-rule="evenodd"/>
<path d="M34.5,8.4 236.4,8.4 236.4,174.4 132.8,174.4 129.9,170.4 124.5,164.9 120.5,161.5 116.5,159.2 110.5,157.2 90.5,153.1 64.5,146.3 52.5,141.7 34.5,132.7 34.5,8.4Z" fill="#e1f4dc" fill-rule="evenodd"/>
<path d="M34.5,8.4 236.4,8.4 236.4,174.4 139.8,174.4 137.4,170.4 134.0,166.4 124.4,157.6 118.5,153.7 110.5,150.8 86.5,144.8 70.5,139.3 55.3,132.4 34.5,120.5 34.5,8.4Z" fill="#dcf1d6" fill-rule="evenodd"/>
<path d="M34.5,8.4 236.4,8.4 236.4,174.4 145.2,174.4 142.4,168.7 138.8,164.4 126.4,153.5 120.5,149.4 112.5,146.0 88.5,138.8 74.5,133.0 58.5,124.6 34.5,109.9 34.5,8.4Z" fill="#d6efd0" fill-rule="evenodd"/>
<path d="M34.5,8.4 236.4,8.4 236.4,174.4 149.5,174.4 147.3,168.4 144.4,164.2 130.4,151.5 124.5,146.8 114.5,141.6 93.5,134.4 80.5,128.5 70.0,122.5 54.1,112.5 42.2,104.5 34.5,98.5 34.5,8.4Z" fill="#d0edca" fill-rule="evenodd"/>
<path d="M34.5,8.4 236.4,8.4 236.4,174.4 153.0,174.4 152.2,170.4 150.5,166.4 146.4,160.8 132.9,148.4 126.5,143.3 116.5,137.5 98.0,130.4 88.5,125.7 71.3,114.5 49.1,98.5 40.5,90.5 37.3,86.5 34.5,81.6 34.5,8.4Z" fill="#c9eac4" fill-rule="evenodd"/>
<path d="M34.5,8.4 236.4,8.4 236.4,174.4 156.0,174.4 154.4,167.7 150.5,160.4 144.4,153.9 132.4,143.2 126.5,138.5 120.5,134.7 114.4,131.6 98.5,124.8 91.5,120.5 61.3,96.5 56.9,92.5 53.5,88.5 50.9,84.5 48.4,78.5 47.0,72.5 46.7,66.5 47.2,60.5 48.0,56.5 52.5,43.8 54.2,36.5 54.7,28.4 53.8,22.4 52.5,19.2 50.2,16.4 46.4,14.3 38.5,12.5 36.5,11.7 34.5,10.6 34.5,8.4Z" fill="#bfe6bf" fill-rule="evenodd"/>
<path d="M64.3,8.4 236.4,8.4 236.4,174.4 158.5,174.4 158.0,170.4 156.7,166.4 152.6,158.5 148.4,153.5 138.4,143.8 130.4,136.7 124.5,132.2 116.5,127.4 99.4,118.5 92.0,112.5 83.4,104.5 73.5,94.5 68.5,88.5 65.9,84.5 63.9,78.5 63.4,74.5 63.6,68.5 66.3,50.5 66.7,42.5 66.1,14.4 65.9,12.4 64.3,8.4Z" fill="#b6e3bb" fill-rule="evenodd"/>
<path d="M73.1,8.4 236.4,8.4 236.4,174.4 160.7,174.4 159.7,168.4 156.4,159.8 154.4,156.4 148.4,149.2 128.4,130.1 107.6,116.5 99.9,110.5 88.3,98.5 83.4,92.5 79.4,86.5 76.7,80.5 75.1,72.5 75.1,66.5 76.4,54.5 76.4,50.5 74.3,30.4 73.9,14.4 73.1,8.4Z" fill="#acdfb7" fill-rule="evenodd"/>
<path d="M79.6,8.4 236.4,8.4 236.4,174.4 162.7,174.4 161.6,168.4 158.4,158.9 156.4,155.1 152.4,149.6 146.4,142.9 130.4,126.7 111.8,112.5 103.1,104.5 92.6,92.5 86.1,82.5 83.8,76.5 82.4,68.5 82.7,52.5 80.6,30.4 79.6,8.4Z" fill="#a0dab8" fill-rule="evenodd"/>
<path d="M85.3,8.4 236.4,8.4 236.4,174.4 164.6,174.4 160.3,158.4 158.4,154.2 154.4,148.1 148.4,140.8 132.4,123.4 117.4,110.5 107.5,100.5 96.5,87.3 91.0,78.5 88.8,72.5 87.4,64.5 87.3,52.5 86.2,36.5 85.3,8.4Z" fill="#94d5bc" fill-rule="evenodd"/>
<path d="M91.0,8.4 236.4,8.4 236.4,174.4 166.5,174.4 160.7,154.4 158.4,149.9 154.4,143.7 134.4,120.5 120.1,106.5 105.7,90.5 99.3,82.5 94.7,74.5 92.1,66.5 91.1,58.5 90.6,42.5 91.2,24.4 91.0,8.4Z" fill="#87d1c0" fill-rule="evenodd"/>
<path d="M97.5,8.4 236.4,8.4 236.4,174.4 168.4,174.4 161.9,152.4 159.2,146.4 156.4,141.9 136.4,118.0 105.0,82.5 100.7,76.5 97.6,70.5 94.8,60.4 94.0,50.5 94.7,38.4 97.3,20.4 97.5,8.4Z" fill="#7accc4" fill-rule="evenodd"/>
<path d="M104.4,8.4 236.4,8.4 236.4,174.4 170.4,174.4 165.3,158.4 162.7,148.4 158.4,139.8 154.5,134.4 144.4,123.1 121.1,94.5 106.9,78.5 102.9,72.5 100.5,67.4 97.9,58.5 97.1,50.5 99.1,36.5 104.7,18.4 105.1,14.4 104.4,8.4Z" fill="#6fc5c8" fill-rule="evenodd"/>
<path d="M110.1,8.4 236.4,8.4 236.4,174.4 172.5,174.5 170.4,169.3 167.1,158.4 164.4,146.0 162.4,140.9 160.4,137.3 156.4,131.9 146.3,120.5 124.5,92.5 110.0,76.5 105.9,70.5 103.1,64.5 100.7,54.5 100.9,46.5 102.0,40.5 103.8,34.5 110.3,18.4 110.7,14.4 110.1,8.4Z" fill="#62becc" fill-rule="evenodd"/>
<path d="M114.9,8.4 236.4,8.4 236.4,174.4 175.1,174.4 172.4,169.2 169.1,158.4 167.8,148.4 166.4,142.4 164.9,138.4 162.6,134.4 158.4,129.0 148.4,118.0 127.6,90.5 112.5,74.0 108.7,68.5 106.0,62.5 104.4,54.5 104.3,48.5 104.8,44.5 107.1,36.4 114.3,20.4 115.1,16.4 114.9,8.4Z" fill="#56b7d0" fill-rule="evenodd"/>
<path d="M119.6,8.4 236.4,8.4 236.4,174.4 178.6,174.4 176.4,171.8 174.4,168.0 171.7,158.4 170.2,142.4 169.1,138.4 167.2,134.4 162.9,128.4 152.4,117.4 146.4,110.2 130.6,88.5 115.5,72.5 112.5,68.3 109.4,62.5 108.2,58.5 107.6,54.5 107.6,48.5 108.2,44.5 110.5,37.6 117.4,24.4 118.9,20.4 119.6,16.4 119.6,8.4Z" fill="#4aafd1" fill-rule="evenodd"/>
<path d="M124.6,8.4 236.4,8.4 236.4,174.4 185.0,174.4 180.4,170.8 178.5,168.4 176.4,163.1 175.1,156.4 175.3,146.4 174.7,140.4 173.7,136.4 171.7,132.4 166.9,126.5 154.4,114.2 148.4,107.4 141.5,98.5 133.2,86.5 120.5,73.2 116.5,68.5 113.9,64.5 112.0,60.5 110.6,54.5 110.5,50.5 111.0,46.5 113.9,38.5 122.1,24.4 123.9,20.4 124.9,16.4 124.6,8.4Z" fill="#40a4cb" fill-rule="evenodd"/>
<path d="M129.5,8.4 236.4,8.4 236.4,152.2 229.7,158.4 218.4,166.0 214.5,167.8 210.4,169.0 202.4,169.6 192.4,168.5 188.4,166.8 186.4,165.0 185.1,162.4 182.9,138.4 180.6,132.5 177.4,128.4 160.4,114.6 152.4,106.7 144.4,97.1 135.5,84.5 122.3,70.5 116.5,62.5 114.7,58.5 113.6,54.5 113.5,50.5 114.3,46.5 117.8,38.5 126.9,24.5 129.9,18.4 130.6,14.4 129.5,8.4Z" fill="#379ac5" fill-rule="evenodd"/>
<path d="M133.3,8.4 236.4,8.4 236.4,122.6 230.4,122.5 214.4,127.6 208.4,129.1 202.4,129.4 198.4,128.7 194.4,127.2 184.9,122.4 176.4,119.4 170.4,116.4 160.4,109.2 150.4,99.3 144.4,92.0 136.4,80.8 121.7,64.5 118.5,58.9 117.0,54.5 116.8,50.5 118.6,44.5 121.9,38.5 130.4,25.8 133.1,20.4 134.0,16.4 133.3,8.4Z" fill="#2d8fbf" fill-rule="evenodd"/>
<path d="M136.2,8.4 236.4,8.4 236.4,113.9 228.4,114.7 214.4,117.6 206.4,118.7 200.4,118.8 192.4,117.6 178.4,114.1 170.4,110.7 160.4,104.0 152.4,96.4 146.4,89.4 138.4,78.3 124.7,62.5 122.3,58.5 120.8,54.5 120.7,50.5 122.5,45.0 132.4,29.3 135.5,22.4 136.5,16.4 136.2,8.4Z" fill="#2484ba" fill-rule="evenodd"/>
<path d="M139.0,8.4 236.4,8.4 236.4,106.9 208.4,111.9 200.4,112.3 190.4,111.4 178.4,108.7 170.4,105.4 162.4,100.4 154.4,93.3 148.5,86.5 140.4,75.3 129.7,62.5 127.0,58.5 125.4,54.5 125.2,50.5 126.4,46.5 134.4,33.0 137.4,26.4 138.7,20.4 139.0,8.4Z" fill="#1a7ab5" fill-rule="evenodd"/>
<path d="M142.0,8.4 236.4,8.4 236.4,100.1 210.4,106.0 200.4,106.8 192.4,106.4 182.4,104.7 172.4,101.2 164.4,96.6 157.1,90.5 150.4,82.8 135.4,62.5 132.8,58.5 131.1,54.5 130.7,52.5 131.3,48.5 138.4,33.7 140.9,26.5 141.5,22.4 141.5,12.4 142.0,8.4Z" fill="#1070b0" fill-rule="evenodd"/>
<path d="M145.8,8.4 236.4,8.4 236.4,93.0 226.3,96.5 210.6,100.5 202.4,101.6 194.4,101.6 184.4,100.1 176.4,97.7 168.4,93.8 160.4,87.8 154.4,81.3 146.8,70.5 140.4,60.5 137.9,54.5 137.6,52.5 137.8,48.5 143.5,32.5 144.8,26.4 145.0,14.4 145.8,8.4Z" fill="#0866a9" fill-rule="evenodd"/>
<path d="M150.3,10.4 150.9,8.4 236.4,8.4 236.4,84.1 228.8,88.5 218.2,92.5 206.4,95.7 198.4,96.5 190.4,96.0 180.4,93.7 172.4,90.3 164.4,84.9 158.4,78.7 152.6,70.5 147.1,60.5 145.3,54.5 144.9,50.5 145.1,46.5 149.3,28.4 150.3,10.4Z" fill="#085c9f" fill-rule="evenodd"/>
<path d="M158.4,8.4 230.3,8.4 231.4,18.4 236.4,28.7 236.4,66.7 232.9,72.5 229.6,76.5 222.4,82.2 214.4,86.5 206.4,89.4 198.4,90.9 190.4,90.2 180.4,87.6 172.4,83.6 166.4,79.0 160.7,72.5 156.9,66.5 153.4,58.5 152.2,52.5 152.3,44.5 155.9,26.4 157.4,12.4 158.4,8.4Z" fill="#085093" fill-rule="evenodd"/>
<path d="M171.1,10.4 173.0,8.4 191.7,8.4 200.1,12.4 204.4,13.6 208.4,15.8 212.4,19.8 215.3,24.4 218.4,32.5 220.9,42.5 221.9,52.5 221.4,60.5 219.6,66.5 216.1,72.5 210.4,78.0 204.4,81.5 200.4,83.0 194.4,83.4 188.1,82.5 180.4,79.9 174.4,76.5 170.4,73.2 166.3,68.5 162.8,62.5 160.3,54.5 159.9,50.5 160.2,44.5 161.5,38.5 163.4,32.5 169.7,18.4 170.1,12.4 171.1,10.4Z" fill="#084586" fill-rule="evenodd"/>
<path d="M188.2,26.4 192.4,25.9 194.4,26.3 196.4,27.3 198.4,29.4 199.9,32.5 201.1,38.5 199.7,62.5 198.4,65.5 196.4,67.9 194.4,69.2 190.4,70.3 186.4,70.0 182.4,68.8 178.4,66.5 176.4,64.8 172.4,59.5 171.2,56.5 170.4,52.5 170.4,48.5 171.3,44.5 174.4,37.7 180.4,31.0 184.4,28.1 188.2,26.4Z" fill="#084081" fill-rule="evenodd"/>
</g>
<clipPath id="ste"><path d="M108.4,388.6 L230.7,388.6 L230.7,548.4 L168.1,548.4 L166.7,529.3 L159.6,517.9 L148.4,496.5 L137.1,483.7 L116.9,468.6 L105.7,453.0 L97.4,438.9 L93.2,417.8 L98.5,401.7 L104.4,393.6Z"/></clipPath>
<g clip-path="url(#ste)"><path d="M39.62 390.40h0M45.22 390.40h0M50.82 390.40h0M56.42 390.40h0M62.02 390.40h0M67.62 390.40h0M73.22 390.40h0M78.82 390.40h0M84.42 390.40h0M90.02 390.40h0M95.62 390.40h0M101.22 390.40h0M106.82 390.40h0M112.42 390.40h0M118.02 390.40h0M123.62 390.40h0M129.22 390.40h0M134.82 390.40h0M140.42 390.40h0M146.02 390.40h0M151.62 390.40h0M157.22 390.40h0M162.82 390.40h0M168.42 390.40h0M174.02 390.40h0M179.62 390.40h0M185.22 390.40h0M190.82 390.40h0M196.42 390.40h0M202.02 390.40h0M207.62 390.40h0M213.22 390.40h0M218.82 390.40h0M224.42 390.40h0M230.02 390.40h0M42.42 396.00h0M48.02 396.00h0M53.62 396.00h0M59.22 396.00h0M64.82 396.00h0M70.42 396.00h0M76.02 396.00h0M81.62 396.00h0M87.22 396.00h0M92.82 396.00h0M98.42 396.00h0M104.02 396.00h0M109.62 396.00h0M115.22 396.00h0M120.82 396.00h0M126.42 396.00h0M132.02 396.00h0M137.62 396.00h0M143.22 396.00h0M148.82 396.00h0M154.42 396.00h0M160.02 396.00h0M165.62 396.00h0M171.22 396.00h0M176.82 396.00h0M182.42 396.00h0M188.02 396.00h0M193.62 396.00h0M199.22 396.00h0M204.82 396.00h0M210.42 396.00h0M216.02 396.00h0M221.62 396.00h0M227.22 396.00h0M39.62 401.60h0M45.22 401.60h0M50.82 401.60h0M56.42 401.60h0M62.02 401.60h0M67.62 401.60h0M73.22 401.60h0M78.82 401.60h0M84.42 401.60h0M90.02 401.60h0M95.62 401.60h0M101.22 401.60h0M106.82 401.60h0M112.42 401.60h0M118.02 401.60h0M123.62 401.60h0M129.22 401.60h0M134.82 401.60h0M140.42 401.60h0M146.02 401.60h0M151.62 401.60h0M157.22 401.60h0M162.82 401.60h0M168.42 401.60h0M174.02 401.60h0M179.62 401.60h0M185.22 401.60h0M190.82 401.60h0M196.42 401.60h0M202.02 401.60h0M207.62 401.60h0M213.22 401.60h0M218.82 401.60h0M224.42 401.60h0M230.02 401.60h0M42.42 407.20h0M48.02 407.20h0M53.62 407.20h0M59.22 407.20h0M64.82 407.20h0M70.42 407.20h0M76.02 407.20h0M81.62 407.20h0M87.22 407.20h0M92.82 407.20h0M98.42 407.20h0M104.02 407.20h0M109.62 407.20h0M115.22 407.20h0M120.82 407.20h0M126.42 407.20h0M132.02 407.20h0M137.62 407.20h0M143.22 407.20h0M148.82 407.20h0M154.42 407.20h0M160.02 407.20h0M165.62 407.20h0M171.22 407.20h0M176.82 407.20h0M182.42 407.20h0M188.02 407.20h0M193.62 407.20h0M199.22 407.20h0M204.82 407.20h0M210.42 407.20h0M216.02 407.20h0M221.62 407.20h0M227.22 407.20h0M39.62 412.80h0M45.22 412.80h0M50.82 412.80h0M56.42 412.80h0M62.02 412.80h0M67.62 412.80h0M73.22 412.80h0M78.82 412.80h0M84.42 412.80h0M90.02 412.80h0M95.62 412.80h0M101.22 412.80h0M106.82 412.80h0M112.42 412.80h0M118.02 412.80h0M123.62 412.80h0M129.22 412.80h0M134.82 412.80h0M140.42 412.80h0M146.02 412.80h0M151.62 412.80h0M157.22 412.80h0M162.82 412.80h0M168.42 412.80h0M174.02 412.80h0M179.62 412.80h0M185.22 412.80h0M190.82 412.80h0M196.42 412.80h0M202.02 412.80h0M207.62 412.80h0M213.22 412.80h0M218.82 412.80h0M224.42 412.80h0M230.02 412.80h0M42.42 418.40h0M48.02 418.40h0M53.62 418.40h0M59.22 418.40h0M64.82 418.40h0M70.42 418.40h0M76.02 418.40h0M81.62 418.40h0M87.22 418.40h0M92.82 418.40h0M98.42 418.40h0M104.02 418.40h0M109.62 418.40h0M115.22 418.40h0M120.82 418.40h0M126.42 418.40h0M132.02 418.40h0M137.62 418.40h0M143.22 418.40h0M148.82 418.40h0M154.42 418.40h0M160.02 418.40h0M165.62 418.40h0M171.22 418.40h0M176.82 418.40h0M182.42 418.40h0M188.02 418.40h0M193.62 418.40h0M199.22 418.40h0M204.82 418.40h0M210.42 418.40h0M216.02 418.40h0M221.62 418.40h0M227.22 418.40h0M39.62 424.00h0M45.22 424.00h0M50.82 424.00h0M56.42 424.00h0M62.02 424.00h0M67.62 424.00h0M73.22 424.00h0M78.82 424.00h0M84.42 424.00h0M90.02 424.00h0M95.62 424.00h0M101.22 424.00h0M106.82 424.00h0M112.42 424.00h0M118.02 424.00h0M123.62 424.00h0M129.22 424.00h0M134.82 424.00h0M140.42 424.00h0M146.02 424.00h0M151.62 424.00h0M157.22 424.00h0M162.82 424.00h0M168.42 424.00h0M174.02 424.00h0M179.62 424.00h0M185.22 424.00h0M190.82 424.00h0M196.42 424.00h0M202.02 424.00h0M207.62 424.00h0M213.22 424.00h0M218.82 424.00h0M224.42 424.00h0M230.02 424.00h0M42.42 429.60h0M48.02 429.60h0M53.62 429.60h0M59.22 429.60h0M64.82 429.60h0M70.42 429.60h0M76.02 429.60h0M81.62 429.60h0M87.22 429.60h0M92.82 429.60h0M98.42 429.60h0M104.02 429.60h0M109.62 429.60h0M115.22 429.60h0M120.82 429.60h0M126.42 429.60h0M132.02 429.60h0M137.62 429.60h0M143.22 429.60h0M148.82 429.60h0M154.42 429.60h0M160.02 429.60h0M165.62 429.60h0M171.22 429.60h0M176.82 429.60h0M182.42 429.60h0M188.02 429.60h0M193.62 429.60h0M199.22 429.60h0M204.82 429.60h0M210.42 429.60h0M216.02 429.60h0M221.62 429.60h0M227.22 429.60h0M39.62 435.20h0M45.22 435.20h0M50.82 435.20h0M56.42 435.20h0M62.02 435.20h0M67.62 435.20h0M73.22 435.20h0M78.82 435.20h0M84.42 435.20h0M90.02 435.20h0M95.62 435.20h0M101.22 435.20h0M106.82 435.20h0M112.42 435.20h0M118.02 435.20h0M123.62 435.20h0M129.22 435.20h0M134.82 435.20h0M140.42 435.20h0M146.02 435.20h0M151.62 435.20h0M157.22 435.20h0M162.82 435.20h0M168.42 435.20h0M174.02 435.20h0M179.62 435.20h0M185.22 435.20h0M190.82 435.20h0M196.42 435.20h0M202.02 435.20h0M207.62 435.20h0M213.22 435.20h0M218.82 435.20h0M224.42 435.20h0M230.02 435.20h0M42.42 440.80h0M48.02 440.80h0M53.62 440.80h0M59.22 440.80h0M64.82 440.80h0M70.42 440.80h0M76.02 440.80h0M81.62 440.80h0M87.22 440.80h0M92.82 440.80h0M98.42 440.80h0M104.02 440.80h0M109.62 440.80h0M115.22 440.80h0M120.82 440.80h0M126.42 440.80h0M132.02 440.80h0M137.62 440.80h0M143.22 440.80h0M148.82 440.80h0M154.42 440.80h0M160.02 440.80h0M165.62 440.80h0M171.22 440.80h0M176.82 440.80h0M182.42 440.80h0M188.02 440.80h0M193.62 440.80h0M199.22 440.80h0M204.82 440.80h0M210.42 440.80h0M216.02 440.80h0M221.62 440.80h0M227.22 440.80h0M39.62 446.40h0M45.22 446.40h0M50.82 446.40h0M56.42 446.40h0M62.02 446.40h0M67.62 446.40h0M73.22 446.40h0M78.82 446.40h0M84.42 446.40h0M90.02 446.40h0M95.62 446.40h0M101.22 446.40h0M106.82 446.40h0M112.42 446.40h0M118.02 446.40h0M123.62 446.40h0M129.22 446.40h0M134.82 446.40h0M140.42 446.40h0M146.02 446.40h0M151.62 446.40h0M157.22 446.40h0M162.82 446.40h0M168.42 446.40h0M174.02 446.40h0M179.62 446.40h0M185.22 446.40h0M190.82 446.40h0M196.42 446.40h0M202.02 446.40h0M207.62 446.40h0M213.22 446.40h0M218.82 446.40h0M224.42 446.40h0M230.02 446.40h0M42.42 452.00h0M48.02 452.00h0M53.62 452.00h0M59.22 452.00h0M64.82 452.00h0M70.42 452.00h0M76.02 452.00h0M81.62 452.00h0M87.22 452.00h0M92.82 452.00h0M98.42 452.00h0M104.02 452.00h0M109.62 452.00h0M115.22 452.00h0M120.82 452.00h0M126.42 452.00h0M132.02 452.00h0M137.62 452.00h0M143.22 452.00h0M148.82 452.00h0M154.42 452.00h0M160.02 452.00h0M165.62 452.00h0M171.22 452.00h0M176.82 452.00h0M182.42 452.00h0M188.02 452.00h0M193.62 452.00h0M199.22 452.00h0M204.82 452.00h0M210.42 452.00h0M216.02 452.00h0M221.62 452.00h0M227.22 452.00h0M39.62 457.60h0M45.22 457.60h0M50.82 457.60h0M56.42 457.60h0M62.02 457.60h0M67.62 457.60h0M73.22 457.60h0M78.82 457.60h0M84.42 457.60h0M90.02 457.60h0M95.62 457.60h0M101.22 457.60h0M106.82 457.60h0M112.42 457.60h0M118.02 457.60h0M123.62 457.60h0M129.22 457.60h0M134.82 457.60h0M140.42 457.60h0M146.02 457.60h0M151.62 457.60h0M157.22 457.60h0M162.82 457.60h0M168.42 457.60h0M174.02 457.60h0M179.62 457.60h0M185.22 457.60h0M190.82 457.60h0M196.42 457.60h0M202.02 457.60h0M207.62 457.60h0M213.22 457.60h0M218.82 457.60h0M224.42 457.60h0M230.02 457.60h0M42.42 463.20h0M48.02 463.20h0M53.62 463.20h0M59.22 463.20h0M64.82 463.20h0M70.42 463.20h0M76.02 463.20h0M81.62 463.20h0M87.22 463.20h0M92.82 463.20h0M98.42 463.20h0M104.02 463.20h0M109.62 463.20h0M115.22 463.20h0M120.82 463.20h0M126.42 463.20h0M132.02 463.20h0M137.62 463.20h0M143.22 463.20h0M148.82 463.20h0M154.42 463.20h0M160.02 463.20h0M165.62 463.20h0M171.22 463.20h0M176.82 463.20h0M182.42 463.20h0M188.02 463.20h0M193.62 463.20h0M199.22 463.20h0M204.82 463.20h0M210.42 463.20h0M216.02 463.20h0M221.62 463.20h0M227.22 463.20h0M39.62 468.80h0M45.22 468.80h0M50.82 468.80h0M56.42 468.80h0M62.02 468.80h0M67.62 468.80h0M73.22 468.80h0M78.82 468.80h0M84.42 468.80h0M90.02 468.80h0M95.62 468.80h0M101.22 468.80h0M106.82 468.80h0M112.42 468.80h0M118.02 468.80h0M123.62 468.80h0M129.22 468.80h0M134.82 468.80h0M140.42 468.80h0M146.02 468.80h0M151.62 468.80h0M157.22 468.80h0M162.82 468.80h0M168.42 468.80h0M174.02 468.80h0M179.62 468.80h0M185.22 468.80h0M190.82 468.80h0M196.42 468.80h0M202.02 468.80h0M207.62 468.80h0M213.22 468.80h0M218.82 468.80h0M224.42 468.80h0M230.02 468.80h0M42.42 474.40h0M48.02 474.40h0M53.62 474.40h0M59.22 474.40h0M64.82 474.40h0M70.42 474.40h0M76.02 474.40h0M81.62 474.40h0M87.22 474.40h0M92.82 474.40h0M98.42 474.40h0M104.02 474.40h0M109.62 474.40h0M115.22 474.40h0M120.82 474.40h0M126.42 474.40h0M132.02 474.40h0M137.62 474.40h0M143.22 474.40h0M148.82 474.40h0M154.42 474.40h0M160.02 474.40h0M165.62 474.40h0M171.22 474.40h0M176.82 474.40h0M182.42 474.40h0M188.02 474.40h0M193.62 474.40h0M199.22 474.40h0M204.82 474.40h0M210.42 474.40h0M216.02 474.40h0M221.62 474.40h0M227.22 474.40h0M39.62 480.00h0M45.22 480.00h0M50.82 480.00h0M56.42 480.00h0M62.02 480.00h0M67.62 480.00h0M73.22 480.00h0M78.82 480.00h0M84.42 480.00h0M90.02 480.00h0M95.62 480.00h0M101.22 480.00h0M106.82 480.00h0M112.42 480.00h0M118.02 480.00h0M123.62 480.00h0M129.22 480.00h0M134.82 480.00h0M140.42 480.00h0M146.02 480.00h0M151.62 480.00h0M157.22 480.00h0M162.82 480.00h0M168.42 480.00h0M174.02 480.00h0M179.62 480.00h0M185.22 480.00h0M190.82 480.00h0M196.42 480.00h0M202.02 480.00h0M207.62 480.00h0M213.22 480.00h0M218.82 480.00h0M224.42 480.00h0M230.02 480.00h0M42.42 485.60h0M48.02 485.60h0M53.62 485.60h0M59.22 485.60h0M64.82 485.60h0M70.42 485.60h0M76.02 485.60h0M81.62 485.60h0M87.22 485.60h0M92.82 485.60h0M98.42 485.60h0M104.02 485.60h0M109.62 485.60h0M115.22 485.60h0M120.82 485.60h0M126.42 485.60h0M132.02 485.60h0M137.62 485.60h0M143.22 485.60h0M148.82 485.60h0M154.42 485.60h0M160.02 485.60h0M165.62 485.60h0M171.22 485.60h0M176.82 485.60h0M182.42 485.60h0M188.02 485.60h0M193.62 485.60h0M199.22 485.60h0M204.82 485.60h0M210.42 485.60h0M216.02 485.60h0M221.62 485.60h0M227.22 485.60h0M39.62 491.20h0M45.22 491.20h0M50.82 491.20h0M56.42 491.20h0M62.02 491.20h0M67.62 491.20h0M73.22 491.20h0M78.82 491.20h0M84.42 491.20h0M90.02 491.20h0M95.62 491.20h0M101.22 491.20h0M106.82 491.20h0M112.42 491.20h0M118.02 491.20h0M123.62 491.20h0M129.22 491.20h0M134.82 491.20h0M140.42 491.20h0M146.02 491.20h0M151.62 491.20h0M157.22 491.20h0M162.82 491.20h0M168.42 491.20h0M174.02 491.20h0M179.62 491.20h0M185.22 491.20h0M190.82 491.20h0M196.42 491.20h0M202.02 491.20h0M207.62 491.20h0M213.22 491.20h0M218.82 491.20h0M224.42 491.20h0M230.02 491.20h0M42.42 496.80h0M48.02 496.80h0M53.62 496.80h0M59.22 496.80h0M64.82 496.80h0M70.42 496.80h0M76.02 496.80h0M81.62 496.80h0M87.22 496.80h0M92.82 496.80h0M98.42 496.80h0M104.02 496.80h0M109.62 496.80h0M115.22 496.80h0M120.82 496.80h0M126.42 496.80h0M132.02 496.80h0M137.62 496.80h0M143.22 496.80h0M148.82 496.80h0M154.42 496.80h0M160.02 496.80h0M165.62 496.80h0M171.22 496.80h0M176.82 496.80h0M182.42 496.80h0M188.02 496.80h0M193.62 496.80h0M199.22 496.80h0M204.82 496.80h0M210.42 496.80h0M216.02 496.80h0M221.62 496.80h0M227.22 496.80h0M39.62 502.40h0M45.22 502.40h0M50.82 502.40h0M56.42 502.40h0M62.02 502.40h0M67.62 502.40h0M73.22 502.40h0M78.82 502.40h0M84.42 502.40h0M90.02 502.40h0M95.62 502.40h0M101.22 502.40h0M106.82 502.40h0M112.42 502.40h0M118.02 502.40h0M123.62 502.40h0M129.22 502.40h0M134.82 502.40h0M140.42 502.40h0M146.02 502.40h0M151.62 502.40h0M157.22 502.40h0M162.82 502.40h0M168.42 502.40h0M174.02 502.40h0M179.62 502.40h0M185.22 502.40h0M190.82 502.40h0M196.42 502.40h0M202.02 502.40h0M207.62 502.40h0M213.22 502.40h0M218.82 502.40h0M224.42 502.40h0M230.02 502.40h0M42.42 508.00h0M48.02 508.00h0M53.62 508.00h0M59.22 508.00h0M64.82 508.00h0M70.42 508.00h0M76.02 508.00h0M81.62 508.00h0M87.22 508.00h0M92.82 508.00h0M98.42 508.00h0M104.02 508.00h0M109.62 508.00h0M115.22 508.00h0M120.82 508.00h0M126.42 508.00h0M132.02 508.00h0M137.62 508.00h0M143.22 508.00h0M148.82 508.00h0M154.42 508.00h0M160.02 508.00h0M165.62 508.00h0M171.22 508.00h0M176.82 508.00h0M182.42 508.00h0M188.02 508.00h0M193.62 508.00h0M199.22 508.00h0M204.82 508.00h0M210.42 508.00h0M216.02 508.00h0M221.62 508.00h0M227.22 508.00h0M39.62 513.60h0M45.22 513.60h0M50.82 513.60h0M56.42 513.60h0M62.02 513.60h0M67.62 513.60h0M73.22 513.60h0M78.82 513.60h0M84.42 513.60h0M90.02 513.60h0M95.62 513.60h0M101.22 513.60h0M106.82 513.60h0M112.42 513.60h0M118.02 513.60h0M123.62 513.60h0M129.22 513.60h0M134.82 513.60h0M140.42 513.60h0M146.02 513.60h0M151.62 513.60h0M157.22 513.60h0M162.82 513.60h0M168.42 513.60h0M174.02 513.60h0M179.62 513.60h0M185.22 513.60h0M190.82 513.60h0M196.42 513.60h0M202.02 513.60h0M207.62 513.60h0M213.22 513.60h0M218.82 513.60h0M224.42 513.60h0M230.02 513.60h0M42.42 519.20h0M48.02 519.20h0M53.62 519.20h0M59.22 519.20h0M64.82 519.20h0M70.42 519.20h0M76.02 519.20h0M81.62 519.20h0M87.22 519.20h0M92.82 519.20h0M98.42 519.20h0M104.02 519.20h0M109.62 519.20h0M115.22 519.20h0M120.82 519.20h0M126.42 519.20h0M132.02 519.20h0M137.62 519.20h0M143.22 519.20h0M148.82 519.20h0M154.42 519.20h0M160.02 519.20h0M165.62 519.20h0M171.22 519.20h0M176.82 519.20h0M182.42 519.20h0M188.02 519.20h0M193.62 519.20h0M199.22 519.20h0M204.82 519.20h0M210.42 519.20h0M216.02 519.20h0M221.62 519.20h0M227.22 519.20h0M39.62 524.80h0M45.22 524.80h0M50.82 524.80h0M56.42 524.80h0M62.02 524.80h0M67.62 524.80h0M73.22 524.80h0M78.82 524.80h0M84.42 524.80h0M90.02 524.80h0M95.62 524.80h0M101.22 524.80h0M106.82 524.80h0M112.42 524.80h0M118.02 524.80h0M123.62 524.80h0M129.22 524.80h0M134.82 524.80h0M140.42 524.80h0M146.02 524.80h0M151.62 524.80h0M157.22 524.80h0M162.82 524.80h0M168.42 524.80h0M174.02 524.80h0M179.62 524.80h0M185.22 524.80h0M190.82 524.80h0M196.42 524.80h0M202.02 524.80h0M207.62 524.80h0M213.22 524.80h0M218.82 524.80h0M224.42 524.80h0M230.02 524.80h0M42.42 530.40h0M48.02 530.40h0M53.62 530.40h0M59.22 530.40h0M64.82 530.40h0M70.42 530.40h0M76.02 530.40h0M81.62 530.40h0M87.22 530.40h0M92.82 530.40h0M98.42 530.40h0M104.02 530.40h0M109.62 530.40h0M115.22 530.40h0M120.82 530.40h0M126.42 530.40h0M132.02 530.40h0M137.62 530.40h0M143.22 530.40h0M148.82 530.40h0M154.42 530.40h0M160.02 530.40h0M165.62 530.40h0M171.22 530.40h0M176.82 530.40h0M182.42 530.40h0M188.02 530.40h0M193.62 530.40h0M199.22 530.40h0M204.82 530.40h0M210.42 530.40h0M216.02 530.40h0M221.62 530.40h0M227.22 530.40h0M39.62 536.00h0M45.22 536.00h0M50.82 536.00h0M56.42 536.00h0M62.02 536.00h0M67.62 536.00h0M73.22 536.00h0M78.82 536.00h0M84.42 536.00h0M90.02 536.00h0M95.62 536.00h0M101.22 536.00h0M106.82 536.00h0M112.42 536.00h0M118.02 536.00h0M123.62 536.00h0M129.22 536.00h0M134.82 536.00h0M140.42 536.00h0M146.02 536.00h0M151.62 536.00h0M157.22 536.00h0M162.82 536.00h0M168.42 536.00h0M174.02 536.00h0M179.62 536.00h0M185.22 536.00h0M190.82 536.00h0M196.42 536.00h0M202.02 536.00h0M207.62 536.00h0M213.22 536.00h0M218.82 536.00h0M224.42 536.00h0M230.02 536.00h0M42.42 541.60h0M48.02 541.60h0M53.62 541.60h0M59.22 541.60h0M64.82 541.60h0M70.42 541.60h0M76.02 541.60h0M81.62 541.60h0M87.22 541.60h0M92.82 541.60h0M98.42 541.60h0M104.02 541.60h0M109.62 541.60h0M115.22 541.60h0M120.82 541.60h0M126.42 541.60h0M132.02 541.60h0M137.62 541.60h0M143.22 541.60h0M148.82 541.60h0M154.42 541.60h0M160.02 541.60h0M165.62 541.60h0M171.22 541.60h0M176.82 541.60h0M182.42 541.60h0M188.02 541.60h0M193.62 541.60h0M199.22 541.60h0M204.82 541.60h0M210.42 541.60h0M216.02 541.60h0M221.62 541.60h0M227.22 541.60h0M39.62 547.20h0M45.22 547.20h0M50.82 547.20h0M56.42 547.20h0M62.02 547.20h0M67.62 547.20h0M73.22 547.20h0M78.82 547.20h0M84.42 547.20h0M90.02 547.20h0M95.62 547.20h0M101.22 547.20h0M106.82 547.20h0M112.42 547.20h0M118.02 547.20h0M123.62 547.20h0M129.22 547.20h0M134.82 547.20h0M140.42 547.20h0M146.02 547.20h0M151.62 547.20h0M157.22 547.20h0M162.82 547.20h0M168.42 547.20h0M174.02 547.20h0M179.62 547.20h0M185.22 547.20h0M190.82 547.20h0M196.42 547.20h0M202.02 547.20h0M207.62 547.20h0M213.22 547.20h0M218.82 547.20h0M224.42 547.20h0M230.02 547.20h0" stroke="#000" stroke-width="2.1" stroke-linecap="round" fill="none"/></g>
<g transform="translate(39.250,391.600) scale(0.99454,1.00478) translate(-38.450,-12.450)">
<path d="M38.4,19.6 L43.7,18.8 L50.3,18.5 L55.1,17.9 L57.0,17.7 L60.8,16.6 L63.6,18.5 L68.4,18.2 L74.1,18.5 L77.8,17.9 L82.6,17.7 L85.0,15.6 L87.3,15.0 L89.7,16.6 L90.7,19.1 L92.1,21.5 L95.0,23.9 L96.1,25.0 L96.5,28.6 L98.3,31.6 L100.8,33.4 L103.0,34.5 L105.2,35.2 L107.4,35.6 L109.3,36.8 L111.4,38.2 L112.6,40.8 L114.3,42.8 L117.3,44.9 L120.8,46.6 L124.3,47.5 L127.2,46.9 L130.1,45.8 L133.0,44.3 L134.5,43.4 L134.8,44.6 L132.4,46.9 L130.7,49.3 L128.4,50.1 L124.9,51.0 L122.5,51.9 L120.2,53.1 L118.7,53.9 L121.6,56.7 L125.1,61.0 L128.8,64.7 L131.7,67.6 L134.6,69.8 L137.5,70.9 L141.2,70.5 L145.0,68.8 L148.6,67.4 L152.3,65.9 L154.5,63.4 L156.0,61.2 L156.7,59.7 L157.8,60.4 L159.6,64.1 L161.1,67.7 L161.8,70.7 L161.1,74.3 L160.7,78.0 L160.3,81.6 L160.7,85.3 L161.8,88.2 L162.4,92.3 L162.8,96.9 L163.9,102.0 L165.0,107.0 L166.5,114.8 L167.9,120.6 L170.4,125.5 L173.8,130.4 L177.7,137.3 L180.6,144.1 L182.6,151.0 L184.6,157.8 L186.0,163.7 L188.0,169.5" fill="none" stroke="#000" stroke-width="1.2" stroke-linejoin="round"/>
<path d="M113.8,34.8 L113.8,33.0 L114.6,30.8 L118.1,30.4 L123.4,30.4 L126.0,30.8 L129.5,30.4 L132.2,29.1 L135.2,28.2 L136.1,30.0 L138.3,30.8 L140.9,28.6 L140.9,26.9 L141.8,26.0" fill="none" stroke="#000" stroke-width="1.05" stroke-linejoin="round"/>
<path d="M141.8,26.0 L140.9,24.3 L139.6,20.8 L137.4,18.1 L136.1,14.6 L133.0,13.8 L130.8,12.0" fill="none" stroke="#000" stroke-width="1.05" stroke-linejoin="round"/>
<path d="M141.8,26.0 L142.7,26.0 L147.0,25.1 L154.0,26.0 L157.6,28.2 L161.1,28.6 L164.2,27.8 L166.3,32.0 L170.5,38.3 L175.8,42.5 L178.6,43.6" fill="none" stroke="#000" stroke-width="1.05" stroke-linejoin="round"/>
<path d="M178.6,43.6 L181.0,40.4 L185.2,37.2 L185.8,33.0 L183.6,27.8 L185.2,22.5 L188.4,22.0 L189.4,24.6 L195.7,25.1 L196.3,28.8 L193.6,32.0 L191.5,34.6 L195.7,34.1 L199.9,30.9 L205.2,30.9 L208.3,31.4 L207.8,26.7 L208.3,23.6 L211.5,21.5 L213.6,19.4 L211.5,17.3 L206.2,16.2 L203.6,14.1 L204.1,12.0" fill="none" stroke="#000" stroke-width="1.05" stroke-linejoin="round"/>
<path d="M178.6,43.6 L179.3,45.8 L177.8,48.0 L175.7,50.2 L176.0,53.1 L176.4,56.8 L173.5,58.2 L172.7,61.2 L175.7,61.9 L178.6,61.5 L174.2,63.4 L171.3,66.3 L173.5,69.2 L171.3,72.1 L168.4,71.4 L168.4,75.0 L164.7,76.5 L161.8,76.5" fill="none" stroke="#000" stroke-width="1.05" stroke-linejoin="round"/>
<path d="M176.4,56.8 L179.2,56.7 L180.8,59.6 L187.5,61.7 L189.1,63.3 L197.5,63.3 L200.0,67.1 L203.3,66.2 L206.6,61.7 L209.9,60.0 L214.1,59.6 L214.9,62.5 L219.1,63.3 L224.9,61.2 L226.6,62.5 L231.5,62.5" fill="none" stroke="#000" stroke-width="1.05" stroke-linejoin="round"/>
<path d="M231.5,32.5 L230.4,32.0 L227.3,30.9 L224.1,27.8 L223.1,23.6 L224.1,18.3 L227.3,15.2 L229.5,13.5" fill="none" stroke="#000" stroke-width="1.05" stroke-linejoin="round"/>
<path d="M228.3,18.3 L229.9,25.7" fill="none" stroke="#000" stroke-width="1.05" stroke-linejoin="round"/>
<path d="M231.5,82.0 L225.8,81.6 L224.1,85.0 L220.3,87.0 L218.3,90.8 L219.1,93.3 L214.9,98.3 L212.4,97.4 L209.1,100.8 L207.9,104.1 L205.1,105.0 L202.2,107.0 L201.2,109.4 L194.3,108.9 L193.9,111.8 L189.5,113.8 L185.5,114.8 L182.6,117.2 L178.2,119.2 L179.7,122.6 L178.7,124.6 L177.2,128.0 L173.3,128.0 L170.9,127.0" fill="none" stroke="#000" stroke-width="1.05" stroke-linejoin="round"/>
<path d="M177.2,128.0 L178.0,134.3 L176.7,137.3" fill="none" stroke="#000" stroke-width="1.05" stroke-linejoin="round"/>
<path d="M214.9,98.3 L215.8,101.6 L215.4,106.6 L214.4,109.9 L213.9,114.8 L213.4,119.7 L214.9,122.1 L214.9,125.5 L210.5,125.5 L210.0,130.4 L210.5,134.3 L206.6,136.3 L207.1,141.2 L209.0,144.1 L209.5,148.0 L213.9,149.0 L219.8,149.0 L223.7,152.9 L226.6,155.9 L227.6,158.8 L223.7,161.7 L219.8,161.2 L216.8,163.7 L215.4,169.5" fill="none" stroke="#000" stroke-width="1.05" stroke-linejoin="round"/>
<path d="M214.9,125.5 L219.8,126.5 L225.6,124.1 L231.5,124.1" fill="none" stroke="#000" stroke-width="1.05" stroke-linejoin="round"/>
<path d="M227.6,158.8 L231.5,157.8" fill="none" stroke="#000" stroke-width="1.05" stroke-linejoin="round"/>
<path d="M184.6,160.8 L188.5,163.7 L191.4,169.5" fill="none" stroke="#000" stroke-width="1.05" stroke-linejoin="round"/>
<path d="M209.5,146.0 L213.0,144.5 L214.5,147.0 L212.0,149.5 L209.5,148.5 L209.5,146.0" fill="none" stroke="#000" stroke-width="1.05" stroke-linejoin="round"/>
<path d="M153.0,53.1 L162.5,53.5" fill="none" stroke="#000" stroke-width="1.05" stroke-linejoin="round"/>
<path d="M156.3,52.4 L156.7,59.7" fill="none" stroke="#000" stroke-width="1.05" stroke-linejoin="round"/>
<path d="M158.9,61.2 L164.7,59.3" fill="none" stroke="#000" stroke-width="1.05" stroke-linejoin="round"/>
<path d="M159.6,56.1 L160.7,54.2" fill="none" stroke="#000" stroke-width="1.05" stroke-linejoin="round"/>
<path d="M108.0,34.8 L109.5,33.8 L111.8,34.0 L113.6,34.8 L113.2,36.2 L111.5,37.3 L109.5,36.8 L108.2,35.9Z" fill="#000"/>
<path d="M152.0,56.5 L154.5,56.0 L155.3,58.0 L154.0,59.4 L152.2,58.8Z" fill="#000"/>
<path d="M163.3,75.6 L165.8,75.5 L166.3,77.2 L164.5,78.0 L163.2,77.3Z" fill="#000"/>
</g></g>
<rect x="39.25" y="389.6" width="191.30" height="157.60" fill="none" stroke="#111" stroke-width="1"/>
<g clip-path="url(#clipG)">
<g transform="translate(39.250,578.600) scale(0.99454,1.00351) translate(-38.450,-12.450)">
<rect x="34.5" y="8.4" width="202.0" height="166.0" fill="#f7fcf5"/>
<path d="M38.3,8.4 236.4,8.4 236.4,174.4 34.5,174.4 34.5,19.2 36.3,12.4 38.3,8.4Z" fill="#f5fbf2" fill-rule="evenodd"/>
<path d="M48.4,8.4 236.4,8.4 236.4,174.4 34.5,174.4 34.5,36.8 36.5,35.0 38.5,31.8 43.9,16.4 48.4,8.4Z" fill="#f0f9ec" fill-rule="evenodd"/>
<path d="M58.1,8.4 236.4,8.4 236.4,174.4 34.5,174.4 34.5,42.5 38.5,39.9 41.6,36.5 50.5,20.0 58.1,8.4Z" fill="#ebf7e7" fill-rule="evenodd"/>
<path d="M65.6,10.4 66.8,8.4 236.4,8.4 236.4,174.4 34.5,174.4 34.5,47.0 40.5,43.0 44.5,39.0 54.5,24.7 63.0,14.4 65.6,10.4Z" fill="#e6f5e1" fill-rule="evenodd"/>
<path d="M74.4,8.4 236.4,8.4 236.4,174.4 34.5,174.4 34.5,51.2 40.5,47.3 44.5,44.0 58.5,27.6 68.7,18.4 71.7,14.4 74.4,8.4Z" fill="#def2d9" fill-rule="evenodd"/>
<path d="M81.8,8.4 236.4,8.4 236.4,174.4 34.5,174.4 34.5,55.4 40.5,51.5 46.8,46.5 57.8,34.5 62.5,30.0 68.5,25.7 77.4,20.4 78.7,18.4 80.0,12.4 81.8,8.4Z" fill="#d6efd0" fill-rule="evenodd"/>
<path d="M89.6,8.4 236.4,8.4 236.4,174.4 34.5,174.4 34.5,59.8 48.5,49.5 61.4,36.5 66.5,32.1 72.4,28.3 80.5,24.6 83.1,22.4 85.6,18.4 89.6,8.4Z" fill="#cdecc7" fill-rule="evenodd"/>
<path d="M98.1,8.4 236.4,8.4 236.4,174.4 34.5,174.4 34.5,64.6 42.5,58.8 52.7,50.5 69.5,34.5 74.5,31.2 84.0,26.4 89.2,22.4 92.7,18.4 96.5,10.5 98.1,8.4Z" fill="#c4e8bd" fill-rule="evenodd"/>
<path d="M114.3,10.4 117.1,8.4 236.4,8.4 236.4,174.4 34.5,174.4 34.5,69.5 40.5,65.3 56.5,52.4 70.5,38.4 74.5,35.2 78.5,32.7 92.5,25.7 99.9,22.4 114.3,10.4Z" fill="#bae3b3" fill-rule="evenodd"/>
<path d="M129.9,10.4 132.4,9.1 134.4,8.7 140.4,8.8 142.3,8.4 236.4,8.4 236.4,174.4 34.5,174.4 34.5,74.5 42.5,69.1 62.5,53.1 67.2,48.5 74.0,40.5 78.5,36.4 92.5,29.9 106.5,25.8 114.8,22.4 121.4,18.4 129.9,10.4ZM50.5,137.7 49.0,138.4 48.8,140.4 50.5,141.5 52.5,140.9 52.8,140.4 52.8,138.4 50.5,137.7Z" fill="#b0dfaa" fill-rule="evenodd"/>
<path d="M147.8,10.4 150.2,8.4 236.4,8.4 236.4,121.6 232.4,124.3 231.0,126.5 230.1,128.4 229.8,132.4 230.6,136.4 232.4,140.4 236.4,145.9 236.4,174.4 34.5,174.4 34.5,157.6 46.5,157.5 52.5,155.8 56.5,153.9 61.4,150.4 64.5,147.1 65.9,144.4 66.4,140.4 65.8,138.4 62.6,134.4 58.5,131.3 54.5,129.2 50.4,127.9 44.5,126.9 34.5,127.2 34.5,79.2 42.6,74.5 66.5,56.3 72.3,50.5 78.5,42.0 82.4,38.5 96.5,32.3 110.5,29.4 124.5,21.8 135.5,18.4 142.4,14.9 147.8,10.4ZM104.4,138.2 104.5,138.6 104.4,138.2Z" fill="#a5db9f" fill-rule="evenodd"/>
<path d="M152.0,10.4 154.4,8.4 231.1,8.4 236.4,12.4 236.4,115.1 230.4,117.8 226.4,121.7 224.4,126.5 223.7,132.4 224.8,138.4 228.4,146.0 232.4,151.4 236.4,154.7 236.4,174.4 47.2,174.4 58.5,166.1 68.5,156.6 71.8,152.4 74.0,148.4 75.1,144.4 75.2,142.4 74.2,138.4 71.6,134.4 66.9,130.4 62.5,127.4 56.5,124.0 50.5,121.5 40.5,118.2 34.5,116.9 34.5,83.7 41.0,80.5 47.6,76.5 60.5,66.7 74.5,57.5 77.6,54.5 83.7,44.5 88.4,40.5 94.5,37.2 98.5,35.7 106.5,34.8 110.5,33.8 124.5,24.6 128.4,23.2 134.4,22.3 143.8,18.4 146.4,16.6 152.0,10.4ZM102.5,132.2 100.4,132.9 98.4,134.4 97.1,136.4 96.4,140.4 96.9,142.4 98.5,144.5 100.5,145.5 104.5,145.8 106.4,145.1 108.4,143.7 110.5,140.5 110.7,138.4 110.3,136.4 108.5,133.8 106.5,132.5 102.5,132.2Z" fill="#99d595" fill-rule="evenodd"/>
<path d="M155.3,10.4 157.5,8.4 226.0,8.4 236.4,17.1 236.4,110.4 228.4,113.9 225.2,116.5 223.4,118.5 222.2,120.5 220.9,124.5 219.9,132.4 220.6,138.4 226.4,151.6 230.4,156.9 236.4,161.1 236.4,174.4 68.4,174.4 73.0,168.4 80.5,156.9 84.4,152.5 86.5,151.1 90.5,150.3 98.5,151.2 102.5,151.1 106.4,150.1 110.5,147.6 113.0,144.4 114.4,140.4 114.2,136.4 113.4,134.4 112.0,132.4 108.5,129.7 104.5,128.4 100.5,128.6 95.9,130.4 93.4,132.4 88.5,138.8 86.5,139.2 84.4,138.3 72.5,128.4 58.5,119.2 50.5,115.5 34.5,110.0 34.5,88.6 50.4,80.5 64.5,70.2 80.5,61.5 83.5,58.5 88.0,50.5 90.5,47.0 96.0,42.5 100.5,40.5 106.5,40.0 110.5,38.7 114.4,35.6 121.7,28.4 126.5,25.8 136.4,23.3 146.4,19.8 148.4,18.2 152.4,13.2 155.3,10.4Z" fill="#8dd08a" fill-rule="evenodd"/>
<path d="M157.9,10.4 160.2,8.4 221.3,8.4 228.6,14.4 236.4,23.0 236.4,106.3 230.4,108.7 226.4,111.0 222.4,114.3 220.7,116.5 218.2,122.5 217.1,134.4 218.4,141.2 224.5,156.4 226.4,159.5 228.4,161.4 236.4,167.2 236.4,174.4 84.7,174.5 90.4,164.4 94.4,160.4 98.5,158.1 104.5,156.4 108.5,154.6 112.5,151.5 114.5,149.1 117.1,144.4 118.1,140.4 117.9,136.4 116.3,132.4 114.4,130.2 110.4,127.1 104.5,124.9 98.4,124.9 86.5,128.0 84.5,127.9 80.5,126.8 72.5,122.6 62.5,115.1 56.5,111.3 50.5,108.8 38.5,104.9 36.5,103.6 34.5,101.1 34.5,96.1 35.5,94.5 37.7,92.5 54.5,84.9 68.5,74.4 80.5,69.6 86.5,66.2 90.4,62.5 94.7,56.5 98.5,52.4 101.7,50.5 108.5,48.1 110.5,46.3 120.1,32.5 124.5,28.6 128.4,26.7 144.5,22.6 148.4,20.8 153.8,14.4 157.9,10.4Z" fill="#80ca80" fill-rule="evenodd"/>
<path d="M160.2,10.4 162.5,8.4 217.0,8.4 222.3,12.4 228.1,18.4 231.0,22.4 236.5,32.1 236.4,102.6 230.4,104.9 226.4,107.1 222.4,110.2 218.7,114.5 216.0,120.5 215.3,124.5 214.9,132.4 214.9,136.4 215.8,140.4 222.4,161.2 224.6,164.4 232.0,170.4 235.2,174.4 102.2,174.4 117.1,152.4 120.4,146.4 121.7,142.4 122.1,138.4 121.6,134.4 120.8,132.4 118.5,129.3 115.2,126.5 110.5,123.5 106.5,121.7 100.5,120.5 84.5,120.5 76.5,118.2 73.8,116.5 71.8,114.5 60.7,100.5 60.0,98.5 60.1,96.5 60.9,94.5 65.8,88.5 70.0,84.5 72.5,82.7 76.5,81.2 86.5,78.8 100.5,73.6 110.5,72.4 114.5,71.0 116.5,68.8 118.5,64.7 120.2,58.5 119.6,56.5 116.2,50.5 115.6,48.5 115.8,44.5 117.3,40.5 122.2,32.5 124.5,30.3 128.4,28.1 142.9,24.4 148.7,22.4 150.4,21.1 155.8,14.4 160.2,10.4ZM138.4,113.0 136.8,114.5 135.9,116.5 135.6,120.5 136.4,122.9 138.4,124.5 140.4,124.4 142.4,123.1 143.9,120.5 144.2,118.5 143.9,116.5 142.4,113.9 140.4,112.8 138.4,113.0Z" fill="#73c476" fill-rule="evenodd"/>
<path d="M162.2,10.4 164.7,8.4 212.8,8.4 218.5,12.4 224.2,18.4 227.5,24.4 230.4,36.5 232.5,38.9 236.4,41.1 236.4,98.9 226.4,103.4 220.4,108.3 217.1,112.5 214.9,116.5 213.6,120.5 213.1,124.5 212.9,132.4 213.3,138.4 216.8,152.4 218.9,164.4 220.4,169.2 224.3,174.4 118.8,174.4 119.8,170.4 119.3,162.4 119.7,158.4 124.3,148.4 125.6,144.4 127.3,134.4 126.9,130.4 125.0,128.4 114.5,121.8 106.5,117.2 96.6,112.5 94.4,110.5 93.6,108.5 93.9,106.5 94.9,104.5 99.3,98.5 102.4,90.5 104.5,87.3 108.5,83.7 116.5,80.0 118.4,78.5 119.7,76.5 120.3,74.5 121.9,58.5 121.6,56.5 118.3,48.5 118.2,44.5 119.3,40.5 122.4,34.5 124.5,32.0 128.4,29.4 146.4,24.7 150.4,22.8 156.4,15.6 162.2,10.4ZM136.4,109.9 134.4,112.3 133.6,114.5 131.5,126.5 132.5,128.4 134.4,129.5 138.4,129.9 140.4,129.4 142.4,128.2 144.4,126.0 146.0,122.5 146.5,118.5 145.6,114.5 144.4,112.2 142.4,110.2 140.4,109.2 138.4,109.1 136.4,109.9Z" fill="#66bd6f" fill-rule="evenodd"/>
<path d="M164.2,10.4 167.1,8.4 208.6,8.4 210.4,9.4 215.0,12.4 218.4,15.5 220.9,18.4 223.0,22.4 224.2,28.4 223.3,38.5 223.5,40.5 224.4,43.1 225.8,44.5 228.4,45.6 236.4,47.3 236.4,95.1 226.4,99.7 220.4,104.4 214.4,112.5 212.5,116.5 211.4,120.5 211.0,126.5 211.3,134.4 214.9,156.4 215.0,160.4 214.3,168.4 214.4,171.0 215.5,174.4 127.3,174.4 127.6,170.4 126.9,158.4 127.8,154.4 132.3,140.4 134.4,137.2 140.4,134.9 142.4,133.6 144.4,131.7 146.4,128.5 147.9,124.5 148.4,120.5 147.7,114.5 145.9,110.5 142.4,106.5 140.4,105.3 138.4,104.9 136.4,105.2 134.4,106.3 132.4,108.5 130.8,112.5 130.1,116.5 128.4,119.7 126.5,121.0 124.5,121.3 120.5,120.3 113.6,116.5 109.1,112.5 106.6,108.5 106.1,106.5 106.3,102.5 107.3,98.5 109.0,94.5 112.5,90.4 122.5,84.2 124.7,80.5 124.8,76.5 123.1,68.5 122.9,56.5 120.7,50.5 119.9,46.5 120.3,42.5 122.7,36.5 125.8,32.5 129.0,30.4 132.4,29.2 144.5,26.4 150.4,24.1 152.3,22.4 157.3,16.4 164.2,10.4Z" fill="#58b668" fill-rule="evenodd"/>
<path d="M166.3,10.4 169.8,8.4 203.6,8.4 210.4,11.6 214.3,14.4 217.9,18.4 219.2,20.4 220.6,24.4 220.5,30.4 218.1,38.5 217.6,42.5 217.7,48.5 218.4,52.7 220.4,53.8 230.4,52.1 236.4,52.8 236.4,91.3 226.4,95.9 220.4,100.3 214.4,108.2 211.1,114.5 209.8,118.5 209.1,124.5 209.3,130.4 212.4,156.4 211.8,162.4 210.2,168.4 210.4,174.4 134.1,174.4 133.9,158.4 134.6,154.4 136.5,148.4 138.4,144.7 144.4,138.1 146.4,135.2 148.4,131.0 149.7,126.5 150.2,122.5 149.9,116.5 149.0,112.5 147.1,108.5 144.4,104.5 140.4,100.7 138.4,99.6 136.4,99.3 134.4,99.9 132.4,101.1 128.9,104.5 124.4,111.8 122.5,112.8 120.5,112.6 118.4,111.6 116.5,109.8 114.4,106.5 113.8,102.5 114.5,98.5 116.5,96.0 126.4,89.7 128.4,86.9 129.1,84.5 129.0,80.5 125.1,68.5 123.8,56.5 121.4,46.5 121.8,42.5 124.0,36.5 126.4,33.4 130.4,31.0 146.4,27.0 150.4,25.2 153.6,22.4 158.8,16.4 166.3,10.4Z" fill="#4aaf61" fill-rule="evenodd"/>
<path d="M168.7,10.4 173.2,8.4 198.1,8.4 206.4,11.4 210.4,13.8 213.5,16.4 216.5,20.4 217.4,22.4 218.1,26.4 217.6,30.4 214.4,40.4 212.4,52.5 212.2,56.5 212.6,58.5 214.4,61.1 216.4,62.0 218.4,62.2 222.4,61.1 230.4,57.6 232.4,57.5 236.4,58.5 236.4,87.0 224.4,92.9 218.4,97.9 212.4,107.4 208.3,116.5 207.5,120.5 207.2,126.5 210.1,156.4 209.5,160.4 207.3,168.4 206.8,174.4 140.2,174.4 140.5,160.4 141.2,154.4 143.1,148.4 148.4,138.8 150.4,133.6 152.0,124.5 151.6,116.5 150.1,110.5 146.4,103.1 142.4,97.5 136.2,90.5 132.6,80.5 126.9,68.5 125.8,64.5 124.7,56.5 122.9,48.5 123.1,42.5 125.3,36.5 128.4,33.2 132.4,31.4 144.4,28.6 150.4,26.4 153.0,24.4 160.4,16.2 164.4,13.0 168.7,10.4Z" fill="#3ea75a" fill-rule="evenodd"/>
<path d="M171.6,10.4 178.5,8.4 191.0,8.4 196.4,9.6 204.4,12.4 210.4,16.1 214.1,20.4 215.0,22.4 215.6,26.4 215.1,30.4 212.3,38.5 208.8,54.5 209.0,60.5 210.4,64.5 212.4,66.8 214.4,67.9 216.4,68.3 220.4,67.9 230.4,64.7 234.4,65.2 236.4,66.4 236.4,81.4 232.4,84.3 222.4,89.2 218.4,92.7 214.4,98.5 208.4,111.0 206.4,116.5 205.6,120.5 205.3,126.5 206.8,138.4 207.8,154.4 207.4,158.4 204.6,168.4 203.7,174.4 145.4,174.4 145.8,160.4 146.4,154.4 147.9,148.4 152.4,136.6 153.6,130.4 153.8,122.5 152.9,114.5 151.3,108.5 148.4,102.3 139.9,88.5 136.0,80.5 130.4,71.9 127.7,66.5 126.4,62.0 124.1,48.5 124.3,42.5 125.5,38.5 126.6,36.5 128.5,34.5 132.5,32.5 144.4,29.7 150.4,27.4 154.4,24.4 159.5,18.4 162.4,15.8 166.4,13.0 171.6,10.4Z" fill="#359e53" fill-rule="evenodd"/>
<path d="M175.6,10.4 180.4,9.6 184.4,9.5 194.4,10.7 204.4,14.1 208.2,16.4 210.3,18.4 212.7,22.4 213.4,26.4 212.9,30.4 208.4,44.5 206.0,54.5 205.5,62.5 206.7,68.5 208.4,71.7 210.4,73.8 216.4,77.0 220.4,77.7 222.4,77.4 223.4,76.5 228.4,74.3 230.4,75.0 231.1,76.5 230.4,77.6 228.4,78.8 222.4,79.4 220.4,80.9 218.4,83.5 214.4,91.6 205.1,114.5 203.6,120.5 203.3,126.5 205.0,138.4 205.5,154.4 204.9,158.4 200.8,174.4 149.7,174.4 149.8,160.4 150.3,154.4 151.6,148.4 154.7,138.4 155.6,132.4 155.7,124.5 154.6,114.5 152.4,106.5 148.4,97.7 139.1,80.5 131.6,70.5 128.4,64.8 127.1,60.5 125.5,50.5 125.2,46.5 125.5,42.5 126.7,38.5 128.0,36.5 130.4,34.5 134.4,33.0 146.4,30.1 150.4,28.5 154.4,25.6 160.4,18.8 164.4,15.5 170.4,12.2 175.6,10.4Z" fill="#2e964d" fill-rule="evenodd"/>
<path d="M173.3,12.4 178.4,11.2 184.4,11.0 190.4,11.4 196.4,12.7 202.4,14.9 206.4,17.2 209.5,20.4 211.2,24.4 210.8,30.4 204.2,50.5 202.1,62.5 201.9,68.5 202.5,72.5 204.3,76.5 209.2,82.5 210.2,84.5 210.8,86.5 210.9,90.5 208.7,100.5 203.7,112.5 201.6,120.5 201.2,126.5 203.0,138.4 203.1,154.4 202.0,160.4 197.8,174.4 153.3,174.4 153.3,156.4 154.3,150.4 157.4,138.4 157.8,134.4 157.5,124.5 155.5,110.5 152.0,100.5 142.9,82.5 140.4,78.1 134.4,71.5 130.4,66.1 128.4,61.8 127.2,56.5 126.4,48.5 126.4,44.5 127.2,40.5 127.9,38.5 129.5,36.5 133.1,34.5 144.4,31.8 150.4,29.6 155.0,26.4 160.4,20.1 164.4,16.7 168.4,14.4 173.3,12.4Z" fill="#258d47" fill-rule="evenodd"/>
<path d="M179.9,12.4 190.4,12.9 200.4,15.6 204.4,17.6 206.4,19.4 208.5,22.4 209.2,24.4 209.4,26.4 208.9,30.4 201.2,52.5 198.6,64.5 197.8,70.5 198.0,74.5 198.7,76.5 206.1,86.5 207.0,88.5 207.7,92.5 207.4,96.5 206.5,100.5 201.5,112.5 199.0,122.5 198.9,128.4 200.8,142.4 201.0,150.4 200.5,156.4 198.9,162.4 194.7,174.4 156.6,174.4 156.0,164.4 156.3,156.4 159.9,138.4 160.1,134.4 159.4,124.5 157.3,110.5 155.6,104.5 153.3,98.5 144.4,80.5 141.7,76.5 132.4,66.7 129.9,62.5 128.1,56.5 127.6,44.5 128.4,40.3 129.3,38.5 131.4,36.5 136.4,34.6 146.4,32.2 150.4,30.7 154.4,28.2 162.4,19.4 166.4,16.6 172.4,14.0 179.9,12.4Z" fill="#1c8540" fill-rule="evenodd"/>
<path d="M175.4,14.4 180.4,13.8 186.4,14.0 192.5,14.7 198.8,16.4 202.4,18.1 205.2,20.4 206.5,22.4 207.5,26.4 206.4,32.5 198.5,52.5 193.7,72.5 193.8,76.5 194.6,78.5 201.7,86.5 204.2,90.5 204.8,92.5 205.1,96.5 204.4,100.5 199.0,112.5 196.7,120.5 196.2,128.4 198.2,144.4 198.2,154.4 196.4,161.9 191.3,174.4 159.9,174.4 158.9,166.4 158.9,158.4 162.0,140.4 162.4,134.4 161.4,124.5 158.2,106.5 152.9,92.5 146.8,80.5 142.5,74.5 136.4,68.9 132.4,64.5 130.1,60.5 129.0,56.5 128.8,44.5 129.8,40.5 131.0,38.5 134.4,36.4 146.4,33.4 152.4,30.8 156.4,27.7 162.4,20.7 164.4,19.0 168.4,16.8 175.4,14.4Z" fill="#127c39" fill-rule="evenodd"/>
<path d="M172.6,16.4 178.4,15.3 182.4,15.1 190.4,15.9 196.4,17.2 200.4,18.7 203.0,20.4 204.5,22.4 205.6,26.4 204.4,32.5 198.0,46.5 195.8,52.5 191.2,68.5 190.0,74.5 190.3,78.5 191.4,80.5 200.4,90.2 202.4,94.4 202.7,96.5 202.0,100.5 196.1,112.5 193.5,120.5 193.0,124.5 193.1,130.4 195.4,146.4 195.4,154.4 194.7,158.4 193.2,162.4 187.3,174.4 163.4,174.4 162.0,168.4 161.7,160.4 164.4,140.4 164.6,132.4 161.1,110.5 159.7,104.5 154.4,90.5 148.0,78.5 143.2,72.5 134.2,64.5 131.3,60.5 129.9,56.5 130.1,44.5 130.6,42.5 132.4,39.2 136.4,37.2 146.4,34.5 152.4,32.0 157.2,28.4 164.4,20.2 168.4,18.0 172.6,16.4Z" fill="#087432" fill-rule="evenodd"/>
<path d="M170.4,18.4 176.4,16.9 180.4,16.5 186.4,16.9 194.4,18.3 200.4,20.5 202.4,22.4 203.6,26.4 202.3,32.5 196.1,44.5 193.6,50.5 188.7,66.5 187.4,72.5 187.1,76.5 188.4,81.7 191.7,86.5 198.4,93.4 199.8,96.5 199.7,98.5 198.4,101.6 191.3,114.5 189.5,120.5 189.3,126.5 189.9,136.4 192.2,148.4 191.9,156.4 190.6,160.4 188.4,165.1 184.4,171.7 182.1,174.4 167.9,174.4 166.4,172.2 165.3,168.4 164.8,162.4 165.1,156.4 167.0,142.4 167.1,132.4 162.9,108.5 161.3,102.5 156.0,88.5 150.7,78.5 146.1,72.5 134.4,62.7 131.6,58.5 130.9,54.5 131.6,44.5 132.4,42.1 133.6,40.5 136.9,38.5 148.4,35.1 154.4,32.1 158.4,28.8 164.4,21.5 170.4,18.4Z" fill="#006b2b" fill-rule="evenodd"/>
<path d="M175.7,18.4 180.4,18.0 184.4,18.3 195.8,20.4 199.9,22.4 201.1,24.4 201.4,26.4 201.2,28.4 199.9,32.5 192.9,44.5 191.1,48.5 186.2,64.5 184.6,72.5 184.7,78.5 186.2,84.5 188.4,88.7 194.2,96.5 194.5,98.5 193.0,102.5 186.3,114.5 184.8,118.5 184.7,124.5 185.2,132.4 188.0,148.4 188.1,154.4 186.3,160.4 182.4,166.8 178.4,170.6 174.4,171.8 172.4,171.4 170.4,169.9 169.1,166.4 168.7,160.4 170.1,144.4 170.1,130.4 169.4,126.5 166.9,118.4 165.0,106.5 161.9,96.5 157.8,86.5 152.3,76.5 147.2,70.5 138.4,64.2 134.5,60.5 132.4,56.5 132.1,52.5 132.4,48.0 133.3,44.5 134.4,42.3 136.4,40.5 148.4,36.4 154.4,33.5 158.6,30.4 165.1,22.4 168.7,20.4 175.7,18.4Z" fill="#006027" fill-rule="evenodd"/>
<path d="M173.6,20.4 180.4,19.6 188.4,20.8 194.4,22.4 196.4,23.4 197.8,24.4 198.5,26.4 198.4,28.4 196.9,32.5 190.1,42.5 188.1,46.5 183.0,64.5 182.0,70.5 181.9,78.5 182.7,84.5 184.8,94.5 185.2,102.5 184.0,106.5 179.7,116.5 178.4,120.9 176.4,124.7 174.4,124.0 170.4,118.6 168.9,108.5 167.2,102.5 161.8,88.5 155.6,76.5 150.4,69.9 136.7,60.5 134.4,57.4 133.7,54.5 133.8,50.5 134.4,46.6 135.4,44.5 137.1,42.5 140.7,40.5 150.4,37.1 156.4,33.9 160.7,30.4 166.4,23.3 168.4,22.1 173.6,20.4ZM176.2,134.4 176.4,133.8 178.5,134.5 179.1,136.4 181.2,150.4 180.5,156.4 178.4,158.8 176.4,158.4 175.9,156.4 176.1,144.4 175.3,138.4 176.2,134.4Z" fill="#005522" fill-rule="evenodd"/>
<path d="M172.9,22.4 180.4,21.5 185.7,22.4 191.2,24.4 192.4,25.3 193.7,26.4 194.3,28.4 193.8,30.4 192.4,32.9 186.1,40.5 184.1,44.5 182.8,48.5 179.0,66.5 178.9,80.5 177.9,94.5 176.4,99.7 174.4,101.2 172.4,100.4 170.4,98.1 164.9,86.5 155.8,70.5 151.6,66.5 142.4,62.0 138.4,59.4 136.2,56.5 135.5,52.5 136.4,47.2 138.4,44.2 141.1,42.5 150.4,38.8 158.8,34.5 162.4,31.3 166.4,25.8 168.0,24.4 172.9,22.4Z" fill="#00491d" fill-rule="evenodd"/>
<path d="M174.9,24.4 178.4,24.0 182.4,24.5 186.0,26.4 187.5,28.4 187.4,30.4 186.2,32.5 179.2,40.5 177.4,44.5 173.9,64.5 174.7,78.5 172.4,82.3 170.4,82.6 168.4,81.2 166.4,78.7 161.1,68.5 158.1,64.5 154.4,61.8 146.4,60.3 141.5,58.5 139.2,56.5 138.2,54.5 137.9,52.5 138.7,48.5 140.4,46.0 142.6,44.5 150.4,41.1 162.4,35.2 165.4,32.5 167.9,28.4 169.9,26.4 174.9,24.4Z" fill="#00441b" fill-rule="evenodd"/>
</g>
<clipPath id="stg"><path d="M72.2,601.7 L113.4,601.7 L120.4,596.7 L134.3,598.7 L160.1,598.7 L169.1,583.6 L207.9,583.6 L207.9,613.7 L190.6,613.7 L190.6,625.8 L185.0,625.8 L185.0,634.8 L230.7,634.8 L230.7,679.0 L223.8,679.0 L212.8,689.0 L207.5,704.0 L207.5,737.7 L37.8,737.7 L37.8,644.8 L44.4,641.8 L49.9,635.3 L58.3,631.3 L62.5,613.7 L66.6,607.7ZM44.8,695.0 L58.3,695.0 L58.3,701.5 L88.5,701.5 L88.5,723.1 L55.2,723.1 L55.2,730.1 L58.2,730.1 L58.2,738.2 L37.8,738.2 L37.8,723.1 L44.8,723.1 L44.8,718.1 L37.8,718.1 L37.8,701.5 L44.8,701.5ZM103.4,702.5 L122.3,702.5 L122.3,707.0 L125.3,707.0 L125.3,712.1 L128.3,712.1 L128.3,718.1 L125.3,718.1 L125.3,723.1 L100.5,723.1 L100.5,718.1 L97.5,718.1 L97.5,712.1 L100.5,712.1 L100.5,707.0 L103.4,707.0ZM134.3,682.0 L148.2,682.0 L148.2,696.0 L134.3,696.0Z" clip-rule="evenodd"/></clipPath>
<g clip-path="url(#stg)"><path d="M39.62 580.80h0M45.22 580.80h0M50.82 580.80h0M56.42 580.80h0M62.02 580.80h0M67.62 580.80h0M73.22 580.80h0M78.82 580.80h0M84.42 580.80h0M90.02 580.80h0M95.62 580.80h0M101.22 580.80h0M106.82 580.80h0M112.42 580.80h0M118.02 580.80h0M123.62 580.80h0M129.22 580.80h0M134.82 580.80h0M140.42 580.80h0M146.02 580.80h0M151.62 580.80h0M157.22 580.80h0M162.82 580.80h0M168.42 580.80h0M174.02 580.80h0M179.62 580.80h0M185.22 580.80h0M190.82 580.80h0M196.42 580.80h0M202.02 580.80h0M207.62 580.80h0M213.22 580.80h0M218.82 580.80h0M224.42 580.80h0M230.02 580.80h0M42.42 586.40h0M48.02 586.40h0M53.62 586.40h0M59.22 586.40h0M64.82 586.40h0M70.42 586.40h0M76.02 586.40h0M81.62 586.40h0M87.22 586.40h0M92.82 586.40h0M98.42 586.40h0M104.02 586.40h0M109.62 586.40h0M115.22 586.40h0M120.82 586.40h0M126.42 586.40h0M132.02 586.40h0M137.62 586.40h0M143.22 586.40h0M148.82 586.40h0M154.42 586.40h0M160.02 586.40h0M165.62 586.40h0M171.22 586.40h0M176.82 586.40h0M182.42 586.40h0M188.02 586.40h0M193.62 586.40h0M199.22 586.40h0M204.82 586.40h0M210.42 586.40h0M216.02 586.40h0M221.62 586.40h0M227.22 586.40h0M39.62 592.00h0M45.22 592.00h0M50.82 592.00h0M56.42 592.00h0M62.02 592.00h0M67.62 592.00h0M73.22 592.00h0M78.82 592.00h0M84.42 592.00h0M90.02 592.00h0M95.62 592.00h0M101.22 592.00h0M106.82 592.00h0M112.42 592.00h0M118.02 592.00h0M123.62 592.00h0M129.22 592.00h0M134.82 592.00h0M140.42 592.00h0M146.02 592.00h0M151.62 592.00h0M157.22 592.00h0M162.82 592.00h0M168.42 592.00h0M174.02 592.00h0M179.62 592.00h0M185.22 592.00h0M190.82 592.00h0M196.42 592.00h0M202.02 592.00h0M207.62 592.00h0M213.22 592.00h0M218.82 592.00h0M224.42 592.00h0M230.02 592.00h0M42.42 597.60h0M48.02 597.60h0M53.62 597.60h0M59.22 597.60h0M64.82 597.60h0M70.42 597.60h0M76.02 597.60h0M81.62 597.60h0M87.22 597.60h0M92.82 597.60h0M98.42 597.60h0M104.02 597.60h0M109.62 597.60h0M115.22 597.60h0M120.82 597.60h0M126.42 597.60h0M132.02 597.60h0M137.62 597.60h0M143.22 597.60h0M148.82 597.60h0M154.42 597.60h0M160.02 597.60h0M165.62 597.60h0M171.22 597.60h0M176.82 597.60h0M182.42 597.60h0M188.02 597.60h0M193.62 597.60h0M199.22 597.60h0M204.82 597.60h0M210.42 597.60h0M216.02 597.60h0M221.62 597.60h0M227.22 597.60h0M39.62 603.20h0M45.22 603.20h0M50.82 603.20h0M56.42 603.20h0M62.02 603.20h0M67.62 603.20h0M73.22 603.20h0M78.82 603.20h0M84.42 603.20h0M90.02 603.20h0M95.62 603.20h0M101.22 603.20h0M106.82 603.20h0M112.42 603.20h0M118.02 603.20h0M123.62 603.20h0M129.22 603.20h0M134.82 603.20h0M140.42 603.20h0M146.02 603.20h0M151.62 603.20h0M157.22 603.20h0M162.82 603.20h0M168.42 603.20h0M174.02 603.20h0M179.62 603.20h0M185.22 603.20h0M190.82 603.20h0M196.42 603.20h0M202.02 603.20h0M207.62 603.20h0M213.22 603.20h0M218.82 603.20h0M224.42 603.20h0M230.02 603.20h0M42.42 608.80h0M48.02 608.80h0M53.62 608.80h0M59.22 608.80h0M64.82 608.80h0M70.42 608.80h0M76.02 608.80h0M81.62 608.80h0M87.22 608.80h0M92.82 608.80h0M98.42 608.80h0M104.02 608.80h0M109.62 608.80h0M115.22 608.80h0M120.82 608.80h0M126.42 608.80h0M132.02 608.80h0M137.62 608.80h0M143.22 608.80h0M148.82 608.80h0M154.42 608.80h0M160.02 608.80h0M165.62 608.80h0M171.22 608.80h0M176.82 608.80h0M182.42 608.80h0M188.02 608.80h0M193.62 608.80h0M199.22 608.80h0M204.82 608.80h0M210.42 608.80h0M216.02 608.80h0M221.62 608.80h0M227.22 608.80h0M39.62 614.40h0M45.22 614.40h0M50.82 614.40h0M56.42 614.40h0M62.02 614.40h0M67.62 614.40h0M73.22 614.40h0M78.82 614.40h0M84.42 614.40h0M90.02 614.40h0M95.62 614.40h0M101.22 614.40h0M106.82 614.40h0M112.42 614.40h0M118.02 614.40h0M123.62 614.40h0M129.22 614.40h0M134.82 614.40h0M140.42 614.40h0M146.02 614.40h0M151.62 614.40h0M157.22 614.40h0M162.82 614.40h0M168.42 614.40h0M174.02 614.40h0M179.62 614.40h0M185.22 614.40h0M190.82 614.40h0M196.42 614.40h0M202.02 614.40h0M207.62 614.40h0M213.22 614.40h0M218.82 614.40h0M224.42 614.40h0M230.02 614.40h0M42.42 620.00h0M48.02 620.00h0M53.62 620.00h0M59.22 620.00h0M64.82 620.00h0M70.42 620.00h0M76.02 620.00h0M81.62 620.00h0M87.22 620.00h0M92.82 620.00h0M98.42 620.00h0M104.02 620.00h0M109.62 620.00h0M115.22 620.00h0M120.82 620.00h0M126.42 620.00h0M132.02 620.00h0M137.62 620.00h0M143.22 620.00h0M148.82 620.00h0M154.42 620.00h0M160.02 620.00h0M165.62 620.00h0M171.22 620.00h0M176.82 620.00h0M182.42 620.00h0M188.02 620.00h0M193.62 620.00h0M199.22 620.00h0M204.82 620.00h0M210.42 620.00h0M216.02 620.00h0M221.62 620.00h0M227.22 620.00h0M39.62 625.60h0M45.22 625.60h0M50.82 625.60h0M56.42 625.60h0M62.02 625.60h0M67.62 625.60h0M73.22 625.60h0M78.82 625.60h0M84.42 625.60h0M90.02 625.60h0M95.62 625.60h0M101.22 625.60h0M106.82 625.60h0M112.42 625.60h0M118.02 625.60h0M123.62 625.60h0M129.22 625.60h0M134.82 625.60h0M140.42 625.60h0M146.02 625.60h0M151.62 625.60h0M157.22 625.60h0M162.82 625.60h0M168.42 625.60h0M174.02 625.60h0M179.62 625.60h0M185.22 625.60h0M190.82 625.60h0M196.42 625.60h0M202.02 625.60h0M207.62 625.60h0M213.22 625.60h0M218.82 625.60h0M224.42 625.60h0M230.02 625.60h0M42.42 631.20h0M48.02 631.20h0M53.62 631.20h0M59.22 631.20h0M64.82 631.20h0M70.42 631.20h0M76.02 631.20h0M81.62 631.20h0M87.22 631.20h0M92.82 631.20h0M98.42 631.20h0M104.02 631.20h0M109.62 631.20h0M115.22 631.20h0M120.82 631.20h0M126.42 631.20h0M132.02 631.20h0M137.62 631.20h0M143.22 631.20h0M148.82 631.20h0M154.42 631.20h0M160.02 631.20h0M165.62 631.20h0M171.22 631.20h0M176.82 631.20h0M182.42 631.20h0M188.02 631.20h0M193.62 631.20h0M199.22 631.20h0M204.82 631.20h0M210.42 631.20h0M216.02 631.20h0M221.62 631.20h0M227.22 631.20h0M39.62 636.80h0M45.22 636.80h0M50.82 636.80h0M56.42 636.80h0M62.02 636.80h0M67.62 636.80h0M73.22 636.80h0M78.82 636.80h0M84.42 636.80h0M90.02 636.80h0M95.62 636.80h0M101.22 636.80h0M106.82 636.80h0M112.42 636.80h0M118.02 636.80h0M123.62 636.80h0M129.22 636.80h0M134.82 636.80h0M140.42 636.80h0M146.02 636.80h0M151.62 636.80h0M157.22 636.80h0M162.82 636.80h0M168.42 636.80h0M174.02 636.80h0M179.62 636.80h0M185.22 636.80h0M190.82 636.80h0M196.42 636.80h0M202.02 636.80h0M207.62 636.80h0M213.22 636.80h0M218.82 636.80h0M224.42 636.80h0M230.02 636.80h0M42.42 642.40h0M48.02 642.40h0M53.62 642.40h0M59.22 642.40h0M64.82 642.40h0M70.42 642.40h0M76.02 642.40h0M81.62 642.40h0M87.22 642.40h0M92.82 642.40h0M98.42 642.40h0M104.02 642.40h0M109.62 642.40h0M115.22 642.40h0M120.82 642.40h0M126.42 642.40h0M132.02 642.40h0M137.62 642.40h0M143.22 642.40h0M148.82 642.40h0M154.42 642.40h0M160.02 642.40h0M165.62 642.40h0M171.22 642.40h0M176.82 642.40h0M182.42 642.40h0M188.02 642.40h0M193.62 642.40h0M199.22 642.40h0M204.82 642.40h0M210.42 642.40h0M216.02 642.40h0M221.62 642.40h0M227.22 642.40h0M39.62 648.00h0M45.22 648.00h0M50.82 648.00h0M56.42 648.00h0M62.02 648.00h0M67.62 648.00h0M73.22 648.00h0M78.82 648.00h0M84.42 648.00h0M90.02 648.00h0M95.62 648.00h0M101.22 648.00h0M106.82 648.00h0M112.42 648.00h0M118.02 648.00h0M123.62 648.00h0M129.22 648.00h0M134.82 648.00h0M140.42 648.00h0M146.02 648.00h0M151.62 648.00h0M157.22 648.00h0M162.82 648.00h0M168.42 648.00h0M174.02 648.00h0M179.62 648.00h0M185.22 648.00h0M190.82 648.00h0M196.42 648.00h0M202.02 648.00h0M207.62 648.00h0M213.22 648.00h0M218.82 648.00h0M224.42 648.00h0M230.02 648.00h0M42.42 653.60h0M48.02 653.60h0M53.62 653.60h0M59.22 653.60h0M64.82 653.60h0M70.42 653.60h0M76.02 653.60h0M81.62 653.60h0M87.22 653.60h0M92.82 653.60h0M98.42 653.60h0M104.02 653.60h0M109.62 653.60h0M115.22 653.60h0M120.82 653.60h0M126.42 653.60h0M132.02 653.60h0M137.62 653.60h0M143.22 653.60h0M148.82 653.60h0M154.42 653.60h0M160.02 653.60h0M165.62 653.60h0M171.22 653.60h0M176.82 653.60h0M182.42 653.60h0M188.02 653.60h0M193.62 653.60h0M199.22 653.60h0M204.82 653.60h0M210.42 653.60h0M216.02 653.60h0M221.62 653.60h0M227.22 653.60h0M39.62 659.20h0M45.22 659.20h0M50.82 659.20h0M56.42 659.20h0M62.02 659.20h0M67.62 659.20h0M73.22 659.20h0M78.82 659.20h0M84.42 659.20h0M90.02 659.20h0M95.62 659.20h0M101.22 659.20h0M106.82 659.20h0M112.42 659.20h0M118.02 659.20h0M123.62 659.20h0M129.22 659.20h0M134.82 659.20h0M140.42 659.20h0M146.02 659.20h0M151.62 659.20h0M157.22 659.20h0M162.82 659.20h0M168.42 659.20h0M174.02 659.20h0M179.62 659.20h0M185.22 659.20h0M190.82 659.20h0M196.42 659.20h0M202.02 659.20h0M207.62 659.20h0M213.22 659.20h0M218.82 659.20h0M224.42 659.20h0M230.02 659.20h0M42.42 664.80h0M48.02 664.80h0M53.62 664.80h0M59.22 664.80h0M64.82 664.80h0M70.42 664.80h0M76.02 664.80h0M81.62 664.80h0M87.22 664.80h0M92.82 664.80h0M98.42 664.80h0M104.02 664.80h0M109.62 664.80h0M115.22 664.80h0M120.82 664.80h0M126.42 664.80h0M132.02 664.80h0M137.62 664.80h0M143.22 664.80h0M148.82 664.80h0M154.42 664.80h0M160.02 664.80h0M165.62 664.80h0M171.22 664.80h0M176.82 664.80h0M182.42 664.80h0M188.02 664.80h0M193.62 664.80h0M199.22 664.80h0M204.82 664.80h0M210.42 664.80h0M216.02 664.80h0M221.62 664.80h0M227.22 664.80h0M39.62 670.40h0M45.22 670.40h0M50.82 670.40h0M56.42 670.40h0M62.02 670.40h0M67.62 670.40h0M73.22 670.40h0M78.82 670.40h0M84.42 670.40h0M90.02 670.40h0M95.62 670.40h0M101.22 670.40h0M106.82 670.40h0M112.42 670.40h0M118.02 670.40h0M123.62 670.40h0M129.22 670.40h0M134.82 670.40h0M140.42 670.40h0M146.02 670.40h0M151.62 670.40h0M157.22 670.40h0M162.82 670.40h0M168.42 670.40h0M174.02 670.40h0M179.62 670.40h0M185.22 670.40h0M190.82 670.40h0M196.42 670.40h0M202.02 670.40h0M207.62 670.40h0M213.22 670.40h0M218.82 670.40h0M224.42 670.40h0M230.02 670.40h0M42.42 676.00h0M48.02 676.00h0M53.62 676.00h0M59.22 676.00h0M64.82 676.00h0M70.42 676.00h0M76.02 676.00h0M81.62 676.00h0M87.22 676.00h0M92.82 676.00h0M98.42 676.00h0M104.02 676.00h0M109.62 676.00h0M115.22 676.00h0M120.82 676.00h0M126.42 676.00h0M132.02 676.00h0M137.62 676.00h0M143.22 676.00h0M148.82 676.00h0M154.42 676.00h0M160.02 676.00h0M165.62 676.00h0M171.22 676.00h0M176.82 676.00h0M182.42 676.00h0M188.02 676.00h0M193.62 676.00h0M199.22 676.00h0M204.82 676.00h0M210.42 676.00h0M216.02 676.00h0M221.62 676.00h0M227.22 676.00h0M39.62 681.60h0M45.22 681.60h0M50.82 681.60h0M56.42 681.60h0M62.02 681.60h0M67.62 681.60h0M73.22 681.60h0M78.82 681.60h0M84.42 681.60h0M90.02 681.60h0M95.62 681.60h0M101.22 681.60h0M106.82 681.60h0M112.42 681.60h0M118.02 681.60h0M123.62 681.60h0M129.22 681.60h0M134.82 681.60h0M140.42 681.60h0M146.02 681.60h0M151.62 681.60h0M157.22 681.60h0M162.82 681.60h0M168.42 681.60h0M174.02 681.60h0M179.62 681.60h0M185.22 681.60h0M190.82 681.60h0M196.42 681.60h0M202.02 681.60h0M207.62 681.60h0M213.22 681.60h0M218.82 681.60h0M224.42 681.60h0M230.02 681.60h0M42.42 687.20h0M48.02 687.20h0M53.62 687.20h0M59.22 687.20h0M64.82 687.20h0M70.42 687.20h0M76.02 687.20h0M81.62 687.20h0M87.22 687.20h0M92.82 687.20h0M98.42 687.20h0M104.02 687.20h0M109.62 687.20h0M115.22 687.20h0M120.82 687.20h0M126.42 687.20h0M132.02 687.20h0M137.62 687.20h0M143.22 687.20h0M148.82 687.20h0M154.42 687.20h0M160.02 687.20h0M165.62 687.20h0M171.22 687.20h0M176.82 687.20h0M182.42 687.20h0M188.02 687.20h0M193.62 687.20h0M199.22 687.20h0M204.82 687.20h0M210.42 687.20h0M216.02 687.20h0M221.62 687.20h0M227.22 687.20h0M39.62 692.80h0M45.22 692.80h0M50.82 692.80h0M56.42 692.80h0M62.02 692.80h0M67.62 692.80h0M73.22 692.80h0M78.82 692.80h0M84.42 692.80h0M90.02 692.80h0M95.62 692.80h0M101.22 692.80h0M106.82 692.80h0M112.42 692.80h0M118.02 692.80h0M123.62 692.80h0M129.22 692.80h0M134.82 692.80h0M140.42 692.80h0M146.02 692.80h0M151.62 692.80h0M157.22 692.80h0M162.82 692.80h0M168.42 692.80h0M174.02 692.80h0M179.62 692.80h0M185.22 692.80h0M190.82 692.80h0M196.42 692.80h0M202.02 692.80h0M207.62 692.80h0M213.22 692.80h0M218.82 692.80h0M224.42 692.80h0M230.02 692.80h0M42.42 698.40h0M48.02 698.40h0M53.62 698.40h0M59.22 698.40h0M64.82 698.40h0M70.42 698.40h0M76.02 698.40h0M81.62 698.40h0M87.22 698.40h0M92.82 698.40h0M98.42 698.40h0M104.02 698.40h0M109.62 698.40h0M115.22 698.40h0M120.82 698.40h0M126.42 698.40h0M132.02 698.40h0M137.62 698.40h0M143.22 698.40h0M148.82 698.40h0M154.42 698.40h0M160.02 698.40h0M165.62 698.40h0M171.22 698.40h0M176.82 698.40h0M182.42 698.40h0M188.02 698.40h0M193.62 698.40h0M199.22 698.40h0M204.82 698.40h0M210.42 698.40h0M216.02 698.40h0M221.62 698.40h0M227.22 698.40h0M39.62 704.00h0M45.22 704.00h0M50.82 704.00h0M56.42 704.00h0M62.02 704.00h0M67.62 704.00h0M73.22 704.00h0M78.82 704.00h0M84.42 704.00h0M90.02 704.00h0M95.62 704.00h0M101.22 704.00h0M106.82 704.00h0M112.42 704.00h0M118.02 704.00h0M123.62 704.00h0M129.22 704.00h0M134.82 704.00h0M140.42 704.00h0M146.02 704.00h0M151.62 704.00h0M157.22 704.00h0M162.82 704.00h0M168.42 704.00h0M174.02 704.00h0M179.62 704.00h0M185.22 704.00h0M190.82 704.00h0M196.42 704.00h0M202.02 704.00h0M207.62 704.00h0M213.22 704.00h0M218.82 704.00h0M224.42 704.00h0M230.02 704.00h0M42.42 709.60h0M48.02 709.60h0M53.62 709.60h0M59.22 709.60h0M64.82 709.60h0M70.42 709.60h0M76.02 709.60h0M81.62 709.60h0M87.22 709.60h0M92.82 709.60h0M98.42 709.60h0M104.02 709.60h0M109.62 709.60h0M115.22 709.60h0M120.82 709.60h0M126.42 709.60h0M132.02 709.60h0M137.62 709.60h0M143.22 709.60h0M148.82 709.60h0M154.42 709.60h0M160.02 709.60h0M165.62 709.60h0M171.22 709.60h0M176.82 709.60h0M182.42 709.60h0M188.02 709.60h0M193.62 709.60h0M199.22 709.60h0M204.82 709.60h0M210.42 709.60h0M216.02 709.60h0M221.62 709.60h0M227.22 709.60h0M39.62 715.20h0M45.22 715.20h0M50.82 715.20h0M56.42 715.20h0M62.02 715.20h0M67.62 715.20h0M73.22 715.20h0M78.82 715.20h0M84.42 715.20h0M90.02 715.20h0M95.62 715.20h0M101.22 715.20h0M106.82 715.20h0M112.42 715.20h0M118.02 715.20h0M123.62 715.20h0M129.22 715.20h0M134.82 715.20h0M140.42 715.20h0M146.02 715.20h0M151.62 715.20h0M157.22 715.20h0M162.82 715.20h0M168.42 715.20h0M174.02 715.20h0M179.62 715.20h0M185.22 715.20h0M190.82 715.20h0M196.42 715.20h0M202.02 715.20h0M207.62 715.20h0M213.22 715.20h0M218.82 715.20h0M224.42 715.20h0M230.02 715.20h0M42.42 720.80h0M48.02 720.80h0M53.62 720.80h0M59.22 720.80h0M64.82 720.80h0M70.42 720.80h0M76.02 720.80h0M81.62 720.80h0M87.22 720.80h0M92.82 720.80h0M98.42 720.80h0M104.02 720.80h0M109.62 720.80h0M115.22 720.80h0M120.82 720.80h0M126.42 720.80h0M132.02 720.80h0M137.62 720.80h0M143.22 720.80h0M148.82 720.80h0M154.42 720.80h0M160.02 720.80h0M165.62 720.80h0M171.22 720.80h0M176.82 720.80h0M182.42 720.80h0M188.02 720.80h0M193.62 720.80h0M199.22 720.80h0M204.82 720.80h0M210.42 720.80h0M216.02 720.80h0M221.62 720.80h0M227.22 720.80h0M39.62 726.40h0M45.22 726.40h0M50.82 726.40h0M56.42 726.40h0M62.02 726.40h0M67.62 726.40h0M73.22 726.40h0M78.82 726.40h0M84.42 726.40h0M90.02 726.40h0M95.62 726.40h0M101.22 726.40h0M106.82 726.40h0M112.42 726.40h0M118.02 726.40h0M123.62 726.40h0M129.22 726.40h0M134.82 726.40h0M140.42 726.40h0M146.02 726.40h0M151.62 726.40h0M157.22 726.40h0M162.82 726.40h0M168.42 726.40h0M174.02 726.40h0M179.62 726.40h0M185.22 726.40h0M190.82 726.40h0M196.42 726.40h0M202.02 726.40h0M207.62 726.40h0M213.22 726.40h0M218.82 726.40h0M224.42 726.40h0M230.02 726.40h0M42.42 732.00h0M48.02 732.00h0M53.62 732.00h0M59.22 732.00h0M64.82 732.00h0M70.42 732.00h0M76.02 732.00h0M81.62 732.00h0M87.22 732.00h0M92.82 732.00h0M98.42 732.00h0M104.02 732.00h0M109.62 732.00h0M115.22 732.00h0M120.82 732.00h0M126.42 732.00h0M132.02 732.00h0M137.62 732.00h0M143.22 732.00h0M148.82 732.00h0M154.42 732.00h0M160.02 732.00h0M165.62 732.00h0M171.22 732.00h0M176.82 732.00h0M182.42 732.00h0M188.02 732.00h0M193.62 732.00h0M199.22 732.00h0M204.82 732.00h0M210.42 732.00h0M216.02 732.00h0M221.62 732.00h0M227.22 732.00h0M39.62 737.60h0M45.22 737.60h0M50.82 737.60h0M56.42 737.60h0M62.02 737.60h0M67.62 737.60h0M73.22 737.60h0M78.82 737.60h0M84.42 737.60h0M90.02 737.60h0M95.62 737.60h0M101.22 737.60h0M106.82 737.60h0M112.42 737.60h0M118.02 737.60h0M123.62 737.60h0M129.22 737.60h0M134.82 737.60h0M140.42 737.60h0M146.02 737.60h0M151.62 737.60h0M157.22 737.60h0M162.82 737.60h0M168.42 737.60h0M174.02 737.60h0M179.62 737.60h0M185.22 737.60h0M190.82 737.60h0M196.42 737.60h0M202.02 737.60h0M207.62 737.60h0M213.22 737.60h0M218.82 737.60h0M224.42 737.60h0M230.02 737.60h0" stroke="#000" stroke-width="2.1" stroke-linecap="round" fill="none"/></g>
<g transform="translate(39.250,580.800) scale(0.99454,1.00351) translate(-38.450,-12.450)">
<path d="M38.4,19.6 L43.7,18.8 L50.3,18.5 L55.1,17.9 L57.0,17.7 L60.8,16.6 L63.6,18.5 L68.4,18.2 L74.1,18.5 L77.8,17.9 L82.6,17.7 L85.0,15.6 L87.3,15.0 L89.7,16.6 L90.7,19.1 L92.1,21.5 L95.0,23.9 L96.1,25.0 L96.5,28.6 L98.3,31.6 L100.8,33.4 L103.0,34.5 L105.2,35.2 L107.4,35.6 L109.3,36.8 L111.4,38.2 L112.6,40.8 L114.3,42.8 L117.3,44.9 L120.8,46.6 L124.3,47.5 L127.2,46.9 L130.1,45.8 L133.0,44.3 L134.5,43.4 L134.8,44.6 L132.4,46.9 L130.7,49.3 L128.4,50.1 L124.9,51.0 L122.5,51.9 L120.2,53.1 L118.7,53.9 L121.6,56.7 L125.1,61.0 L128.8,64.7 L131.7,67.6 L134.6,69.8 L137.5,70.9 L141.2,70.5 L145.0,68.8 L148.6,67.4 L152.3,65.9 L154.5,63.4 L156.0,61.2 L156.7,59.7 L157.8,60.4 L159.6,64.1 L161.1,67.7 L161.8,70.7 L161.1,74.3 L160.7,78.0 L160.3,81.6 L160.7,85.3 L161.8,88.2 L162.4,92.3 L162.8,96.9 L163.9,102.0 L165.0,107.0 L166.5,114.8 L167.9,120.6 L170.4,125.5 L173.8,130.4 L177.7,137.3 L180.6,144.1 L182.6,151.0 L184.6,157.8 L186.0,163.7 L188.0,169.5" fill="none" stroke="#000" stroke-width="1.2" stroke-linejoin="round"/>
<path d="M113.8,34.8 L113.8,33.0 L114.6,30.8 L118.1,30.4 L123.4,30.4 L126.0,30.8 L129.5,30.4 L132.2,29.1 L135.2,28.2 L136.1,30.0 L138.3,30.8 L140.9,28.6 L140.9,26.9 L141.8,26.0" fill="none" stroke="#000" stroke-width="1.05" stroke-linejoin="round"/>
<path d="M141.8,26.0 L140.9,24.3 L139.6,20.8 L137.4,18.1 L136.1,14.6 L133.0,13.8 L130.8,12.0" fill="none" stroke="#000" stroke-width="1.05" stroke-linejoin="round"/>
<path d="M141.8,26.0 L142.7,26.0 L147.0,25.1 L154.0,26.0 L157.6,28.2 L161.1,28.6 L164.2,27.8 L166.3,32.0 L170.5,38.3 L175.8,42.5 L178.6,43.6" fill="none" stroke="#000" stroke-width="1.05" stroke-linejoin="round"/>
<path d="M178.6,43.6 L181.0,40.4 L185.2,37.2 L185.8,33.0 L183.6,27.8 L185.2,22.5 L188.4,22.0 L189.4,24.6 L195.7,25.1 L196.3,28.8 L193.6,32.0 L191.5,34.6 L195.7,34.1 L199.9,30.9 L205.2,30.9 L208.3,31.4 L207.8,26.7 L208.3,23.6 L211.5,21.5 L213.6,19.4 L211.5,17.3 L206.2,16.2 L203.6,14.1 L204.1,12.0" fill="none" stroke="#000" stroke-width="1.05" stroke-linejoin="round"/>
<path d="M178.6,43.6 L179.3,45.8 L177.8,48.0 L175.7,50.2 L176.0,53.1 L176.4,56.8 L173.5,58.2 L172.7,61.2 L175.7,61.9 L178.6,61.5 L174.2,63.4 L171.3,66.3 L173.5,69.2 L171.3,72.1 L168.4,71.4 L168.4,75.0 L164.7,76.5 L161.8,76.5" fill="none" stroke="#000" stroke-width="1.05" stroke-linejoin="round"/>
<path d="M176.4,56.8 L179.2,56.7 L180.8,59.6 L187.5,61.7 L189.1,63.3 L197.5,63.3 L200.0,67.1 L203.3,66.2 L206.6,61.7 L209.9,60.0 L214.1,59.6 L214.9,62.5 L219.1,63.3 L224.9,61.2 L226.6,62.5 L231.5,62.5" fill="none" stroke="#000" stroke-width="1.05" stroke-linejoin="round"/>
<path d="M231.5,32.5 L230.4,32.0 L227.3,30.9 L224.1,27.8 L223.1,23.6 L224.1,18.3 L227.3,15.2 L229.5,13.5" fill="none" stroke="#000" stroke-width="1.05" stroke-linejoin="round"/>
<path d="M228.3,18.3 L229.9,25.7" fill="none" stroke="#000" stroke-width="1.05" stroke-linejoin="round"/>
<path d="M231.5,82.0 L225.8,81.6 L224.1,85.0 L220.3,87.0 L218.3,90.8 L219.1,93.3 L214.9,98.3 L212.4,97.4 L209.1,100.8 L207.9,104.1 L205.1,105.0 L202.2,107.0 L201.2,109.4 L194.3,108.9 L193.9,111.8 L189.5,113.8 L185.5,114.8 L182.6,117.2 L178.2,119.2 L179.7,122.6 L178.7,124.6 L177.2,128.0 L173.3,128.0 L170.9,127.0" fill="none" stroke="#000" stroke-width="1.05" stroke-linejoin="round"/>
<path d="M177.2,128.0 L178.0,134.3 L176.7,137.3" fill="none" stroke="#000" stroke-width="1.05" stroke-linejoin="round"/>
<path d="M214.9,98.3 L215.8,101.6 L215.4,106.6 L214.4,109.9 L213.9,114.8 L213.4,119.7 L214.9,122.1 L214.9,125.5 L210.5,125.5 L210.0,130.4 L210.5,134.3 L206.6,136.3 L207.1,141.2 L209.0,144.1 L209.5,148.0 L213.9,149.0 L219.8,149.0 L223.7,152.9 L226.6,155.9 L227.6,158.8 L223.7,161.7 L219.8,161.2 L216.8,163.7 L215.4,169.5" fill="none" stroke="#000" stroke-width="1.05" stroke-linejoin="round"/>
<path d="M214.9,125.5 L219.8,126.5 L225.6,124.1 L231.5,124.1" fill="none" stroke="#000" stroke-width="1.05" stroke-linejoin="round"/>
<path d="M227.6,158.8 L231.5,157.8" fill="none" stroke="#000" stroke-width="1.05" stroke-linejoin="round"/>
<path d="M184.6,160.8 L188.5,163.7 L191.4,169.5" fill="none" stroke="#000" stroke-width="1.05" stroke-linejoin="round"/>
<path d="M209.5,146.0 L213.0,144.5 L214.5,147.0 L212.0,149.5 L209.5,148.5 L209.5,146.0" fill="none" stroke="#000" stroke-width="1.05" stroke-linejoin="round"/>
<path d="M153.0,53.1 L162.5,53.5" fill="none" stroke="#000" stroke-width="1.05" stroke-linejoin="round"/>
<path d="M156.3,52.4 L156.7,59.7" fill="none" stroke="#000" stroke-width="1.05" stroke-linejoin="round"/>
<path d="M158.9,61.2 L164.7,59.3" fill="none" stroke="#000" stroke-width="1.05" stroke-linejoin="round"/>
<path d="M159.6,56.1 L160.7,54.2" fill="none" stroke="#000" stroke-width="1.05" stroke-linejoin="round"/>
<path d="M108.0,34.8 L109.5,33.8 L111.8,34.0 L113.6,34.8 L113.2,36.2 L111.5,37.3 L109.5,36.8 L108.2,35.9Z" fill="#000"/>
<path d="M152.0,56.5 L154.5,56.0 L155.3,58.0 L154.0,59.4 L152.2,58.8Z" fill="#000"/>
<path d="M163.3,75.6 L165.8,75.5 L166.3,77.2 L164.5,78.0 L163.2,77.3Z" fill="#000"/>
</g></g>
<rect x="39.25" y="578.6" width="191.30" height="157.40" fill="none" stroke="#111" stroke-width="1"/>
<rect x="237.2" y="142.04" width="6.0" height="6.71" fill="#fff0e9"/>
<rect x="237.2" y="135.69" width="6.0" height="6.71" fill="#fee7dc"/>
<rect x="237.2" y="129.33" width="6.0" height="6.71" fill="#fedccd"/>
<rect x="237.2" y="122.98" width="6.0" height="6.71" fill="#fdccb8"/>
<rect x="237.2" y="116.62" width="6.0" height="6.71" fill="#fcbba1"/>
<rect x="237.2" y="110.27" width="6.0" height="6.71" fill="#fca98c"/>
<rect x="237.2" y="103.91" width="6.0" height="6.71" fill="#fc9777"/>
<rect x="237.2" y="97.56" width="6.0" height="6.71" fill="#fc8565"/>
<rect x="237.2" y="91.20" width="6.0" height="6.71" fill="#fb7353"/>
<rect x="237.2" y="84.84" width="6.0" height="6.71" fill="#f85f43"/>
<rect x="237.2" y="78.49" width="6.0" height="6.71" fill="#f34a36"/>
<rect x="237.2" y="72.13" width="6.0" height="6.71" fill="#eb372a"/>
<rect x="237.2" y="65.78" width="6.0" height="6.71" fill="#db2824"/>
<rect x="237.2" y="59.42" width="6.0" height="6.71" fill="#ca181d"/>
<rect x="237.2" y="53.07" width="6.0" height="6.71" fill="#b91419"/>
<rect x="237.2" y="46.71" width="6.0" height="6.71" fill="#a91016"/>
<rect x="237.2" y="40.36" width="6.0" height="6.71" fill="#900a12"/>
<rect x="237.2" y="34.00" width="6.0" height="6.71" fill="#75030f"/>
<path d="M237.2,34.3 L240.2,27.9 L243.2,34.3 Z" fill="#67000d"/>
<path d="M237.2,148.1 L240.2,154.7 L243.2,148.1 Z" fill="#fff5f0"/>
<path d="M237.2,148.4 V34.0 L240.2,27.9 L243.2,34.0 V148.4 L240.2,154.7 Z" fill="none" stroke="#000" stroke-width="0.8"/>
<path d="M243.2,148.40 h3.3" stroke="#000" stroke-width="0.8"/>
<text x="249.60" y="151.80" font-size="9.61" textLength="20.77" lengthAdjust="spacingAndGlyphs">0.19</text>
<path d="M243.2,135.70 h3.3" stroke="#000" stroke-width="0.8"/>
<text x="249.60" y="139.10" font-size="9.61" textLength="20.77" lengthAdjust="spacingAndGlyphs">0.21</text>
<path d="M243.2,123.00 h3.3" stroke="#000" stroke-width="0.8"/>
<text x="249.60" y="126.40" font-size="9.61" textLength="20.77" lengthAdjust="spacingAndGlyphs">0.23</text>
<path d="M243.2,110.30 h3.3" stroke="#000" stroke-width="0.8"/>
<text x="249.60" y="113.70" font-size="9.61" textLength="20.77" lengthAdjust="spacingAndGlyphs">0.25</text>
<path d="M243.2,97.60 h3.3" stroke="#000" stroke-width="0.8"/>
<text x="249.60" y="101.00" font-size="9.61" textLength="20.77" lengthAdjust="spacingAndGlyphs">0.27</text>
<path d="M243.2,84.90 h3.3" stroke="#000" stroke-width="0.8"/>
<text x="249.60" y="88.30" font-size="9.61" textLength="20.77" lengthAdjust="spacingAndGlyphs">0.29</text>
<path d="M243.2,72.20 h3.3" stroke="#000" stroke-width="0.8"/>
<text x="249.60" y="75.60" font-size="9.61" textLength="20.77" lengthAdjust="spacingAndGlyphs">0.31</text>
<path d="M243.2,59.50 h3.3" stroke="#000" stroke-width="0.8"/>
<text x="249.60" y="62.90" font-size="9.61" textLength="20.77" lengthAdjust="spacingAndGlyphs">0.33</text>
<path d="M243.2,46.80 h3.3" stroke="#000" stroke-width="0.8"/>
<text x="249.60" y="50.20" font-size="9.61" textLength="20.77" lengthAdjust="spacingAndGlyphs">0.35</text>
<path d="M243.2,34.10 h3.3" stroke="#000" stroke-width="0.8"/>
<text x="249.60" y="37.50" font-size="9.61" textLength="20.77" lengthAdjust="spacingAndGlyphs">0.37</text>
<rect x="237.4" y="327.74" width="6.0" height="9.11" fill="#520b7c"/>
<rect x="237.4" y="318.98" width="6.0" height="9.11" fill="#8a0fd6"/>
<rect x="237.4" y="310.22" width="6.0" height="9.11" fill="#a93ae6"/>
<rect x="237.4" y="301.45" width="6.0" height="9.11" fill="#c97cf0"/>
<rect x="237.4" y="292.69" width="6.0" height="9.11" fill="#e0b4f7"/>
<rect x="237.4" y="283.93" width="6.0" height="9.11" fill="#f0dcfa"/>
<rect x="237.4" y="275.17" width="6.0" height="9.11" fill="#ffffff"/>
<rect x="237.4" y="266.41" width="6.0" height="9.11" fill="#fff5d5"/>
<rect x="237.4" y="257.65" width="6.0" height="9.11" fill="#fee26b"/>
<rect x="237.4" y="248.88" width="6.0" height="9.11" fill="#fec42f"/>
<rect x="237.4" y="240.12" width="6.0" height="9.11" fill="#fea031"/>
<rect x="237.4" y="231.36" width="6.0" height="9.11" fill="#fd6a02"/>
<rect x="237.4" y="222.60" width="6.0" height="9.11" fill="#e02a26"/>
<path d="M237.4,222.9 L240.4,216.1 L243.4,222.9 Z" fill="#d42020"/>
<path d="M237.4,336.2 L240.4,342.7 L243.4,336.2 Z" fill="#4a0a70"/>
<path d="M237.4,336.5 V222.6 L240.4,216.1 L243.4,222.6 V336.5 L240.4,342.7 Z" fill="none" stroke="#000" stroke-width="0.8"/>
<path d="M243.4,331.60 h3.3" stroke="#000" stroke-width="0.8"/>
<text x="249.80" y="335.00" font-size="9.61" textLength="34.57" lengthAdjust="spacingAndGlyphs">−0.180</text>
<path d="M243.4,318.66 h3.3" stroke="#000" stroke-width="0.8"/>
<text x="249.80" y="322.06" font-size="9.61" textLength="34.57" lengthAdjust="spacingAndGlyphs">−0.135</text>
<path d="M243.4,305.72 h3.3" stroke="#000" stroke-width="0.8"/>
<text x="249.80" y="309.12" font-size="9.61" textLength="34.57" lengthAdjust="spacingAndGlyphs">−0.090</text>
<path d="M243.4,292.78 h3.3" stroke="#000" stroke-width="0.8"/>
<text x="249.80" y="296.18" font-size="9.61" textLength="34.57" lengthAdjust="spacingAndGlyphs">−0.045</text>
<path d="M243.4,279.84 h3.3" stroke="#000" stroke-width="0.8"/>
<text x="249.80" y="283.24" font-size="9.61" textLength="26.71" lengthAdjust="spacingAndGlyphs">0.000</text>
<path d="M243.4,266.90 h3.3" stroke="#000" stroke-width="0.8"/>
<text x="249.80" y="270.30" font-size="9.61" textLength="26.71" lengthAdjust="spacingAndGlyphs">0.045</text>
<path d="M243.4,253.96 h3.3" stroke="#000" stroke-width="0.8"/>
<text x="249.80" y="257.36" font-size="9.61" textLength="26.71" lengthAdjust="spacingAndGlyphs">0.090</text>
<path d="M243.4,241.02 h3.3" stroke="#000" stroke-width="0.8"/>
<text x="249.80" y="244.42" font-size="9.61" textLength="26.71" lengthAdjust="spacingAndGlyphs">0.135</text>
<path d="M243.4,228.08 h3.3" stroke="#000" stroke-width="0.8"/>
<text x="249.80" y="231.48" font-size="9.61" textLength="26.71" lengthAdjust="spacingAndGlyphs">0.180</text>
<rect x="237.3" y="527.16" width="6.0" height="4.49" fill="#f4fbed"/>
<rect x="237.3" y="523.02" width="6.0" height="4.49" fill="#eef8e7"/>
<rect x="237.3" y="518.88" width="6.0" height="4.49" fill="#e7f6e2"/>
<rect x="237.3" y="514.73" width="6.0" height="4.49" fill="#e1f4dc"/>
<rect x="237.3" y="510.59" width="6.0" height="4.49" fill="#dcf1d6"/>
<rect x="237.3" y="506.45" width="6.0" height="4.49" fill="#d6efd0"/>
<rect x="237.3" y="502.31" width="6.0" height="4.49" fill="#d0edca"/>
<rect x="237.3" y="498.17" width="6.0" height="4.49" fill="#c9eac4"/>
<rect x="237.3" y="494.03" width="6.0" height="4.49" fill="#bfe6bf"/>
<rect x="237.3" y="489.89" width="6.0" height="4.49" fill="#b6e3bb"/>
<rect x="237.3" y="485.74" width="6.0" height="4.49" fill="#acdfb7"/>
<rect x="237.3" y="481.60" width="6.0" height="4.49" fill="#a0dab8"/>
<rect x="237.3" y="477.46" width="6.0" height="4.49" fill="#94d5bc"/>
<rect x="237.3" y="473.32" width="6.0" height="4.49" fill="#87d1c0"/>
<rect x="237.3" y="469.18" width="6.0" height="4.49" fill="#7accc4"/>
<rect x="237.3" y="465.04" width="6.0" height="4.49" fill="#6fc5c8"/>
<rect x="237.3" y="460.90" width="6.0" height="4.49" fill="#62becc"/>
<rect x="237.3" y="456.76" width="6.0" height="4.49" fill="#56b7d0"/>
<rect x="237.3" y="452.61" width="6.0" height="4.49" fill="#4aafd1"/>
<rect x="237.3" y="448.47" width="6.0" height="4.49" fill="#40a4cb"/>
<rect x="237.3" y="444.33" width="6.0" height="4.49" fill="#379ac5"/>
<rect x="237.3" y="440.19" width="6.0" height="4.49" fill="#2d8fbf"/>
<rect x="237.3" y="436.05" width="6.0" height="4.49" fill="#2484ba"/>
<rect x="237.3" y="431.91" width="6.0" height="4.49" fill="#1a7ab5"/>
<rect x="237.3" y="427.77" width="6.0" height="4.49" fill="#1070b0"/>
<rect x="237.3" y="423.62" width="6.0" height="4.49" fill="#0866a9"/>
<rect x="237.3" y="419.48" width="6.0" height="4.49" fill="#085c9f"/>
<rect x="237.3" y="415.34" width="6.0" height="4.49" fill="#085093"/>
<rect x="237.3" y="411.20" width="6.0" height="4.49" fill="#084586"/>
<path d="M237.3,411.5 L240.3,405.2 L243.3,411.5 Z" fill="#084081"/>
<path d="M237.3,531.3 V411.2 L240.3,405.2 L243.3,411.2 V531.3 Z" fill="none" stroke="#000" stroke-width="0.8"/>
<path d="M243.3,531.30 h3.3" stroke="#000" stroke-width="0.8"/>
<text x="249.70" y="534.70" font-size="9.61" textLength="14.84" lengthAdjust="spacingAndGlyphs">0.0</text>
<path d="M243.3,518.85 h3.3" stroke="#000" stroke-width="0.8"/>
<text x="249.70" y="522.25" font-size="9.61" textLength="14.84" lengthAdjust="spacingAndGlyphs">0.3</text>
<path d="M243.3,506.40 h3.3" stroke="#000" stroke-width="0.8"/>
<text x="249.70" y="509.80" font-size="9.61" textLength="14.84" lengthAdjust="spacingAndGlyphs">0.6</text>
<path d="M243.3,493.95 h3.3" stroke="#000" stroke-width="0.8"/>
<text x="249.70" y="497.35" font-size="9.61" textLength="14.84" lengthAdjust="spacingAndGlyphs">0.9</text>
<path d="M243.3,481.50 h3.3" stroke="#000" stroke-width="0.8"/>
<text x="249.70" y="484.90" font-size="9.61" textLength="14.84" lengthAdjust="spacingAndGlyphs">1.2</text>
<path d="M243.3,469.05 h3.3" stroke="#000" stroke-width="0.8"/>
<text x="249.70" y="472.45" font-size="9.61" textLength="14.84" lengthAdjust="spacingAndGlyphs">1.5</text>
<path d="M243.3,456.60 h3.3" stroke="#000" stroke-width="0.8"/>
<text x="249.70" y="460.00" font-size="9.61" textLength="14.84" lengthAdjust="spacingAndGlyphs">1.8</text>
<path d="M243.3,444.15 h3.3" stroke="#000" stroke-width="0.8"/>
<text x="249.70" y="447.55" font-size="9.61" textLength="14.84" lengthAdjust="spacingAndGlyphs">2.1</text>
<path d="M243.3,431.70 h3.3" stroke="#000" stroke-width="0.8"/>
<text x="249.70" y="435.10" font-size="9.61" textLength="14.84" lengthAdjust="spacingAndGlyphs">2.4</text>
<path d="M243.3,419.25 h3.3" stroke="#000" stroke-width="0.8"/>
<text x="249.70" y="422.65" font-size="9.61" textLength="14.84" lengthAdjust="spacingAndGlyphs">2.7</text>
<rect x="237.3" y="710.63" width="6.0" height="4.32" fill="#f5fbf2"/>
<rect x="237.3" y="706.67" width="6.0" height="4.32" fill="#f0f9ec"/>
<rect x="237.3" y="702.70" width="6.0" height="4.32" fill="#ebf7e7"/>
<rect x="237.3" y="698.74" width="6.0" height="4.32" fill="#e6f5e1"/>
<rect x="237.3" y="694.77" width="6.0" height="4.32" fill="#def2d9"/>
<rect x="237.3" y="690.81" width="6.0" height="4.32" fill="#d6efd0"/>
<rect x="237.3" y="686.84" width="6.0" height="4.32" fill="#cdecc7"/>
<rect x="237.3" y="682.88" width="6.0" height="4.32" fill="#c4e8bd"/>
<rect x="237.3" y="678.91" width="6.0" height="4.32" fill="#bae3b3"/>
<rect x="237.3" y="674.94" width="6.0" height="4.32" fill="#b0dfaa"/>
<rect x="237.3" y="670.98" width="6.0" height="4.32" fill="#a5db9f"/>
<rect x="237.3" y="667.01" width="6.0" height="4.32" fill="#99d595"/>
<rect x="237.3" y="663.05" width="6.0" height="4.32" fill="#8dd08a"/>
<rect x="237.3" y="659.08" width="6.0" height="4.32" fill="#80ca80"/>
<rect x="237.3" y="655.12" width="6.0" height="4.32" fill="#73c476"/>
<rect x="237.3" y="651.15" width="6.0" height="4.32" fill="#66bd6f"/>
<rect x="237.3" y="647.19" width="6.0" height="4.32" fill="#58b668"/>
<rect x="237.3" y="643.22" width="6.0" height="4.32" fill="#4aaf61"/>
<rect x="237.3" y="639.26" width="6.0" height="4.32" fill="#3ea75a"/>
<rect x="237.3" y="635.29" width="6.0" height="4.32" fill="#359e53"/>
<rect x="237.3" y="631.32" width="6.0" height="4.32" fill="#2e964d"/>
<rect x="237.3" y="627.36" width="6.0" height="4.32" fill="#258d47"/>
<rect x="237.3" y="623.39" width="6.0" height="4.32" fill="#1c8540"/>
<rect x="237.3" y="619.43" width="6.0" height="4.32" fill="#127c39"/>
<rect x="237.3" y="615.46" width="6.0" height="4.32" fill="#087432"/>
<rect x="237.3" y="611.50" width="6.0" height="4.32" fill="#006b2b"/>
<rect x="237.3" y="607.53" width="6.0" height="4.32" fill="#006027"/>
<rect x="237.3" y="603.57" width="6.0" height="4.32" fill="#005522"/>
<rect x="237.3" y="599.60" width="6.0" height="4.32" fill="#00491d"/>
<path d="M237.3,599.9 L240.3,594.1 L243.3,599.9 Z" fill="#00441b"/>
<path d="M237.3,714.3000000000001 L240.3,720.4 L243.3,714.3000000000001 Z" fill="#f7fcf5"/>
<path d="M237.3,714.6 V599.6 L240.3,594.1 L243.3,599.6 V714.6 L240.3,720.4 Z" fill="none" stroke="#000" stroke-width="0.8"/>
<path d="M243.3,714.60 h3.3" stroke="#000" stroke-width="0.8"/>
<text x="249.70" y="718.00" font-size="9.61" textLength="14.84" lengthAdjust="spacingAndGlyphs">0.0</text>
<path d="M243.3,702.73 h3.3" stroke="#000" stroke-width="0.8"/>
<text x="249.70" y="706.13" font-size="9.61" textLength="14.84" lengthAdjust="spacingAndGlyphs">0.3</text>
<path d="M243.3,690.86 h3.3" stroke="#000" stroke-width="0.8"/>
<text x="249.70" y="694.26" font-size="9.61" textLength="14.84" lengthAdjust="spacingAndGlyphs">0.6</text>
<path d="M243.3,678.99 h3.3" stroke="#000" stroke-width="0.8"/>
<text x="249.70" y="682.39" font-size="9.61" textLength="14.84" lengthAdjust="spacingAndGlyphs">0.9</text>
<path d="M243.3,667.12 h3.3" stroke="#000" stroke-width="0.8"/>
<text x="249.70" y="670.52" font-size="9.61" textLength="14.84" lengthAdjust="spacingAndGlyphs">1.2</text>
<path d="M243.3,655.25 h3.3" stroke="#000" stroke-width="0.8"/>
<text x="249.70" y="658.65" font-size="9.61" textLength="14.84" lengthAdjust="spacingAndGlyphs">1.5</text>
<path d="M243.3,643.38 h3.3" stroke="#000" stroke-width="0.8"/>
<text x="249.70" y="646.78" font-size="9.61" textLength="14.84" lengthAdjust="spacingAndGlyphs">1.8</text>
<path d="M243.3,631.51 h3.3" stroke="#000" stroke-width="0.8"/>
<text x="249.70" y="634.91" font-size="9.61" textLength="14.84" lengthAdjust="spacingAndGlyphs">2.1</text>
<path d="M243.3,619.64 h3.3" stroke="#000" stroke-width="0.8"/>
<text x="249.70" y="623.04" font-size="9.61" textLength="14.84" lengthAdjust="spacingAndGlyphs">2.4</text>
<path d="M243.3,607.77 h3.3" stroke="#000" stroke-width="0.8"/>
<text x="249.70" y="611.17" font-size="9.61" textLength="14.84" lengthAdjust="spacingAndGlyphs">2.7</text>
<text x="39.60" y="7.05" font-size="9.61" textLength="52.60" lengthAdjust="spacingAndGlyphs" >(a) JJAS SST</text>
<text x="39.90" y="195.40" font-size="9.61" textLength="96.00" lengthAdjust="spacingAndGlyphs" >(c) JJAS Vorticity (10</text>
<text x="136.20" y="191.70" font-size="6.70" textLength="7.00" lengthAdjust="spacingAndGlyphs" >−5</text>
<text x="143.40" y="195.40" font-size="9.61" textLength="3.30" lengthAdjust="spacingAndGlyphs" >)</text>
<text x="39.90" y="384.20" font-size="9.61" textLength="34.50" lengthAdjust="spacingAndGlyphs" >(e) JJAS </text>
<text x="76.60" y="384.20" font-size="9.61" textLength="12.80" lengthAdjust="spacingAndGlyphs" font-style="italic">RH</text>
<text x="89.40" y="385.80" font-size="6.80" textLength="36.80" lengthAdjust="spacingAndGlyphs" >[300<tspan font-style="italic">to</tspan>700]</text>
<text x="39.90" y="573.20" font-size="9.61" textLength="61.00" lengthAdjust="spacingAndGlyphs" >(g) JJAS TCLW</text>
<text x="34.00" y="37.45" font-size="14.01" text-anchor="end" textLength="34.00" lengthAdjust="spacingAndGlyphs" >24°N</text>
<text x="34.00" y="60.30" font-size="14.01" text-anchor="end" textLength="34.00" lengthAdjust="spacingAndGlyphs" >22°N</text>
<text x="34.00" y="83.15" font-size="14.01" text-anchor="end" textLength="34.00" lengthAdjust="spacingAndGlyphs" >20°N</text>
<text x="34.00" y="106.00" font-size="14.01" text-anchor="end" textLength="34.00" lengthAdjust="spacingAndGlyphs" >18°N</text>
<text x="34.00" y="128.85" font-size="14.01" text-anchor="end" textLength="34.00" lengthAdjust="spacingAndGlyphs" >16°N</text>
<text x="34.00" y="151.70" font-size="14.01" text-anchor="end" textLength="34.00" lengthAdjust="spacingAndGlyphs" >14°N</text>
<text x="34.00" y="227.30" font-size="14.01" text-anchor="end" textLength="34.00" lengthAdjust="spacingAndGlyphs" >24°N</text>
<text x="34.00" y="250.15" font-size="14.01" text-anchor="end" textLength="34.00" lengthAdjust="spacingAndGlyphs" >22°N</text>
<text x="34.00" y="273.00" font-size="14.01" text-anchor="end" textLength="34.00" lengthAdjust="spacingAndGlyphs" >20°N</text>
<text x="34.00" y="295.85" font-size="14.01" text-anchor="end" textLength="34.00" lengthAdjust="spacingAndGlyphs" >18°N</text>
<text x="34.00" y="318.70" font-size="14.01" text-anchor="end" textLength="34.00" lengthAdjust="spacingAndGlyphs" >16°N</text>
<text x="34.00" y="341.55" font-size="14.01" text-anchor="end" textLength="34.00" lengthAdjust="spacingAndGlyphs" >14°N</text>
<text x="34.00" y="415.90" font-size="14.01" text-anchor="end" textLength="34.00" lengthAdjust="spacingAndGlyphs" >24°N</text>
<text x="34.00" y="438.75" font-size="14.01" text-anchor="end" textLength="34.00" lengthAdjust="spacingAndGlyphs" >22°N</text>
<text x="34.00" y="461.60" font-size="14.01" text-anchor="end" textLength="34.00" lengthAdjust="spacingAndGlyphs" >20°N</text>
<text x="34.00" y="484.45" font-size="14.01" text-anchor="end" textLength="34.00" lengthAdjust="spacingAndGlyphs" >18°N</text>
<text x="34.00" y="507.30" font-size="14.01" text-anchor="end" textLength="34.00" lengthAdjust="spacingAndGlyphs" >16°N</text>
<text x="34.00" y="530.15" font-size="14.01" text-anchor="end" textLength="34.00" lengthAdjust="spacingAndGlyphs" >14°N</text>
<text x="34.00" y="605.00" font-size="14.01" text-anchor="end" textLength="34.00" lengthAdjust="spacingAndGlyphs" >24°N</text>
<text x="34.00" y="627.85" font-size="14.01" text-anchor="end" textLength="34.00" lengthAdjust="spacingAndGlyphs" >22°N</text>
<text x="34.00" y="650.70" font-size="14.01" text-anchor="end" textLength="34.00" lengthAdjust="spacingAndGlyphs" >20°N</text>
<text x="34.00" y="673.55" font-size="14.01" text-anchor="end" textLength="34.00" lengthAdjust="spacingAndGlyphs" >18°N</text>
<text x="34.00" y="696.40" font-size="14.01" text-anchor="end" textLength="34.00" lengthAdjust="spacingAndGlyphs" >16°N</text>
<text x="34.00" y="719.25" font-size="14.01" text-anchor="end" textLength="34.00" lengthAdjust="spacingAndGlyphs" >14°N</text>
<text x="62.10" y="751.50" font-size="14.01" text-anchor="middle" textLength="33.40" lengthAdjust="spacingAndGlyphs" >64°E</text>
<text x="106.80" y="751.50" font-size="14.01" text-anchor="middle" textLength="33.40" lengthAdjust="spacingAndGlyphs" >68°E</text>
<text x="152.20" y="751.50" font-size="14.01" text-anchor="middle" textLength="33.40" lengthAdjust="spacingAndGlyphs" >72°E</text>
<text x="196.60" y="751.50" font-size="14.01" text-anchor="middle" textLength="33.40" lengthAdjust="spacingAndGlyphs" >76°E</text>
<g transform="translate(280.70,164.90) rotate(-90)"><text x="0.00" y="0.00" font-size="9.61" textLength="96.00" lengthAdjust="spacingAndGlyphs" >SST Changing Rate (</text><text x="96.20" y="-3.60" font-size="6.70" textLength="3.90" lengthAdjust="spacingAndGlyphs" >o</text><text x="100.20" y="0.00" font-size="9.61" textLength="47.00" lengthAdjust="spacingAndGlyphs" >C/decade)</text></g>
<g transform="translate(296.00,336.70) rotate(-90)"><text x="0.00" y="0.00" font-size="9.61" textLength="63.00" lengthAdjust="spacingAndGlyphs" >Vorticity (Sec</text><text x="63.20" y="-3.60" font-size="6.70" textLength="9.00" lengthAdjust="spacingAndGlyphs" >−1</text><text x="72.60" y="0.00" font-size="9.61" textLength="41.50" lengthAdjust="spacingAndGlyphs" >/decade)</text></g>
<g transform="translate(275.60,517.30) rotate(-90)"><text x="0.00" y="0.00" font-size="9.61" textLength="11.00" lengthAdjust="spacingAndGlyphs" font-style="italic">RH</text><text x="11.20" y="1.80" font-size="6.80" textLength="33.20" lengthAdjust="spacingAndGlyphs" >[300<tspan font-style="italic">to</tspan>700]</text><text x="48.60" y="0.00" font-size="9.61" textLength="53.10" lengthAdjust="spacingAndGlyphs" >(%)/decade</text></g>
<g transform="translate(276.70,710.00) rotate(-90)"><text x="0.00" y="0.00" font-size="9.61" textLength="32.80" lengthAdjust="spacingAndGlyphs" >TCLW (</text><text x="33.00" y="0.00" font-size="9.61" textLength="17.60" lengthAdjust="spacingAndGlyphs" font-style="italic">g/m</text><text x="50.80" y="-3.60" font-size="6.70" textLength="9.60" lengthAdjust="spacingAndGlyphs" >−2</text><text x="61.00" y="0.00" font-size="9.61" textLength="41.00" lengthAdjust="spacingAndGlyphs" >)/decade</text></g>
<g transform="translate(320.10,114.90) rotate(-90)"><text x="0.00" y="0.00" font-size="13.46" textLength="24.60" lengthAdjust="spacingAndGlyphs" >SST</text><text x="28.50" y="-5.30" font-size="9.42" textLength="4.60" lengthAdjust="spacingAndGlyphs" >o</text><text x="34.20" y="0.00" font-size="13.46" textLength="9.20" lengthAdjust="spacingAndGlyphs" >C</text></g>
<g transform="translate(328.20,338.70) rotate(-90)"><text x="0.00" y="0.00" font-size="13.46" textLength="94.70" lengthAdjust="spacingAndGlyphs" >Voriticity x (10</text><text x="95.40" y="-5.30" font-size="9.42" textLength="13.10" lengthAdjust="spacingAndGlyphs" >−5</text><text x="109.60" y="0.00" font-size="13.46" textLength="4.60" lengthAdjust="spacingAndGlyphs" >)</text></g>
<g transform="translate(327.20,519.00) rotate(-90)"><text x="0.00" y="0.00" font-size="13.46" textLength="18.70" lengthAdjust="spacingAndGlyphs" font-style="italic">RH</text><text x="19.30" y="2.60" font-size="9.42" textLength="49.70" lengthAdjust="spacingAndGlyphs" >[300<tspan font-style="italic">to</tspan>700]</text><text x="75.50" y="0.00" font-size="13.46" textLength="20.20" lengthAdjust="spacingAndGlyphs" >(%)</text></g>
<g transform="translate(319.30,705.50) rotate(-90)"><text x="0.00" y="0.00" font-size="13.46" textLength="43.40" lengthAdjust="spacingAndGlyphs" >TCLW (</text><text x="43.40" y="0.00" font-size="13.46" textLength="28.50" lengthAdjust="spacingAndGlyphs" font-style="italic">g/m</text><text x="72.70" y="-5.30" font-size="9.42" textLength="14.00" lengthAdjust="spacingAndGlyphs" >−2</text><text x="87.00" y="0.00" font-size="13.46" textLength="4.60" lengthAdjust="spacingAndGlyphs" >)</text></g>
<path d="M353.5,12.6 V169.5 H684.3" fill="none" stroke="#2a2a2a" stroke-width="1.05" stroke-linecap="square" stroke-linejoin="miter"/>
<path d="M350.2,165.30 H353.5" stroke="#000" stroke-width="0.8"/>
<text x="346.90" y="168.70" text-anchor="end" font-size="9.61" textLength="20.77" lengthAdjust="spacingAndGlyphs">26.8</text>
<path d="M350.2,145.56 H353.5" stroke="#000" stroke-width="0.8"/>
<text x="346.90" y="148.96" text-anchor="end" font-size="9.61" textLength="20.77" lengthAdjust="spacingAndGlyphs">27.0</text>
<path d="M350.2,125.82 H353.5" stroke="#000" stroke-width="0.8"/>
<text x="346.90" y="129.22" text-anchor="end" font-size="9.61" textLength="20.77" lengthAdjust="spacingAndGlyphs">27.2</text>
<path d="M350.2,106.08 H353.5" stroke="#000" stroke-width="0.8"/>
<text x="346.90" y="109.48" text-anchor="end" font-size="9.61" textLength="20.77" lengthAdjust="spacingAndGlyphs">27.4</text>
<path d="M350.2,86.34 H353.5" stroke="#000" stroke-width="0.8"/>
<text x="346.90" y="89.74" text-anchor="end" font-size="9.61" textLength="20.77" lengthAdjust="spacingAndGlyphs">27.6</text>
<path d="M350.2,66.60 H353.5" stroke="#000" stroke-width="0.8"/>
<text x="346.90" y="70.00" text-anchor="end" font-size="9.61" textLength="20.77" lengthAdjust="spacingAndGlyphs">27.8</text>
<path d="M350.2,46.86 H353.5" stroke="#000" stroke-width="0.8"/>
<text x="346.90" y="50.26" text-anchor="end" font-size="9.61" textLength="20.77" lengthAdjust="spacingAndGlyphs">28.0</text>
<path d="M350.2,27.12 H353.5" stroke="#000" stroke-width="0.8"/>
<text x="346.90" y="30.52" text-anchor="end" font-size="9.61" textLength="20.77" lengthAdjust="spacingAndGlyphs">28.2</text>
<path d="M368.53,121.70 L375.87,103.60 L383.20,124.90 L390.54,162.60 L397.88,157.70 L405.21,148.50 L412.54,91.40 L419.88,66.10 L427.21,120.20 L434.55,116.50 L441.88,124.90 L449.22,113.30 L456.56,105.60 L463.89,120.40 L471.23,122.90 L478.56,131.10 L485.89,108.50 L493.23,67.80 L500.56,109.80 L507.90,105.10 L515.24,108.40 L522.57,74.90 L529.90,70.60 L537.24,86.10 L544.58,95.60 L551.91,93.00 L559.25,65.40 L566.58,95.10 L573.91,60.80 L581.25,19.70 L588.59,67.00 L595.92,92.80 L603.25,82.30 L610.59,78.70 L617.92,52.20 L625.26,43.00 L632.60,47.60 L639.93,56.50 L647.26,57.30 L654.60,26.60 L661.93,48.10 L669.27,31.50" fill="none" stroke="#000" stroke-width="1.45" stroke-linejoin="round"/>
<circle cx="368.53" cy="121.70" r="3.35"/>
<circle cx="375.87" cy="103.60" r="3.35"/>
<circle cx="383.20" cy="124.90" r="3.35"/>
<circle cx="390.54" cy="162.60" r="3.35"/>
<circle cx="397.88" cy="157.70" r="3.35"/>
<circle cx="405.21" cy="148.50" r="3.35"/>
<circle cx="412.54" cy="91.40" r="3.35"/>
<circle cx="419.88" cy="66.10" r="3.35"/>
<circle cx="427.21" cy="120.20" r="3.35"/>
<circle cx="434.55" cy="116.50" r="3.35"/>
<circle cx="441.88" cy="124.90" r="3.35"/>
<circle cx="449.22" cy="113.30" r="3.35"/>
<circle cx="456.56" cy="105.60" r="3.35"/>
<circle cx="463.89" cy="120.40" r="3.35"/>
<circle cx="471.23" cy="122.90" r="3.35"/>
<circle cx="478.56" cy="131.10" r="3.35"/>
<circle cx="485.89" cy="108.50" r="3.35"/>
<circle cx="493.23" cy="67.80" r="3.35"/>
<circle cx="500.56" cy="109.80" r="3.35"/>
<circle cx="507.90" cy="105.10" r="3.35"/>
<circle cx="515.24" cy="108.40" r="3.35"/>
<circle cx="522.57" cy="74.90" r="3.35"/>
<circle cx="529.90" cy="70.60" r="3.35"/>
<circle cx="537.24" cy="86.10" r="3.35"/>
<circle cx="544.58" cy="95.60" r="3.35"/>
<circle cx="551.91" cy="93.00" r="3.35"/>
<circle cx="559.25" cy="65.40" r="3.35"/>
<circle cx="566.58" cy="95.10" r="3.35"/>
<circle cx="573.91" cy="60.80" r="3.35"/>
<circle cx="581.25" cy="19.70" r="3.35"/>
<circle cx="588.59" cy="67.00" r="3.35"/>
<circle cx="595.92" cy="92.80" r="3.35"/>
<circle cx="603.25" cy="82.30" r="3.35"/>
<circle cx="610.59" cy="78.70" r="3.35"/>
<circle cx="617.92" cy="52.20" r="3.35"/>
<circle cx="625.26" cy="43.00" r="3.35"/>
<circle cx="632.60" cy="47.60" r="3.35"/>
<circle cx="639.93" cy="56.50" r="3.35"/>
<circle cx="647.26" cy="57.30" r="3.35"/>
<circle cx="654.60" cy="26.60" r="3.35"/>
<circle cx="661.93" cy="48.10" r="3.35"/>
<circle cx="669.27" cy="31.50" r="3.35"/>
<path d="M368.53,137.3 L669.27,42.8" stroke="#f00" stroke-width="2" stroke-dasharray="6.9,3"/>
<rect x="408.4" y="131.9" width="270.60" height="32.40" rx="2.6" fill="#fff" fill-opacity="0.8" stroke="#cccccc" stroke-opacity="0.8" stroke-width="0.9"/>
<path d="M353.5,201.4 V358.2 H684.3" fill="none" stroke="#2a2a2a" stroke-width="1.05" stroke-linecap="square" stroke-linejoin="miter"/>
<path d="M350.2,350.40 H353.5" stroke="#000" stroke-width="0.8"/>
<text x="346.90" y="353.80" text-anchor="end" font-size="9.61" textLength="5.94" lengthAdjust="spacingAndGlyphs">6</text>
<path d="M350.2,313.20 H353.5" stroke="#000" stroke-width="0.8"/>
<text x="346.90" y="316.60" text-anchor="end" font-size="9.61" textLength="5.94" lengthAdjust="spacingAndGlyphs">8</text>
<path d="M350.2,276.00 H353.5" stroke="#000" stroke-width="0.8"/>
<text x="346.90" y="279.40" text-anchor="end" font-size="9.61" textLength="11.87" lengthAdjust="spacingAndGlyphs">10</text>
<path d="M350.2,238.80 H353.5" stroke="#000" stroke-width="0.8"/>
<text x="346.90" y="242.20" text-anchor="end" font-size="9.61" textLength="11.87" lengthAdjust="spacingAndGlyphs">12</text>
<path d="M350.2,201.60 H353.5" stroke="#000" stroke-width="0.8"/>
<text x="346.90" y="205.00" text-anchor="end" font-size="9.61" textLength="11.87" lengthAdjust="spacingAndGlyphs">14</text>
<path d="M368.53,285.60 L375.87,282.20 L383.20,266.30 L390.54,290.90 L397.88,316.20 L405.21,345.50 L412.54,340.50 L419.88,281.70 L427.21,269.70 L434.55,287.00 L441.88,316.20 L449.22,325.10 L456.56,319.10 L463.89,208.50 L471.23,346.80 L478.56,341.20 L485.89,292.30 L493.23,332.80 L500.56,317.40 L507.90,351.10 L515.24,281.20 L522.57,329.10 L529.90,288.30 L537.24,325.80 L544.58,292.10 L551.91,266.50 L559.25,229.50 L566.58,264.00 L573.91,295.40 L581.25,292.10 L588.59,240.50 L595.92,278.80 L603.25,250.20 L610.59,287.70 L617.92,292.10 L625.26,305.60 L632.60,296.40 L639.93,277.50 L647.26,225.70 L654.60,244.80 L661.93,278.50 L669.27,266.30" fill="none" stroke="#000" stroke-width="1.45" stroke-linejoin="round"/>
<circle cx="368.53" cy="285.60" r="3.35"/>
<circle cx="375.87" cy="282.20" r="3.35"/>
<circle cx="383.20" cy="266.30" r="3.35"/>
<circle cx="390.54" cy="290.90" r="3.35"/>
<circle cx="397.88" cy="316.20" r="3.35"/>
<circle cx="405.21" cy="345.50" r="3.35"/>
<circle cx="412.54" cy="340.50" r="3.35"/>
<circle cx="419.88" cy="281.70" r="3.35"/>
<circle cx="427.21" cy="269.70" r="3.35"/>
<circle cx="434.55" cy="287.00" r="3.35"/>
<circle cx="441.88" cy="316.20" r="3.35"/>
<circle cx="449.22" cy="325.10" r="3.35"/>
<circle cx="456.56" cy="319.10" r="3.35"/>
<circle cx="463.89" cy="208.50" r="3.35"/>
<circle cx="471.23" cy="346.80" r="3.35"/>
<circle cx="478.56" cy="341.20" r="3.35"/>
<circle cx="485.89" cy="292.30" r="3.35"/>
<circle cx="493.23" cy="332.80" r="3.35"/>
<circle cx="500.56" cy="317.40" r="3.35"/>
<circle cx="507.90" cy="351.10" r="3.35"/>
<circle cx="515.24" cy="281.20" r="3.35"/>
<circle cx="522.57" cy="329.10" r="3.35"/>
<circle cx="529.90" cy="288.30" r="3.35"/>
<circle cx="537.24" cy="325.80" r="3.35"/>
<circle cx="544.58" cy="292.10" r="3.35"/>
<circle cx="551.91" cy="266.50" r="3.35"/>
<circle cx="559.25" cy="229.50" r="3.35"/>
<circle cx="566.58" cy="264.00" r="3.35"/>
<circle cx="573.91" cy="295.40" r="3.35"/>
<circle cx="581.25" cy="292.10" r="3.35"/>
<circle cx="588.59" cy="240.50" r="3.35"/>
<circle cx="595.92" cy="278.80" r="3.35"/>
<circle cx="603.25" cy="250.20" r="3.35"/>
<circle cx="610.59" cy="287.70" r="3.35"/>
<circle cx="617.92" cy="292.10" r="3.35"/>
<circle cx="625.26" cy="305.60" r="3.35"/>
<circle cx="632.60" cy="296.40" r="3.35"/>
<circle cx="639.93" cy="277.50" r="3.35"/>
<circle cx="647.26" cy="225.70" r="3.35"/>
<circle cx="654.60" cy="244.80" r="3.35"/>
<circle cx="661.93" cy="278.50" r="3.35"/>
<circle cx="669.27" cy="266.30" r="3.35"/>
<path d="M368.53,312.1 L669.27,271.0" stroke="#f00" stroke-width="2" stroke-dasharray="6.9,3"/>
<rect x="369.5" y="320.5" width="309.10" height="32.60" rx="2.6" fill="#fff" fill-opacity="0.8" stroke="#cccccc" stroke-opacity="0.8" stroke-width="0.9"/>
<path d="M353.5,390.4 V547.2 H684.3" fill="none" stroke="#2a2a2a" stroke-width="1.05" stroke-linecap="square" stroke-linejoin="miter"/>
<path d="M350.2,532.40 H353.5" stroke="#000" stroke-width="0.8"/>
<text x="346.90" y="535.80" text-anchor="end" font-size="9.61" textLength="11.87" lengthAdjust="spacingAndGlyphs">40</text>
<path d="M350.2,497.33 H353.5" stroke="#000" stroke-width="0.8"/>
<text x="346.90" y="500.73" text-anchor="end" font-size="9.61" textLength="11.87" lengthAdjust="spacingAndGlyphs">45</text>
<path d="M350.2,462.26 H353.5" stroke="#000" stroke-width="0.8"/>
<text x="346.90" y="465.66" text-anchor="end" font-size="9.61" textLength="11.87" lengthAdjust="spacingAndGlyphs">50</text>
<path d="M350.2,427.19 H353.5" stroke="#000" stroke-width="0.8"/>
<text x="346.90" y="430.59" text-anchor="end" font-size="9.61" textLength="11.87" lengthAdjust="spacingAndGlyphs">55</text>
<path d="M350.2,392.12 H353.5" stroke="#000" stroke-width="0.8"/>
<text x="346.90" y="395.52" text-anchor="end" font-size="9.61" textLength="11.87" lengthAdjust="spacingAndGlyphs">60</text>
<path d="M368.53,457.60 L375.87,511.30 L383.20,440.70 L390.54,474.20 L397.88,497.10 L405.21,495.90 L412.54,527.20 L419.88,429.40 L427.21,472.70 L434.55,477.30 L441.88,508.90 L449.22,498.50 L456.56,506.00 L463.89,441.20 L471.23,500.40 L478.56,466.00 L485.89,516.60 L493.23,439.00 L500.56,499.00 L507.90,491.30 L515.24,470.50 L522.57,539.90 L529.90,478.40 L537.24,473.80 L544.58,458.40 L551.91,453.60 L559.25,420.90 L566.58,455.60 L573.91,510.80 L581.25,416.50 L588.59,452.60 L595.92,472.70 L603.25,426.00 L610.59,493.70 L617.92,510.30 L625.26,464.80 L632.60,464.80 L639.93,491.60 L647.26,440.80 L654.60,397.10 L661.93,468.70 L669.27,427.80" fill="none" stroke="#000" stroke-width="1.45" stroke-linejoin="round"/>
<circle cx="368.53" cy="457.60" r="3.35"/>
<circle cx="375.87" cy="511.30" r="3.35"/>
<circle cx="383.20" cy="440.70" r="3.35"/>
<circle cx="390.54" cy="474.20" r="3.35"/>
<circle cx="397.88" cy="497.10" r="3.35"/>
<circle cx="405.21" cy="495.90" r="3.35"/>
<circle cx="412.54" cy="527.20" r="3.35"/>
<circle cx="419.88" cy="429.40" r="3.35"/>
<circle cx="427.21" cy="472.70" r="3.35"/>
<circle cx="434.55" cy="477.30" r="3.35"/>
<circle cx="441.88" cy="508.90" r="3.35"/>
<circle cx="449.22" cy="498.50" r="3.35"/>
<circle cx="456.56" cy="506.00" r="3.35"/>
<circle cx="463.89" cy="441.20" r="3.35"/>
<circle cx="471.23" cy="500.40" r="3.35"/>
<circle cx="478.56" cy="466.00" r="3.35"/>
<circle cx="485.89" cy="516.60" r="3.35"/>
<circle cx="493.23" cy="439.00" r="3.35"/>
<circle cx="500.56" cy="499.00" r="3.35"/>
<circle cx="507.90" cy="491.30" r="3.35"/>
<circle cx="515.24" cy="470.50" r="3.35"/>
<circle cx="522.57" cy="539.90" r="3.35"/>
<circle cx="529.90" cy="478.40" r="3.35"/>
<circle cx="537.24" cy="473.80" r="3.35"/>
<circle cx="544.58" cy="458.40" r="3.35"/>
<circle cx="551.91" cy="453.60" r="3.35"/>
<circle cx="559.25" cy="420.90" r="3.35"/>
<circle cx="566.58" cy="455.60" r="3.35"/>
<circle cx="573.91" cy="510.80" r="3.35"/>
<circle cx="581.25" cy="416.50" r="3.35"/>
<circle cx="588.59" cy="452.60" r="3.35"/>
<circle cx="595.92" cy="472.70" r="3.35"/>
<circle cx="603.25" cy="426.00" r="3.35"/>
<circle cx="610.59" cy="493.70" r="3.35"/>
<circle cx="617.92" cy="510.30" r="3.35"/>
<circle cx="625.26" cy="464.80" r="3.35"/>
<circle cx="632.60" cy="464.80" r="3.35"/>
<circle cx="639.93" cy="491.60" r="3.35"/>
<circle cx="647.26" cy="440.80" r="3.35"/>
<circle cx="654.60" cy="397.10" r="3.35"/>
<circle cx="661.93" cy="468.70" r="3.35"/>
<circle cx="669.27" cy="427.80" r="3.35"/>
<path d="M368.53,490.2 L669.27,455.1" stroke="#f00" stroke-width="2" stroke-dasharray="6.9,3"/>
<rect x="367.5" y="509.6" width="311.10" height="31.40" rx="2.6" fill="#fff" fill-opacity="0.8" stroke="#cccccc" stroke-opacity="0.8" stroke-width="0.9"/>
<path d="M353.5,579.2 V735.6 H684.3" fill="none" stroke="#2a2a2a" stroke-width="1.05" stroke-linecap="square" stroke-linejoin="miter"/>
<path d="M350.2,720.70 H353.5" stroke="#000" stroke-width="0.8"/>
<text x="346.90" y="724.10" text-anchor="end" font-size="9.61" textLength="20.77" lengthAdjust="spacingAndGlyphs">17.5</text>
<path d="M350.2,696.68 H353.5" stroke="#000" stroke-width="0.8"/>
<text x="346.90" y="700.08" text-anchor="end" font-size="9.61" textLength="20.77" lengthAdjust="spacingAndGlyphs">20.0</text>
<path d="M350.2,672.66 H353.5" stroke="#000" stroke-width="0.8"/>
<text x="346.90" y="676.06" text-anchor="end" font-size="9.61" textLength="20.77" lengthAdjust="spacingAndGlyphs">22.5</text>
<path d="M350.2,648.64 H353.5" stroke="#000" stroke-width="0.8"/>
<text x="346.90" y="652.04" text-anchor="end" font-size="9.61" textLength="20.77" lengthAdjust="spacingAndGlyphs">25.0</text>
<path d="M350.2,624.62 H353.5" stroke="#000" stroke-width="0.8"/>
<text x="346.90" y="628.02" text-anchor="end" font-size="9.61" textLength="20.77" lengthAdjust="spacingAndGlyphs">27.5</text>
<path d="M350.2,600.60 H353.5" stroke="#000" stroke-width="0.8"/>
<text x="346.90" y="604.00" text-anchor="end" font-size="9.61" textLength="20.77" lengthAdjust="spacingAndGlyphs">30.0</text>
<path d="M368.53,637.00 L375.87,661.10 L383.20,645.40 L390.54,710.40 L397.88,718.60 L405.21,729.00 L412.54,727.10 L419.88,668.80 L427.21,679.10 L434.55,658.60 L441.88,712.00 L449.22,699.30 L456.56,701.50 L463.89,648.80 L471.23,701.20 L478.56,666.30 L485.89,674.10 L493.23,635.50 L500.56,684.40 L507.90,684.40 L515.24,661.40 L522.57,701.60 L529.90,685.50 L537.24,649.20 L544.58,662.70 L551.91,625.70 L559.25,638.50 L566.58,674.20 L573.91,685.70 L581.25,585.80 L588.59,614.70 L595.92,685.70 L603.25,623.90 L610.59,655.30 L617.92,685.70 L625.26,639.50 L632.60,666.30 L639.93,685.70 L647.26,603.70 L654.60,591.20 L661.93,621.10 L669.27,609.60" fill="none" stroke="#000" stroke-width="1.45" stroke-linejoin="round"/>
<circle cx="368.53" cy="637.00" r="3.35"/>
<circle cx="375.87" cy="661.10" r="3.35"/>
<circle cx="383.20" cy="645.40" r="3.35"/>
<circle cx="390.54" cy="710.40" r="3.35"/>
<circle cx="397.88" cy="718.60" r="3.35"/>
<circle cx="405.21" cy="729.00" r="3.35"/>
<circle cx="412.54" cy="727.10" r="3.35"/>
<circle cx="419.88" cy="668.80" r="3.35"/>
<circle cx="427.21" cy="679.10" r="3.35"/>
<circle cx="434.55" cy="658.60" r="3.35"/>
<circle cx="441.88" cy="712.00" r="3.35"/>
<circle cx="449.22" cy="699.30" r="3.35"/>
<circle cx="456.56" cy="701.50" r="3.35"/>
<circle cx="463.89" cy="648.80" r="3.35"/>
<circle cx="471.23" cy="701.20" r="3.35"/>
<circle cx="478.56" cy="666.30" r="3.35"/>
<circle cx="485.89" cy="674.10" r="3.35"/>
<circle cx="493.23" cy="635.50" r="3.35"/>
<circle cx="500.56" cy="684.40" r="3.35"/>
<circle cx="507.90" cy="684.40" r="3.35"/>
<circle cx="515.24" cy="661.40" r="3.35"/>
<circle cx="522.57" cy="701.60" r="3.35"/>
<circle cx="529.90" cy="685.50" r="3.35"/>
<circle cx="537.24" cy="649.20" r="3.35"/>
<circle cx="544.58" cy="662.70" r="3.35"/>
<circle cx="551.91" cy="625.70" r="3.35"/>
<circle cx="559.25" cy="638.50" r="3.35"/>
<circle cx="566.58" cy="674.20" r="3.35"/>
<circle cx="573.91" cy="685.70" r="3.35"/>
<circle cx="581.25" cy="585.80" r="3.35"/>
<circle cx="588.59" cy="614.70" r="3.35"/>
<circle cx="595.92" cy="685.70" r="3.35"/>
<circle cx="603.25" cy="623.90" r="3.35"/>
<circle cx="610.59" cy="655.30" r="3.35"/>
<circle cx="617.92" cy="685.70" r="3.35"/>
<circle cx="625.26" cy="639.50" r="3.35"/>
<circle cx="632.60" cy="666.30" r="3.35"/>
<circle cx="639.93" cy="685.70" r="3.35"/>
<circle cx="647.26" cy="603.70" r="3.35"/>
<circle cx="654.60" cy="591.20" r="3.35"/>
<circle cx="661.93" cy="621.10" r="3.35"/>
<circle cx="669.27" cy="609.60" r="3.35"/>
<path d="M368.53,696.6 L669.27,631.8" stroke="#f00" stroke-width="2" stroke-dasharray="6.9,3"/>
<rect x="386.3" y="698.0" width="292.30" height="32.00" rx="2.6" fill="#fff" fill-opacity="0.8" stroke="#cccccc" stroke-opacity="0.8" stroke-width="0.9"/>
<path d="M411.9,148.1 H435.9" stroke="#000" stroke-width="1.45"/><circle cx="423.9" cy="148.1" r="3.35"/>
<text x="444.3" y="152.4" font-size="11.54" textLength="20.5" lengthAdjust="spacingAndGlyphs">SST</text>
<path d="M491.1,148.1 H514" stroke="#f00" stroke-width="2" stroke-dasharray="6.9,3"/>
<text x="522.8" y="145.4" font-size="11.54" textLength="99.6" lengthAdjust="spacingAndGlyphs">Trend(1981-2022)</text>
<text x="526.6" y="157.7" font-size="11.54" textLength="147" lengthAdjust="spacingAndGlyphs">p=3.27e-09,slope=0.0242</text>
<path d="M373.1,337.1 H397.2" stroke="#000" stroke-width="1.45"/><circle cx="385.1" cy="337.1" r="3.35"/>
<text x="405.3" y="340.9" font-size="11.54" textLength="49.2" lengthAdjust="spacingAndGlyphs">Voriticity</text>
<text x="458.6" y="340.9" font-size="11.54" textLength="18.2" lengthAdjust="spacingAndGlyphs">(10</text>
<text x="477.6" y="336.4" font-size="8.08" textLength="11.0" lengthAdjust="spacingAndGlyphs">−5</text>
<text x="489.2" y="340.9" font-size="11.54" textLength="4.0" lengthAdjust="spacingAndGlyphs">)</text>
<path d="M515.6,336.8 H538.6" stroke="#f00" stroke-width="2" stroke-dasharray="6.9,3"/>
<text x="548.3" y="333.7" font-size="11.54" textLength="99.6" lengthAdjust="spacingAndGlyphs">Trend(1981-2022)</text>
<text x="551.6" y="346.3" font-size="11.54" textLength="121.9" lengthAdjust="spacingAndGlyphs">p=0.035,slope=0.057</text>
<path d="M370.7,525.7 H394.7" stroke="#000" stroke-width="1.45"/><circle cx="382.7" cy="525.7" r="3.35"/>
<text x="402.7" y="529.6" font-size="11.54" font-style="italic" textLength="16.0" lengthAdjust="spacingAndGlyphs">RH</text>
<text x="419.0" y="531.9" font-size="8.08" textLength="43.2" lengthAdjust="spacingAndGlyphs">[300<tspan font-style="italic">to</tspan>700]</text>
<text x="466.5" y="529.6" font-size="11.54" textLength="19.2" lengthAdjust="spacingAndGlyphs">(%)</text>
<path d="M510,525.6 H531.7" stroke="#f00" stroke-width="2" stroke-dasharray="6.9,3"/>
<text x="540.7" y="522.3" font-size="11.54" textLength="99.6" lengthAdjust="spacingAndGlyphs">Trend(1981-2022)</text>
<text x="544.5" y="535.0" font-size="11.54" textLength="129" lengthAdjust="spacingAndGlyphs">p=0.0037,slope=0.134</text>
<path d="M389.9,714.5 H414.0" stroke="#000" stroke-width="1.45"/><circle cx="402.0" cy="714.5" r="3.35"/>
<text x="422.5" y="718.3" font-size="11.54" textLength="24.8" lengthAdjust="spacingAndGlyphs">CLW</text>
<text x="451.2" y="718.3" font-size="11.54" textLength="4.0" lengthAdjust="spacingAndGlyphs">(</text>
<text x="455.6" y="718.3" font-size="11.54" font-style="italic" textLength="21.6" lengthAdjust="spacingAndGlyphs">g/m</text>
<text x="477.6" y="713.8" font-size="8.08" textLength="11.0" lengthAdjust="spacingAndGlyphs">−2</text>
<text x="489.2" y="718.3" font-size="11.54" textLength="4.0" lengthAdjust="spacingAndGlyphs">)</text>
<path d="M515.6,714.4 H538.6" stroke="#f00" stroke-width="2" stroke-dasharray="6.9,3"/>
<text x="547.8" y="711.3" font-size="11.54" textLength="99.6" lengthAdjust="spacingAndGlyphs">Trend(1981-2022)</text>
<text x="551.6" y="723.3" font-size="11.54" textLength="121.9" lengthAdjust="spacingAndGlyphs">p=0.0019,slope=0.16</text>
<text x="354.0" y="6.4" font-size="9.61" textLength="13.22" lengthAdjust="spacingAndGlyphs">(b)</text>
<text x="354.0" y="194.6" font-size="9.61" textLength="13.22" lengthAdjust="spacingAndGlyphs">(d)</text>
<text x="354.0" y="384.3" font-size="9.61" textLength="10.92" lengthAdjust="spacingAndGlyphs">(f)</text>
<text x="354.0" y="573.2" font-size="9.61" textLength="13.22" lengthAdjust="spacingAndGlyphs">(h)</text>
<path d="M361.20,735.6 V738.9" stroke="#000" stroke-width="0.8"/>
<text x="361.20" y="749.6" text-anchor="middle" font-size="9.61" textLength="23.7" lengthAdjust="spacingAndGlyphs">1980</text>
<path d="M434.55,735.6 V738.9" stroke="#000" stroke-width="0.8"/>
<text x="434.55" y="749.6" text-anchor="middle" font-size="9.61" textLength="23.7" lengthAdjust="spacingAndGlyphs">1990</text>
<path d="M507.90,735.6 V738.9" stroke="#000" stroke-width="0.8"/>
<text x="507.90" y="749.6" text-anchor="middle" font-size="9.61" textLength="23.7" lengthAdjust="spacingAndGlyphs">2000</text>
<path d="M581.25,735.6 V738.9" stroke="#000" stroke-width="0.8"/>
<text x="581.25" y="749.6" text-anchor="middle" font-size="9.61" textLength="23.7" lengthAdjust="spacingAndGlyphs">2010</text>
<path d="M654.60,735.6 V738.9" stroke="#000" stroke-width="0.8"/>
<text x="654.60" y="749.6" text-anchor="middle" font-size="9.61" textLength="23.7" lengthAdjust="spacingAndGlyphs">2020</text>
<text x="519.0" y="765.0" text-anchor="middle" font-size="13.46" textLength="29.2" lengthAdjust="spacingAndGlyphs">year</text>
</svg></div></body></html>
